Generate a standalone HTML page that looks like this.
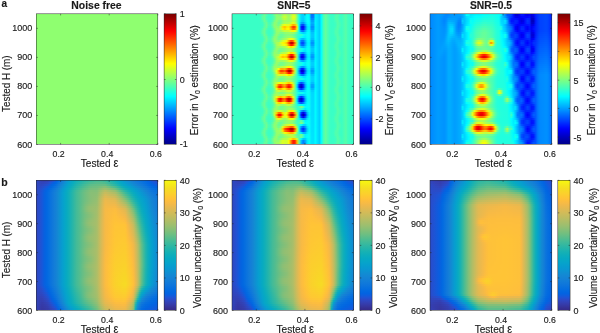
<!DOCTYPE html>
<html><head><meta charset="utf-8"><style>
html,body{margin:0;padding:0;background:#fff;width:600px;height:333px;overflow:hidden}
body{position:relative;font-family:"Liberation Sans",sans-serif;filter:blur(0.35px)}
.hm{position:absolute;overflow:hidden}
.hm i{display:block;width:100%}
svg{position:absolute;left:0;top:0}
text{font-family:"Liberation Sans",sans-serif;fill:#1a1a1a;stroke:#1a1a1a;stroke-width:0.15}
.tk{stroke:#262626;stroke-width:0.5;fill:none}
.bx{fill:none;stroke:#262626;stroke-width:0.5}
</style></head><body>
<div class="hm" style="left:36.30px;top:13.80px;width:121.50px;height:130.70px;background:#8fff70"></div>
<div class="hm" style="left:164.10px;top:13.80px;width:12.30px;height:130.70px;background:linear-gradient(180deg,#800000,#800,#980000,#a80000,#b80000,#c80000,#d90000,#e90000,#f90000,#ff0a00,#ff1a00,#ff2b00,#ff3b00,#ff4b00,#ff5b00,#ff6b00,#ff7c00,#ff8c00,#ff9c00,#ffac00,#ffbc00,#ffcd00,#fd0,#ffed00,#fffd00,#f1ff0e,#e1ff1e,#d0ff2f,#c0ff3f,#b0ff4f,#a0ff5f,#90ff6f,#7fff80,#6fff90,#5fffa0,#4fffb0,#3fffc0,#2effd1,#1effe1,#0efff1,#00fdff,#00edff,#00dcff,#0cf,#00bcff,#00acff,#009cff,#008cff,#007bff,#006bff,#005bff,#004bff,#003bff,#002aff,#001aff,#000aff,#0000f9,#0000e9,#0000d8,#0000c8,#0000b8,#0000a8,#000098,#00008f)"></div>
<div class="hm" style="left:232.00px;top:13.80px;width:121.50px;height:130.70px"><i style="height:2.011px;background:linear-gradient(90deg,#39ffc6,#39ffc6,#39ffc6,#39ffc6,#39ffc6,#39ffc6,#39ffc6,#39ffc6,#39ffc6,#39ffc6,#39ffc6,#39ffc6,#39ffc6,#39ffc6,#3bffc4,#4fffb0,#6cff93,#52ffad,#3cffc3,#3bffc4,#49ffb6,#71ff8e,#90ff6f,#80ff7f,#7dff82,#a4ff5b,#baff45,#a5ff5a,#93ff6c,#af5,#d7ff28,#cdff32,#7f8,#18ffe7,#00daff,#00ceff,#00e9ff,#05fffa,#00f8ff,#07f,#0070ff,#00e9ff,#00e3ff,#00ceff,#04fffb,#45ffba,#63ff9c,#51ffae,#3dffc2,#39ffc6,#3bffc4,#4dffb2,#5fa,#40ffbf,#3bffc4,#4affb5,#57ffa8,#42ffbd,#3affc5,#39ffc6,#39ffc6)"></i><i style="height:2.011px;background:linear-gradient(90deg,#39ffc6,#39ffc6,#39ffc6,#39ffc6,#39ffc6,#39ffc6,#39ffc6,#39ffc6,#39ffc6,#39ffc6,#39ffc6,#39ffc6,#39ffc6,#3affc5,#3effc1,#5bffa4,#69ff96,#47ffb8,#3affc5,#3affc5,#43ffbc,#63ff9c,#8eff71,#90ff6f,#8fff70,#b8ff47,#ceff31,#b1ff4e,#9f6,#b3ff4c,#e8ff17,#dfff20,#81ff7e,#1bffe4,#00dbff,#00cfff,#00e9ff,#05fffa,#00f8ff,#07f,#0071ff,#00e9ff,#00e3ff,#00ceff,#04fffb,#45ffba,#63ff9c,#51ffae,#3dffc2,#39ffc6,#3effc1,#53ffac,#51ffae,#3dffc2,#3bffc4,#4affb5,#57ffa8,#42ffbd,#3affc5,#39ffc6,#39ffc6)"></i><i style="height:2.011px;background:linear-gradient(90deg,#39ffc6,#39ffc6,#39ffc6,#39ffc6,#39ffc6,#39ffc6,#39ffc6,#39ffc6,#39ffc6,#39ffc6,#39ffc6,#39ffc6,#39ffc6,#39ffc6,#3dffc2,#58ffa7,#6bff94,#4affb5,#3bffc4,#3bffc4,#4fb,#67ff98,#90ff6f,#8cff73,#86ff79,#a8ff57,#bdff42,#a9ff56,#97ff68,#afff50,#dcff23,#d1ff2e,#7aff85,#19ffe6,#00daff,#00cdff,#00e8ff,#05fffa,#00fbff,#008aff,#0084ff,#00edff,#00e3ff,#00ceff,#04fffb,#45ffba,#63ff9c,#51ffae,#3dffc2,#39ffc6,#3dffc2,#51ffae,#52ffad,#3dffc2,#3bffc4,#4affb5,#57ffa8,#42ffbd,#3affc5,#39ffc6,#39ffc6)"></i><i style="height:2.011px;background:linear-gradient(90deg,#39ffc6,#39ffc6,#39ffc6,#39ffc6,#39ffc6,#39ffc6,#39ffc6,#39ffc6,#39ffc6,#39ffc6,#39ffc6,#39ffc6,#39ffc6,#39ffc6,#3affc5,#48ffb7,#6aff95,#5affa5,#3effc1,#3dffc2,#50ffaf,#7cff83,#91ff6e,#78ff87,#71ff8e,#8cff73,#a1ff5e,#9cff63,#97ff68,#af5,#c7ff38,#b9ff46,#6dff92,#13ffec,#00d0ff,#00c2ff,#00e1ff,#03fffc,#01fffe,#00a2ff,#009cff,#00f2ff,#00e3ff,#00ceff,#04fffb,#45ffba,#63ff9c,#51ffae,#3dffc2,#39ffc6,#3bffc4,#4affb5,#57ffa8,#42ffbd,#3bffc4,#4affb5,#57ffa8,#42ffbd,#3affc5,#39ffc6,#39ffc6)"></i><i style="height:2.011px;background:linear-gradient(90deg,#39ffc6,#39ffc6,#39ffc6,#39ffc6,#39ffc6,#39ffc6,#39ffc6,#39ffc6,#39ffc6,#39ffc6,#39ffc6,#39ffc6,#39ffc6,#39ffc6,#3affc5,#3effc1,#5bffa4,#69ff96,#48ffb7,#4fb,#63ff9c,#8dff72,#87ff78,#6aff95,#72ff8d,#93ff6c,#a8ff57,#a8ff57,#acff53,#c5ff3a,#e1ff1e,#cfff30,#7cff83,#0afff5,#0af,#0096ff,#00c8ff,#00faff,#02fffd,#00adff,#00a8ff,#00f4ff,#00e4ff,#00ceff,#04fffb,#45ffba,#63ff9c,#51ffae,#3dffc2,#39ffc6,#3affc5,#43ffbc,#57ffa8,#49ffb6,#3cffc3,#4affb5,#57ffa8,#42ffbd,#3affc5,#39ffc6,#39ffc6)"></i><i style="height:2.011px;background:linear-gradient(90deg,#39ffc6,#39ffc6,#39ffc6,#39ffc6,#39ffc6,#39ffc6,#39ffc6,#39ffc6,#39ffc6,#39ffc6,#39ffc6,#39ffc6,#39ffc6,#39ffc6,#39ffc6,#3cffc3,#5fa,#6cff93,#4effb1,#48ffb7,#6cff93,#91ff6e,#84ff7b,#73ff8c,#97ff68,#d6ff29,#efff10,#deff21,#e1ff1e,#ffe700,#ffab00,#ffbd00,#c3ff3c,#05fffa,#005fff,#003dff,#0094ff,#00eaff,#00fcff,#00a2ff,#009cff,#00f2ff,#00e4ff,#00ceff,#04fffb,#45ffba,#63ff9c,#51ffae,#3dffc2,#39ffc6,#39ffc6,#40ffbf,#56ffa9,#4cffb3,#3dffc2,#4affb5,#57ffa8,#42ffbd,#3affc5,#39ffc6,#39ffc6)"></i><i style="height:2.011px;background:linear-gradient(90deg,#39ffc6,#39ffc6,#39ffc6,#39ffc6,#39ffc6,#39ffc6,#39ffc6,#39ffc6,#39ffc6,#39ffc6,#39ffc6,#39ffc6,#39ffc6,#39ffc6,#3affc5,#3fffc0,#5effa1,#68ff97,#46ffb9,#43ffbc,#61ff9e,#8eff71,#92ff6d,#89ff76,#c3ff3c,#ffdc00,#ffc000,#ffe800,#ffeb00,#ff9700,#ff3700,#ff4800,#fff300,#04fffb,#001fff,#0000ef,#0067ff,#00dcff,#00f6ff,#0090ff,#008aff,#0ef,#00e3ff,#00ceff,#04fffb,#45ffba,#63ff9c,#51ffae,#3dffc2,#39ffc6,#3affc5,#4fb,#58ffa7,#48ffb7,#3cffc3,#4affb5,#57ffa8,#42ffbd,#3affc5,#39ffc6,#39ffc6)"></i><i style="height:2.011px;background:linear-gradient(90deg,#39ffc6,#39ffc6,#39ffc6,#39ffc6,#39ffc6,#39ffc6,#39ffc6,#39ffc6,#39ffc6,#39ffc6,#39ffc6,#39ffc6,#39ffc6,#39ffc6,#3bffc4,#4bffb4,#6cff93,#56ffa9,#3effc1,#3effc1,#4fffb0,#7cff83,#9dff62,#9aff65,#beff41,#fff100,#ffd700,#fff800,#fff900,#ffb000,#ff5e00,#ff7000,#f3ff0c,#03fffc,#0030ff,#0005ff,#0073ff,#00e0ff,#00f9ff,#0098ff,#0093ff,#00f0ff,#00e3ff,#00ceff,#04fffb,#45ffba,#63ff9c,#51ffae,#3dffc2,#39ffc6,#3bffc4,#4cffb3,#56ffa9,#41ffbe,#3bffc4,#4affb5,#57ffa8,#42ffbd,#3affc5,#39ffc6,#39ffc6)"></i><i style="height:2.011px;background:linear-gradient(90deg,#39ffc6,#39ffc6,#39ffc6,#39ffc6,#39ffc6,#39ffc6,#39ffc6,#39ffc6,#39ffc6,#39ffc6,#39ffc6,#39ffc6,#39ffc6,#39ffc6,#3effc1,#59ffa6,#6aff95,#49ffb6,#3bffc4,#3cffc3,#46ffb9,#69ff96,#96ff69,#9bff64,#98ff67,#b6ff49,#c9ff36,#c3ff3c,#c7ff38,#e7ff18,#fff700,#f2ff0d,#94ff6b,#05fffa,#0085ff,#0068ff,#00abff,#00f1ff,#02fffd,#00b4ff,#00aeff,#00f5ff,#00e4ff,#00ceff,#04fffb,#45ffba,#63ff9c,#51ffae,#3dffc2,#39ffc6,#3dffc2,#52ffad,#51ffae,#3dffc2,#3bffc4,#4affb5,#57ffa8,#42ffbd,#3affc5,#39ffc6,#39ffc6)"></i><i style="height:2.011px;background:linear-gradient(90deg,#39ffc6,#39ffc6,#39ffc6,#39ffc6,#39ffc6,#39ffc6,#39ffc6,#39ffc6,#39ffc6,#39ffc6,#39ffc6,#39ffc6,#39ffc6,#39ffc6,#3effc1,#5affa5,#6aff95,#48ffb7,#3bffc4,#3bffc4,#45ffba,#67ff98,#92ff6d,#8fff70,#7f8,#7cff83,#8bff74,#94ff6b,#98ff67,#9bff64,#97ff68,#81ff7e,#51ffae,#14ffeb,#00e9ff,#00d0ff,#0df,#0ff,#07fff8,#00c6ff,#00c1ff,#00f9ff,#00e4ff,#00ceff,#04fffb,#45ffba,#63ff9c,#51ffae,#3dffc2,#39ffc6,#3dffc2,#52ffad,#51ffae,#3dffc2,#3bffc4,#4affb5,#57ffa8,#42ffbd,#3affc5,#39ffc6,#39ffc6)"></i><i style="height:2.011px;background:linear-gradient(90deg,#39ffc6,#39ffc6,#39ffc6,#39ffc6,#39ffc6,#39ffc6,#39ffc6,#39ffc6,#39ffc6,#39ffc6,#39ffc6,#39ffc6,#39ffc6,#39ffc6,#3bffc4,#4cffb3,#6cff93,#56ffa9,#3dffc2,#3dffc2,#4dffb2,#78ff87,#93ff6c,#7aff85,#64ff9b,#6aff95,#7aff85,#85ff7a,#8f7,#82ff7d,#74ff8b,#5dffa2,#3dffc2,#26ffd9,#30ffcf,#12ffed,#00f5ff,#05fffa,#09fff6,#0cf,#00c6ff,#00faff,#00e4ff,#00ceff,#04fffb,#45ffba,#63ff9c,#51ffae,#3dffc2,#39ffc6,#3bffc4,#4cffb3,#56ffa9,#41ffbe,#3bffc4,#4affb5,#57ffa8,#42ffbd,#3affc5,#39ffc6,#39ffc6)"></i><i style="height:2.011px;background:linear-gradient(90deg,#39ffc6,#39ffc6,#39ffc6,#39ffc6,#39ffc6,#39ffc6,#39ffc6,#39ffc6,#39ffc6,#39ffc6,#39ffc6,#39ffc6,#39ffc6,#39ffc6,#3affc5,#40ffbf,#5fffa0,#67ff98,#46ffb9,#42ffbd,#60ff9f,#8bff74,#89ff76,#69ff96,#61ff9e,#6fff90,#80ff7f,#8eff71,#97ff68,#96ff69,#84ff7b,#65ff9a,#3dffc2,#1cffe3,#16ffe9,#00fbff,#00efff,#04fffb,#09fff6,#00cbff,#00c5ff,#00faff,#00e4ff,#00ceff,#04fffb,#45ffba,#63ff9c,#51ffae,#3dffc2,#39ffc6,#3affc5,#4fb,#58ffa7,#48ffb7,#3cffc3,#4affb5,#57ffa8,#42ffbd,#3affc5,#39ffc6,#39ffc6)"></i><i style="height:2.011px;background:linear-gradient(90deg,#39ffc6,#39ffc6,#39ffc6,#39ffc6,#39ffc6,#39ffc6,#39ffc6,#39ffc6,#39ffc6,#39ffc6,#39ffc6,#39ffc6,#39ffc6,#39ffc6,#39ffc6,#3cffc3,#5fa,#6cff93,#4effb1,#48ffb7,#6cff93,#92ff6d,#85ff7a,#6dff92,#7f8,#8fff70,#a1ff5e,#b8ff47,#deff21,#f7ff08,#e3ff1c,#a3ff5c,#53ffac,#03fffc,#00c5ff,#00b3ff,#00d3ff,#00fdff,#06fff9,#00c0ff,#00baff,#00f8ff,#00e4ff,#00ceff,#04fffb,#45ffba,#63ff9c,#51ffae,#3dffc2,#39ffc6,#39ffc6,#40ffbf,#56ffa9,#4cffb3,#3dffc2,#4affb5,#57ffa8,#42ffbd,#3affc5,#39ffc6,#39ffc6)"></i><i style="height:2.011px;background:linear-gradient(90deg,#39ffc6,#39ffc6,#39ffc6,#39ffc6,#39ffc6,#39ffc6,#39ffc6,#39ffc6,#39ffc6,#39ffc6,#39ffc6,#39ffc6,#39ffc6,#39ffc6,#3affc5,#3effc1,#5bffa4,#6aff95,#49ffb6,#46ffb9,#67ff98,#93ff6c,#94ff6b,#8aff75,#abff54,#d2ff2d,#e3ff1c,#fff500,#ff9800,#f40,#ff5c00,#ffe000,#80ff7f,#00efff,#007fff,#006bff,#00afff,#00f3ff,#00feff,#00a7ff,#00a1ff,#00f2ff,#00e4ff,#00ceff,#04fffb,#45ffba,#63ff9c,#51ffae,#3dffc2,#39ffc6,#3affc5,#42ffbd,#57ffa8,#49ffb6,#3cffc3,#4affb5,#57ffa8,#42ffbd,#3affc5,#39ffc6,#39ffc6)"></i><i style="height:2.011px;background:linear-gradient(90deg,#39ffc6,#39ffc6,#39ffc6,#39ffc6,#39ffc6,#39ffc6,#39ffc6,#39ffc6,#39ffc6,#39ffc6,#39ffc6,#39ffc6,#39ffc6,#39ffc6,#3affc5,#48ffb7,#6aff95,#5bffa4,#40ffbf,#40ffbf,#5fa,#86ff79,#a7ff58,#aeff51,#d7ff28,#fff800,#ffeb00,#ffbd00,#ff3700,#b80000,#d30000,#f80,#a1ff5e,#00e6ff,#005aff,#0043ff,#09f,#00ecff,#00f9ff,#0094ff,#008fff,#00efff,#00e3ff,#00ceff,#04fffb,#45ffba,#63ff9c,#51ffae,#3dffc2,#39ffc6,#3bffc4,#4affb5,#57ffa8,#42ffbd,#3bffc4,#4affb5,#57ffa8,#42ffbd,#3affc5,#39ffc6,#39ffc6)"></i><i style="height:2.011px;background:linear-gradient(90deg,#39ffc6,#39ffc6,#39ffc6,#39ffc6,#39ffc6,#39ffc6,#39ffc6,#39ffc6,#39ffc6,#39ffc6,#39ffc6,#39ffc6,#39ffc6,#39ffc6,#3dffc2,#57ffa8,#6bff94,#4bffb4,#3cffc3,#3dffc2,#4affb5,#71ff8e,#a4ff5b,#b7ff48,#c9ff36,#e7ff18,#f4ff0b,#ffe100,#ff7600,#ff1300,#ff2d00,#ffc100,#8cff73,#00edff,#0075ff,#005fff,#00a8ff,#00f0ff,#00fcff,#00a2ff,#009cff,#00f1ff,#00e3ff,#00ceff,#04fffb,#45ffba,#63ff9c,#51ffae,#3dffc2,#39ffc6,#3dffc2,#51ffae,#52ffad,#3effc1,#3bffc4,#4affb5,#57ffa8,#42ffbd,#3affc5,#39ffc6,#39ffc6)"></i><i style="height:2.011px;background:linear-gradient(90deg,#39ffc6,#39ffc6,#39ffc6,#39ffc6,#39ffc6,#39ffc6,#39ffc6,#39ffc6,#39ffc6,#39ffc6,#39ffc6,#39ffc6,#39ffc6,#3affc5,#3effc1,#5bffa4,#69ff96,#48ffb7,#3bffc4,#3cffc3,#47ffb8,#6aff95,#9aff65,#a2ff5d,#98ff67,#a2ff5d,#b1ff4e,#cf3,#fcff03,#ffdc00,#fff100,#beff41,#5dffa2,#04fffb,#00c6ff,#00b0ff,#00ceff,#00fbff,#04fffb,#00bdff,#00b7ff,#00f7ff,#00e4ff,#00ceff,#04fffb,#45ffba,#63ff9c,#51ffae,#3dffc2,#39ffc6,#3effc1,#53ffac,#51ffae,#3dffc2,#3bffc4,#4affb5,#57ffa8,#42ffbd,#3affc5,#39ffc6,#39ffc6)"></i><i style="height:2.011px;background:linear-gradient(90deg,#39ffc6,#39ffc6,#39ffc6,#39ffc6,#39ffc6,#39ffc6,#39ffc6,#39ffc6,#39ffc6,#39ffc6,#39ffc6,#39ffc6,#39ffc6,#39ffc6,#3bffc4,#4fffb0,#6cff93,#52ffad,#3dffc2,#3dffc2,#4cffb3,#76ff89,#98ff67,#8f7,#74ff8b,#7bff84,#8bff74,#9cff63,#abff54,#aeff51,#9bff64,#74ff8b,#4fb,#1fffe0,#1cffe3,#00feff,#00ecff,#03fffc,#08fff7,#0cf,#00c6ff,#00faff,#00e4ff,#00ceff,#04fffb,#45ffba,#63ff9c,#51ffae,#3dffc2,#39ffc6,#3cffc3,#4effb1,#5fa,#3fffc0,#3bffc4,#4affb5,#57ffa8,#42ffbd,#3affc5,#39ffc6,#39ffc6)"></i><i style="height:2.011px;background:linear-gradient(90deg,#39ffc6,#39ffc6,#39ffc6,#39ffc6,#39ffc6,#39ffc6,#39ffc6,#39ffc6,#39ffc6,#39ffc6,#39ffc6,#39ffc6,#39ffc6,#39ffc6,#3affc5,#41ffbe,#62ff9d,#65ff9a,#4fb,#41ffbe,#5dffa2,#8aff75,#91ff6e,#74ff8b,#6fff90,#7eff81,#8dff72,#9dff62,#acff53,#b0ff4f,#9dff62,#75ff8a,#42ffbd,#19ffe6,#10ffef,#00f1ff,#00e5ff,#01fffe,#08fff7,#0cf,#00c6ff,#00faff,#00e4ff,#00ceff,#04fffb,#45ffba,#63ff9c,#51ffae,#3dffc2,#39ffc6,#3affc5,#45ffba,#58ffa7,#46ffb9,#3cffc3,#4affb5,#57ffa8,#42ffbd,#3affc5,#39ffc6,#39ffc6)"></i><i style="height:2.011px;background:linear-gradient(90deg,#39ffc6,#39ffc6,#39ffc6,#39ffc6,#39ffc6,#39ffc6,#39ffc6,#39ffc6,#39ffc6,#39ffc6,#39ffc6,#39ffc6,#39ffc6,#39ffc6,#39ffc6,#3dffc2,#56ffa9,#6cff93,#4effb1,#48ffb7,#6cff93,#94ff6b,#8dff72,#81ff7e,#9aff65,#b3ff4c,#baff45,#d0ff2f,#fffc00,#ffd500,#ffea00,#c1ff3e,#59ffa6,#0ef,#009bff,#0083ff,#00b6ff,#00f3ff,#03fffc,#00bdff,#00b8ff,#00f7ff,#00e4ff,#00ceff,#04fffb,#45ffba,#63ff9c,#51ffae,#3dffc2,#39ffc6,#39ffc6,#41ffbe,#56ffa9,#4cffb3,#3dffc2,#4affb5,#57ffa8,#42ffbd,#3affc5,#39ffc6,#39ffc6)"></i><i style="height:2.011px;background:linear-gradient(90deg,#39ffc6,#39ffc6,#39ffc6,#39ffc6,#39ffc6,#39ffc6,#39ffc6,#39ffc6,#39ffc6,#39ffc6,#39ffc6,#39ffc6,#39ffc6,#39ffc6,#3affc5,#3dffc2,#59ffa6,#6bff94,#4cffb3,#47ffb8,#6bff94,#97ff68,#9dff62,#adff52,#ef1,#ffea00,#fff600,#ffdc00,#ff7100,#ff0c00,#ff2600,#ffbf00,#82ff7d,#00c3ff,#0025ff,#000cff,#0079ff,#00e1ff,#00faff,#00a3ff,#009dff,#00f1ff,#00e3ff,#00ceff,#04fffb,#45ffba,#63ff9c,#51ffae,#3dffc2,#39ffc6,#39ffc6,#42ffbd,#57ffa8,#4affb5,#3dffc2,#4affb5,#57ffa8,#42ffbd,#3affc5,#39ffc6,#39ffc6)"></i><i style="height:2.011px;background:linear-gradient(90deg,#39ffc6,#39ffc6,#39ffc6,#39ffc6,#39ffc6,#39ffc6,#39ffc6,#39ffc6,#39ffc6,#39ffc6,#39ffc6,#39ffc6,#39ffc6,#39ffc6,#3affc5,#45ffba,#68ff97,#5fffa0,#41ffbe,#41ffbe,#5affa5,#8dff72,#b1ff4e,#d0ff2f,#ffe800,#ffc000,#ffd500,#fb0,#ff3900,#b00,#d60000,#ff8c00,#92ff6d,#00b5ff,#0000fe,#0000e3,#0063ff,#00dbff,#00f6ff,#0098ff,#0093ff,#00efff,#00e3ff,#00ceff,#04fffb,#45ffba,#63ff9c,#51ffae,#3dffc2,#39ffc6,#3affc5,#48ffb7,#58ffa7,#4fb,#3cffc3,#4affb5,#57ffa8,#42ffbd,#3affc5,#39ffc6,#39ffc6)"></i><i style="height:2.011px;background:linear-gradient(90deg,#39ffc6,#39ffc6,#39ffc6,#39ffc6,#39ffc6,#39ffc6,#39ffc6,#39ffc6,#39ffc6,#39ffc6,#39ffc6,#39ffc6,#39ffc6,#39ffc6,#3cffc3,#5fa,#6cff93,#4dffb2,#3cffc3,#3effc1,#4bffb4,#75ff8a,#af5,#c5ff3a,#e1ff1e,#f5ff0a,#ef1,#fff700,#ff9f00,#ff4e00,#f60,#ffe800,#74ff8b,#00ceff,#0042ff,#002cff,#008aff,#00e7ff,#00fdff,#00adff,#00a7ff,#00f3ff,#00e4ff,#00ceff,#04fffb,#45ffba,#63ff9c,#51ffae,#3dffc2,#39ffc6,#3cffc3,#50ffaf,#53ffac,#3effc1,#3bffc4,#4affb5,#57ffa8,#42ffbd,#3affc5,#39ffc6,#39ffc6)"></i><i style="height:2.011px;background:linear-gradient(90deg,#39ffc6,#39ffc6,#39ffc6,#39ffc6,#39ffc6,#39ffc6,#39ffc6,#39ffc6,#39ffc6,#39ffc6,#39ffc6,#39ffc6,#39ffc6,#3affc5,#3effc1,#5cffa3,#69ff96,#47ffb8,#3bffc4,#3cffc3,#46ffb9,#69ff96,#9aff65,#a5ff5a,#9aff65,#9dff62,#a5ff5a,#b7ff48,#daff25,#f1ff0e,#df2,#9eff61,#4dffb2,#00f8ff,#00b8ff,#00a2ff,#00c6ff,#00f8ff,#05fffa,#00c6ff,#00c1ff,#00f8ff,#00e4ff,#00ceff,#04fffb,#45ffba,#63ff9c,#51ffae,#3dffc2,#39ffc6,#3effc1,#53ffac,#50ffaf,#3dffc2,#3bffc4,#4affb5,#57ffa8,#42ffbd,#3affc5,#39ffc6,#39ffc6)"></i><i style="height:2.011px;background:linear-gradient(90deg,#39ffc6,#39ffc6,#39ffc6,#39ffc6,#39ffc6,#39ffc6,#39ffc6,#39ffc6,#39ffc6,#39ffc6,#39ffc6,#39ffc6,#39ffc6,#39ffc6,#3cffc3,#53ffac,#6cff93,#4fffb0,#3cffc3,#3dffc2,#4affb5,#72ff8d,#98ff67,#8bff74,#73ff8c,#76ff89,#84ff7b,#92ff6d,#9aff65,#97ff68,#84ff7b,#64ff9b,#3cffc3,#1cffe3,#1cffe3,#00feff,#00ecff,#03fffc,#09fff6,#00d1ff,#0cf,#00faff,#00e4ff,#00ceff,#04fffb,#45ffba,#63ff9c,#51ffae,#3dffc2,#39ffc6,#3cffc3,#4fffb0,#54ffab,#3fffc0,#3bffc4,#4affb5,#57ffa8,#42ffbd,#3affc5,#39ffc6,#39ffc6)"></i><i style="height:2.011px;background:linear-gradient(90deg,#39ffc6,#39ffc6,#39ffc6,#39ffc6,#39ffc6,#39ffc6,#39ffc6,#39ffc6,#39ffc6,#39ffc6,#39ffc6,#39ffc6,#39ffc6,#39ffc6,#3affc5,#43ffbc,#6f9,#61ff9e,#42ffbd,#40ffbf,#59ffa6,#8f7,#96ff69,#7bff84,#71ff8e,#7bff84,#8bff74,#9cff63,#a3ff5c,#98ff67,#7dff82,#5cffa3,#36ffc9,#18ffe7,#15ffea,#00f8ff,#00eaff,#02fffd,#09fff6,#00d1ff,#0cf,#00faff,#00e4ff,#00ceff,#04fffb,#45ffba,#63ff9c,#51ffae,#3dffc2,#39ffc6,#3affc5,#47ffb8,#58ffa7,#4fb,#3cffc3,#4affb5,#57ffa8,#42ffbd,#3affc5,#39ffc6,#39ffc6)"></i><i style="height:2.011px;background:linear-gradient(90deg,#39ffc6,#39ffc6,#39ffc6,#39ffc6,#39ffc6,#39ffc6,#39ffc6,#39ffc6,#39ffc6,#39ffc6,#39ffc6,#39ffc6,#39ffc6,#39ffc6,#3affc5,#3dffc2,#57ffa8,#6cff93,#4dffb2,#48ffb7,#6cff93,#98ff67,#9aff65,#9f6,#b0ff4f,#bcff43,#c7ff38,#e9ff16,#fff700,#f5ff0a,#b7ff48,#73ff8c,#34ffcb,#00e8ff,#00a6ff,#0093ff,#00bfff,#00f6ff,#05fffa,#00c7ff,#00c1ff,#00f8ff,#00e4ff,#00ceff,#04fffb,#45ffba,#63ff9c,#51ffae,#3dffc2,#39ffc6,#39ffc6,#41ffbe,#57ffa8,#4bffb4,#3dffc2,#4affb5,#57ffa8,#42ffbd,#3affc5,#39ffc6,#39ffc6)"></i><i style="height:2.011px;background:linear-gradient(90deg,#39ffc6,#39ffc6,#39ffc6,#39ffc6,#39ffc6,#39ffc6,#39ffc6,#39ffc6,#39ffc6,#39ffc6,#39ffc6,#39ffc6,#39ffc6,#39ffc6,#3affc5,#3dffc2,#57ffa8,#6dff92,#4effb1,#4affb5,#70ff8f,#a3ff5c,#c1ff3e,#ff0,#ffb100,#ffae00,#ffbc00,#ff7c00,#ff2f00,#ff4d00,#ffd100,#a3ff5c,#3fc,#00aeff,#0028ff,#0014ff,#007eff,#00e3ff,#00fcff,#00adff,#00a8ff,#00f3ff,#00e4ff,#00ceff,#04fffb,#45ffba,#63ff9c,#51ffae,#3dffc2,#39ffc6,#39ffc6,#41ffbe,#56ffa9,#4bffb4,#3dffc2,#4affb5,#57ffa8,#42ffbd,#3affc5,#39ffc6,#39ffc6)"></i><i style="height:2.011px;background:linear-gradient(90deg,#39ffc6,#39ffc6,#39ffc6,#39ffc6,#39ffc6,#39ffc6,#39ffc6,#39ffc6,#39ffc6,#39ffc6,#39ffc6,#39ffc6,#39ffc6,#39ffc6,#3affc5,#43ffbc,#65ff9a,#64ff9b,#45ffba,#45ffba,#63ff9c,#a1ff5e,#ecff13,#ffa500,#ff3800,#ff4000,#ff6400,#ff1200,#a50000,#cb0000,#ff8000,#c4ff3b,#3fc,#008cff,#0000e2,#00c,#0056ff,#00d7ff,#00f6ff,#009bff,#0096ff,#00efff,#00e3ff,#00ceff,#04fffb,#45ffba,#63ff9c,#51ffae,#3dffc2,#39ffc6,#3affc5,#46ffb9,#58ffa7,#45ffba,#3cffc3,#4affb5,#57ffa8,#42ffbd,#3affc5,#39ffc6,#39ffc6)"></i><i style="height:2.011px;background:linear-gradient(90deg,#39ffc6,#39ffc6,#39ffc6,#39ffc6,#39ffc6,#39ffc6,#39ffc6,#39ffc6,#39ffc6,#39ffc6,#39ffc6,#39ffc6,#39ffc6,#39ffc6,#3cffc3,#51ffae,#6dff92,#51ffae,#3effc1,#40ffbf,#52ffad,#8f7,#df2,#ffc600,#ff8300,#ff8e00,#ffa300,#ff5e00,#ff0800,#ff2900,#ffba00,#acff53,#32ffcd,#00a3ff,#0013ff,#0000fe,#0072ff,#00dfff,#00faff,#00a9ff,#00a4ff,#00f2ff,#00e3ff,#00ceff,#04fffb,#45ffba,#63ff9c,#51ffae,#3dffc2,#39ffc6,#3cffc3,#4fffb0,#54ffab,#3fffc0,#3bffc4,#4affb5,#57ffa8,#42ffbd,#3affc5,#39ffc6,#39ffc6)"></i><i style="height:2.011px;background:linear-gradient(90deg,#39ffc6,#39ffc6,#39ffc6,#39ffc6,#39ffc6,#39ffc6,#39ffc6,#39ffc6,#39ffc6,#39ffc6,#39ffc6,#39ffc6,#39ffc6,#3affc5,#3effc1,#5cffa3,#69ff96,#48ffb7,#3cffc3,#3effc1,#49ffb6,#71ff8e,#b1ff4e,#d7ff28,#deff21,#d7ff28,#daff25,#fffc00,#ffd700,#ffeb00,#c9ff36,#7aff85,#3fc,#00dbff,#08f,#0076ff,#00b2ff,#00f3ff,#04fffb,#00c5ff,#00bfff,#00f7ff,#00e4ff,#00ceff,#04fffb,#45ffba,#63ff9c,#51ffae,#3dffc2,#39ffc6,#3effc1,#53ffac,#50ffaf,#3dffc2,#3bffc4,#4affb5,#57ffa8,#42ffbd,#3affc5,#39ffc6,#39ffc6)"></i><i style="height:2.011px;background:linear-gradient(90deg,#39ffc6,#39ffc6,#39ffc6,#39ffc6,#39ffc6,#39ffc6,#39ffc6,#39ffc6,#39ffc6,#39ffc6,#39ffc6,#39ffc6,#39ffc6,#39ffc6,#3dffc2,#56ffa9,#6cff93,#4cffb3,#3cffc3,#3dffc2,#49ffb6,#70ff8f,#9cff63,#9f6,#84ff7b,#83ff7c,#90ff6f,#a3ff5c,#acff53,#9fff60,#80ff7f,#5cffa3,#34ffcb,#0efff1,#00fcff,#00e4ff,#00e3ff,#01fffe,#09fff6,#00d4ff,#00ceff,#00faff,#00e4ff,#00ceff,#04fffb,#45ffba,#63ff9c,#51ffae,#3dffc2,#39ffc6,#3dffc2,#51ffae,#53ffac,#3effc1,#3bffc4,#4affb5,#57ffa8,#42ffbd,#3affc5,#39ffc6,#39ffc6)"></i><i style="height:2.011px;background:linear-gradient(90deg,#39ffc6,#39ffc6,#39ffc6,#39ffc6,#39ffc6,#39ffc6,#39ffc6,#39ffc6,#39ffc6,#39ffc6,#39ffc6,#39ffc6,#39ffc6,#39ffc6,#3affc5,#46ffb9,#69ff96,#5dffa2,#40ffbf,#3fffc0,#5fa,#83ff7c,#97ff68,#7bff84,#6aff95,#71ff8e,#80ff7f,#8dff72,#90ff6f,#84ff7b,#6eff91,#53ffac,#32ffcd,#1cffe3,#2affd5,#10ffef,#00f5ff,#05fffa,#0afff5,#00d7ff,#00d1ff,#00fbff,#00e4ff,#00ceff,#04fffb,#45ffba,#63ff9c,#51ffae,#3dffc2,#39ffc6,#3affc5,#49ffb6,#57ffa8,#43ffbc,#3bffc4,#4affb5,#57ffa8,#42ffbd,#3affc5,#39ffc6,#39ffc6)"></i><i style="height:2.011px;background:linear-gradient(90deg,#39ffc6,#39ffc6,#39ffc6,#39ffc6,#39ffc6,#39ffc6,#39ffc6,#39ffc6,#39ffc6,#39ffc6,#39ffc6,#39ffc6,#39ffc6,#39ffc6,#3affc5,#3effc1,#5affa5,#6bff94,#4bffb4,#47ffb8,#69ff96,#96ff69,#97ff68,#85ff7a,#84ff7b,#8aff75,#9f6,#aeff51,#b6ff49,#a4ff5b,#80ff7f,#58ffa7,#25ffda,#0ef,#00daff,#00d6ff,#00e6ff,#04fffb,#09fff6,#00d2ff,#00cdff,#00faff,#00e4ff,#00ceff,#04fffb,#45ffba,#63ff9c,#51ffae,#3dffc2,#39ffc6,#39ffc6,#42ffbd,#57ffa8,#4affb5,#3cffc3,#4affb5,#57ffa8,#42ffbd,#3affc5,#39ffc6,#39ffc6)"></i><i style="height:2.011px;background:linear-gradient(90deg,#39ffc6,#39ffc6,#39ffc6,#39ffc6,#39ffc6,#39ffc6,#39ffc6,#39ffc6,#39ffc6,#39ffc6,#39ffc6,#39ffc6,#39ffc6,#39ffc6,#3affc5,#3dffc2,#56ffa9,#6dff92,#50ffaf,#4bffb4,#73ff8c,#a8ff57,#c7ff38,#eaff15,#fdff02,#e7ff18,#e8ff17,#ffe700,#ffc800,#ffed00,#beff41,#68ff97,#07fff8,#0090ff,#004eff,#0074ff,#00c7ff,#00fdff,#05fffa,#00c1ff,#0bf,#00f6ff,#00e4ff,#00ceff,#04fffb,#45ffba,#63ff9c,#51ffae,#3dffc2,#39ffc6,#39ffc6,#41ffbe,#56ffa9,#4cffb3,#3dffc2,#4affb5,#57ffa8,#42ffbd,#3affc5,#39ffc6,#39ffc6)"></i><i style="height:2.011px;background:linear-gradient(90deg,#39ffc6,#39ffc6,#39ffc6,#39ffc6,#39ffc6,#39ffc6,#39ffc6,#39ffc6,#39ffc6,#39ffc6,#39ffc6,#39ffc6,#39ffc6,#39ffc6,#3affc5,#41ffbe,#61ff9e,#67ff98,#47ffb8,#47ffb8,#6bff94,#baff45,#ffdc00,#ff6a00,#ff4600,#ff8e00,#ffab00,#ff5c00,#ff1d00,#ff5b00,#fe0,#7dff82,#00e2ff,#002cff,#0000cb,#001cff,#00a8ff,#00f7ff,#00feff,#00a7ff,#00a1ff,#00f1ff,#00e3ff,#00ceff,#04fffb,#45ffba,#63ff9c,#51ffae,#3dffc2,#39ffc6,#3affc5,#45ffba,#58ffa7,#47ffb8,#3cffc3,#4affb5,#57ffa8,#42ffbd,#3affc5,#39ffc6,#39ffc6)"></i><i style="height:2.011px;background:linear-gradient(90deg,#39ffc6,#39ffc6,#39ffc6,#39ffc6,#39ffc6,#39ffc6,#39ffc6,#39ffc6,#39ffc6,#39ffc6,#39ffc6,#39ffc6,#39ffc6,#39ffc6,#3bffc4,#4effb1,#6dff92,#5fa,#40ffbf,#43ffbc,#5bffa4,#abff54,#ffc200,#f30,#ff1700,#ff7200,#ff9600,#ff4100,#fb0000,#ff3f00,#ffde00,#81ff7e,#00dcff,#001aff,#0000b5,#000dff,#00a3ff,#00f6ff,#00fdff,#00a2ff,#009cff,#00f0ff,#00e3ff,#00ceff,#04fffb,#45ffba,#63ff9c,#51ffae,#3dffc2,#39ffc6,#3bffc4,#4dffb2,#5fa,#40ffbf,#3bffc4,#4affb5,#57ffa8,#42ffbd,#3affc5,#39ffc6,#39ffc6)"></i><i style="height:2.011px;background:linear-gradient(90deg,#39ffc6,#39ffc6,#39ffc6,#39ffc6,#39ffc6,#39ffc6,#39ffc6,#39ffc6,#39ffc6,#39ffc6,#39ffc6,#39ffc6,#39ffc6,#3affc5,#3effc1,#5bffa4,#6aff95,#49ffb6,#3dffc2,#40ffbf,#4fffb0,#8f7,#f3ff0c,#ffb300,#ffb200,#ffe700,#fff200,#ffb900,#ff8f00,#ffbd00,#d9ff26,#6fff90,#00faff,#0071ff,#0028ff,#005bff,#00bdff,#00fbff,#03fffc,#00baff,#00b4ff,#00f5ff,#00e4ff,#00ceff,#04fffb,#45ffba,#63ff9c,#51ffae,#3dffc2,#39ffc6,#3effc1,#53ffac,#51ffae,#3dffc2,#3bffc4,#4affb5,#57ffa8,#42ffbd,#3affc5,#39ffc6,#39ffc6)"></i><i style="height:2.011px;background:linear-gradient(90deg,#39ffc6,#39ffc6,#39ffc6,#39ffc6,#39ffc6,#39ffc6,#39ffc6,#39ffc6,#39ffc6,#39ffc6,#39ffc6,#39ffc6,#39ffc6,#3affc5,#3dffc2,#58ffa7,#6bff94,#4affb5,#3dffc2,#3fffc0,#4cffb3,#7f8,#b4ff4b,#c7ff38,#b3ff4c,#a5ff5a,#aeff51,#caff35,#d7ff28,#c0ff3f,#90ff6f,#5cffa3,#1fffe0,#00dcff,#00c6ff,#00caff,#00e1ff,#03fffc,#08fff7,#00d1ff,#0cf,#00faff,#00e4ff,#00ceff,#04fffb,#45ffba,#63ff9c,#51ffae,#3dffc2,#39ffc6,#3dffc2,#52ffad,#52ffad,#3dffc2,#3bffc4,#4affb5,#57ffa8,#42ffbd,#3affc5,#39ffc6,#39ffc6)"></i><i style="height:2.011px;background:linear-gradient(90deg,#39ffc6,#39ffc6,#39ffc6,#39ffc6,#39ffc6,#39ffc6,#39ffc6,#39ffc6,#39ffc6,#39ffc6,#39ffc6,#39ffc6,#39ffc6,#39ffc6,#3affc5,#49ffb6,#6bff94,#59ffa6,#3fffc0,#40ffbf,#54ffab,#83ff7c,#a1ff5e,#8fff70,#7dff82,#81ff7e,#90ff6f,#a2ff5d,#a6ff59,#97ff68,#79ff86,#56ffa9,#2cffd3,#0dfff2,#18ffe7,#06fff9,#00f2ff,#05fffa,#0afff5,#00daff,#00d5ff,#00fbff,#00e4ff,#00ceff,#04fffb,#45ffba,#63ff9c,#51ffae,#3dffc2,#39ffc6,#3bffc4,#4bffb4,#57ffa8,#42ffbd,#3bffc4,#4affb5,#57ffa8,#42ffbd,#3affc5,#39ffc6,#39ffc6)"></i><i style="height:2.011px;background:linear-gradient(90deg,#39ffc6,#39ffc6,#39ffc6,#39ffc6,#39ffc6,#39ffc6,#39ffc6,#39ffc6,#39ffc6,#39ffc6,#39ffc6,#39ffc6,#39ffc6,#39ffc6,#3affc5,#3fffc0,#5dffa2,#6aff95,#49ffb6,#46ffb9,#68ff97,#9aff65,#a9ff56,#a3ff5c,#a5ff5a,#a5ff5a,#b3ff4c,#d3ff2c,#e4ff1b,#cbff34,#96ff69,#5fffa0,#20ffdf,#00deff,#00caff,#00cdff,#00e2ff,#03fffc,#0afff5,#00dcff,#00d7ff,#00fcff,#00e4ff,#00ceff,#04fffb,#45ffba,#63ff9c,#51ffae,#3dffc2,#39ffc6,#3affc5,#43ffbc,#57ffa8,#49ffb6,#3cffc3,#4affb5,#57ffa8,#42ffbd,#3affc5,#39ffc6,#39ffc6)"></i><i style="height:2.011px;background:linear-gradient(90deg,#39ffc6,#39ffc6,#39ffc6,#39ffc6,#39ffc6,#39ffc6,#39ffc6,#39ffc6,#39ffc6,#39ffc6,#39ffc6,#39ffc6,#39ffc6,#39ffc6,#3affc5,#3dffc2,#5fa,#6dff92,#51ffae,#4dffb2,#76ff89,#b2ff4d,#e7ff18,#ffd400,#ffb600,#ffdc00,#ffe000,#f90,#ff6500,#f90,#edff12,#7f8,#00fdff,#0074ff,#002cff,#005dff,#00beff,#00fcff,#0afff5,#0df,#00d7ff,#00fcff,#00e4ff,#00ceff,#04fffb,#45ffba,#63ff9c,#51ffae,#3dffc2,#39ffc6,#39ffc6,#40ffbf,#56ffa9,#4cffb3,#3dffc2,#4affb5,#57ffa8,#42ffbd,#3affc5,#39ffc6,#39ffc6)"></i><i style="height:2.011px;background:linear-gradient(90deg,#39ffc6,#39ffc6,#39ffc6,#39ffc6,#39ffc6,#39ffc6,#39ffc6,#39ffc6,#39ffc6,#39ffc6,#39ffc6,#39ffc6,#39ffc6,#39ffc6,#3affc5,#3fffc0,#5effa1,#6aff95,#4affb5,#49ffb6,#71ff8e,#c5ff3a,#ffc000,#ff2d00,#fa0000,#ff5400,#ff7200,#ff0600,#af0000,#fc0000,#ffba00,#8fff70,#00e0ff,#001bff,#0000b6,#000eff,#00a3ff,#00f7ff,#09fff6,#0df,#00d8ff,#00fcff,#00e4ff,#00ceff,#04fffb,#45ffba,#63ff9c,#51ffae,#3dffc2,#39ffc6,#3affc5,#43ffbc,#58ffa7,#48ffb7,#3cffc3,#4affb5,#57ffa8,#42ffbd,#3affc5,#39ffc6,#39ffc6)"></i><i style="height:2.011px;background:linear-gradient(90deg,#39ffc6,#39ffc6,#39ffc6,#39ffc6,#39ffc6,#39ffc6,#39ffc6,#39ffc6,#39ffc6,#39ffc6,#39ffc6,#39ffc6,#39ffc6,#39ffc6,#3bffc4,#4bffb4,#6cff93,#59ffa6,#41ffbe,#43ffbc,#5effa1,#afff50,#ffc300,#ff3700,#ff1700,#ff6d00,#ff8600,#ff2100,#d00000,#ff1a00,#ffca00,#8aff75,#00e5ff,#002bff,#0000c9,#001bff,#00a7ff,#00f8ff,#09fff6,#00deff,#00d8ff,#00fcff,#00e4ff,#00ceff,#04fffb,#45ffba,#63ff9c,#51ffae,#3dffc2,#39ffc6,#3bffc4,#4bffb4,#56ffa9,#41ffbe,#3bffc4,#4affb5,#57ffa8,#42ffbd,#3affc5,#39ffc6,#39ffc6)"></i><i style="height:2.011px;background:linear-gradient(90deg,#39ffc6,#39ffc6,#39ffc6,#39ffc6,#39ffc6,#39ffc6,#39ffc6,#39ffc6,#39ffc6,#39ffc6,#39ffc6,#39ffc6,#39ffc6,#3affc5,#3effc1,#59ffa6,#6bff94,#4affb5,#3dffc2,#40ffbf,#4effb1,#84ff7b,#e3ff1c,#ffd500,#ffd900,#fcff03,#fcff03,#ffc700,#ff9f00,#ffca00,#d2ff2d,#6fff90,#08fff7,#0091ff,#0054ff,#0079ff,#00c8ff,#00feff,#0afff5,#00deff,#00d9ff,#00fcff,#00e4ff,#00ceff,#04fffb,#45ffba,#63ff9c,#51ffae,#3dffc2,#39ffc6,#3dffc2,#52ffad,#51ffae,#3dffc2,#3bffc4,#4affb5,#57ffa8,#42ffbd,#3affc5,#39ffc6,#39ffc6)"></i><i style="height:2.011px;background:linear-gradient(90deg,#39ffc6,#39ffc6,#39ffc6,#39ffc6,#39ffc6,#39ffc6,#39ffc6,#39ffc6,#39ffc6,#39ffc6,#39ffc6,#39ffc6,#39ffc6,#3affc5,#3effc1,#5affa5,#6aff95,#49ffb6,#3cffc3,#3dffc2,#49ffb6,#70ff8f,#a8ff57,#b5ff4a,#9eff61,#92ff6d,#9fff60,#b7ff48,#c3ff3c,#afff50,#86ff79,#5affa5,#27ffd8,#00feff,#09fff6,#00fbff,#0ef,#04fffb,#0bfff4,#00dfff,#00d9ff,#00fcff,#00e4ff,#00ceff,#04fffb,#45ffba,#63ff9c,#51ffae,#3dffc2,#39ffc6,#3dffc2,#52ffad,#51ffae,#3dffc2,#3bffc4,#4affb5,#57ffa8,#42ffbd,#3affc5,#39ffc6,#39ffc6)"></i><i style="height:2.011px;background:linear-gradient(90deg,#39ffc6,#39ffc6,#39ffc6,#39ffc6,#39ffc6,#39ffc6,#39ffc6,#39ffc6,#39ffc6,#39ffc6,#39ffc6,#39ffc6,#39ffc6,#39ffc6,#3bffc4,#4dffb2,#6cff93,#5fa,#3dffc2,#3effc1,#4fffb0,#7aff85,#9aff65,#86ff79,#6eff91,#71ff8e,#80ff7f,#8dff72,#90ff6f,#86ff79,#71ff8e,#56ffa9,#37ffc8,#3fffc0,#8f7,#5affa5,#05fffa,#05fffa,#0afff5,#00dfff,#00daff,#00fcff,#00e4ff,#00ceff,#04fffb,#45ffba,#63ff9c,#51ffae,#3dffc2,#39ffc6,#3bffc4,#4cffb3,#56ffa9,#40ffbf,#3bffc4,#4affb5,#57ffa8,#42ffbd,#3affc5,#39ffc6,#39ffc6)"></i><i style="height:2.011px;background:linear-gradient(90deg,#39ffc6,#39ffc6,#39ffc6,#39ffc6,#39ffc6,#39ffc6,#39ffc6,#39ffc6,#39ffc6,#39ffc6,#39ffc6,#39ffc6,#39ffc6,#39ffc6,#3affc5,#40ffbf,#60ff9f,#67ff98,#46ffb9,#43ffbc,#61ff9e,#90ff6f,#98ff67,#80ff7f,#75ff8a,#79ff86,#84ff7b,#92ff6d,#9eff61,#a0ff5f,#8fff70,#6dff92,#42ffbd,#2effd1,#46ffb9,#18ffe7,#00e7ff,#00fbff,#09fff6,#00dfff,#00daff,#00fcff,#00e4ff,#00ceff,#04fffb,#45ffba,#63ff9c,#51ffae,#3dffc2,#39ffc6,#3affc5,#4fb,#58ffa7,#47ffb8,#3cffc3,#4affb5,#57ffa8,#42ffbd,#3affc5,#39ffc6,#39ffc6)"></i><i style="height:2.011px;background:linear-gradient(90deg,#39ffc6,#39ffc6,#39ffc6,#39ffc6,#39ffc6,#39ffc6,#39ffc6,#39ffc6,#39ffc6,#39ffc6,#39ffc6,#39ffc6,#39ffc6,#39ffc6,#39ffc6,#3cffc3,#5fa,#6dff92,#4fffb0,#4affb5,#71ff8e,#a7ff58,#c2ff3d,#d2ff2d,#cfff30,#b1ff4e,#a4ff5b,#bf4,#ecff13,#ffe900,#fff500,#c1ff3e,#61ff9e,#02fffd,#00abff,#0076ff,#0096ff,#00e0ff,#03fffc,#00dfff,#00dbff,#00fcff,#00e4ff,#00ceff,#04fffb,#45ffba,#63ff9c,#51ffae,#3dffc2,#39ffc6,#39ffc6,#40ffbf,#56ffa9,#4cffb3,#3dffc2,#4affb5,#57ffa8,#42ffbd,#3affc5,#39ffc6,#39ffc6)"></i><i style="height:2.011px;background:linear-gradient(90deg,#39ffc6,#39ffc6,#39ffc6,#39ffc6,#39ffc6,#39ffc6,#39ffc6,#39ffc6,#39ffc6,#39ffc6,#39ffc6,#39ffc6,#39ffc6,#39ffc6,#3affc5,#3effc1,#5bffa4,#6bff94,#4bffb4,#48ffb7,#72ff8d,#c7ff38,#ffcd00,#ff6d00,#ff7500,#ffe200,#d8ff27,#fcff03,#ff9000,#ff1f00,#ff2300,#ffad00,#9bff64,#00e8ff,#0037ff,#0000de,#002fff,#00b7ff,#00f8ff,#00dfff,#00dbff,#00fcff,#00e4ff,#00ceff,#04fffb,#45ffba,#63ff9c,#51ffae,#3dffc2,#39ffc6,#3affc5,#42ffbd,#57ffa8,#4affb5,#3cffc3,#4affb5,#57ffa8,#42ffbd,#3affc5,#39ffc6,#39ffc6)"></i><i style="height:2.011px;background:linear-gradient(90deg,#39ffc6,#39ffc6,#39ffc6,#39ffc6,#39ffc6,#39ffc6,#39ffc6,#39ffc6,#39ffc6,#39ffc6,#39ffc6,#39ffc6,#39ffc6,#39ffc6,#3affc5,#47ffb8,#6aff95,#5cffa3,#41ffbe,#43ffbc,#64ff9b,#cbff34,#ff8500,#f30000,#ff0b00,#ffa900,#f2ff0d,#ffe300,#ff4f00,#b90000,#b80000,#ff6400,#b9ff46,#00e0ff,#000bff,#0000a0,#00f,#00a3ff,#00f4ff,#00dfff,#00dcff,#00fcff,#00e4ff,#00ceff,#04fffb,#45ffba,#63ff9c,#51ffae,#3dffc2,#39ffc6,#3affc5,#49ffb6,#57ffa8,#42ffbd,#3bffc4,#4affb5,#57ffa8,#42ffbd,#3affc5,#39ffc6,#39ffc6)"></i><i style="height:2.011px;background:linear-gradient(90deg,#39ffc6,#39ffc6,#39ffc6,#39ffc6,#39ffc6,#39ffc6,#39ffc6,#39ffc6,#39ffc6,#39ffc6,#39ffc6,#39ffc6,#39ffc6,#39ffc6,#3dffc2,#57ffa8,#6cff93,#4cffb3,#3dffc2,#3fffc0,#53ffac,#a0ff5f,#ffce00,#ff6200,#ff8000,#ffef00,#d1ff2e,#f3ff0c,#ffa200,#ff3c00,#ff4000,#ffc100,#93ff6c,#00ebff,#0046ff,#0000f2,#003cff,#00bcff,#00faff,#00e0ff,#00dcff,#00fcff,#00e4ff,#00ceff,#04fffb,#45ffba,#63ff9c,#51ffae,#3dffc2,#39ffc6,#3dffc2,#51ffae,#52ffad,#3effc1,#3bffc4,#4affb5,#57ffa8,#42ffbd,#3affc5,#39ffc6,#39ffc6)"></i><i style="height:2.011px;background:linear-gradient(90deg,#39ffc6,#39ffc6,#39ffc6,#39ffc6,#39ffc6,#39ffc6,#39ffc6,#39ffc6,#39ffc6,#39ffc6,#39ffc6,#39ffc6,#39ffc6,#3affc5,#3effc1,#5bffa4,#69ff96,#48ffb7,#3cffc3,#3dffc2,#4affb5,#79ff86,#c9ff36,#edff12,#d0ff2f,#a9ff56,#9eff61,#b3ff4c,#df2,#feff01,#f1ff0e,#b0ff4f,#5bffa4,#0afff5,#00c8ff,#0094ff,#00a5ff,#00e5ff,#04fffb,#00e1ff,#0df,#00fcff,#00e4ff,#00ceff,#04fffb,#45ffba,#63ff9c,#51ffae,#3dffc2,#39ffc6,#3effc1,#53ffac,#50ffaf,#3dffc2,#3bffc4,#4affb5,#57ffa8,#42ffbd,#3affc5,#39ffc6,#39ffc6)"></i><i style="height:2.011px;background:linear-gradient(90deg,#39ffc6,#39ffc6,#39ffc6,#39ffc6,#39ffc6,#39ffc6,#39ffc6,#39ffc6,#39ffc6,#39ffc6,#39ffc6,#39ffc6,#39ffc6,#39ffc6,#3bffc4,#50ffaf,#6dff92,#51ffae,#3cffc3,#3dffc2,#4cffb3,#7f8,#9fff60,#93ff6c,#79ff86,#7f8,#82ff7d,#90ff6f,#9aff65,#9aff65,#8aff75,#6aff95,#43ffbc,#3affc5,#6f9,#3fc,#00f0ff,#00fdff,#09fff6,#00e3ff,#00deff,#00fcff,#00e4ff,#00ceff,#04fffb,#45ffba,#63ff9c,#51ffae,#3dffc2,#39ffc6,#3cffc3,#4effb1,#5fa,#3fffc0,#3bffc4,#4affb5,#57ffa8,#42ffbd,#3affc5,#39ffc6,#39ffc6)"></i><i style="height:2.011px;background:linear-gradient(90deg,#39ffc6,#39ffc6,#39ffc6,#39ffc6,#39ffc6,#39ffc6,#39ffc6,#39ffc6,#39ffc6,#39ffc6,#39ffc6,#39ffc6,#39ffc6,#39ffc6,#3affc5,#42ffbd,#63ff9c,#64ff9b,#43ffbc,#40ffbf,#5bffa4,#8f7,#8eff71,#6eff91,#62ff9d,#70ff8f,#83ff7c,#91ff6e,#97ff68,#94ff6b,#83ff7c,#6f9,#43ffbc,#45ffba,#82ff7d,#4fffb0,#00fdff,#03fffc,#0afff5,#00e3ff,#00deff,#00fcff,#00e4ff,#00ceff,#04fffb,#45ffba,#63ff9c,#51ffae,#3dffc2,#39ffc6,#3affc5,#46ffb9,#58ffa7,#46ffb9,#3cffc3,#4affb5,#57ffa8,#42ffbd,#3affc5,#39ffc6,#39ffc6)"></i><i style="height:2.011px;background:linear-gradient(90deg,#39ffc6,#39ffc6,#39ffc6,#39ffc6,#39ffc6,#39ffc6,#39ffc6,#39ffc6,#39ffc6,#39ffc6,#39ffc6,#39ffc6,#39ffc6,#39ffc6,#39ffc6,#3dffc2,#56ffa9,#6cff93,#4dffb2,#47ffb8,#6aff95,#90ff6f,#82ff7d,#64ff9b,#6aff95,#8dff72,#b3ff4c,#c9ff36,#d9ff26,#e6ff19,#d6ff29,#a0ff5f,#5affa5,#21ffde,#05fffa,#00dbff,#00d2ff,#00f7ff,#08fff7,#00e4ff,#00dfff,#00fcff,#00e4ff,#00ceff,#04fffb,#45ffba,#63ff9c,#51ffae,#3dffc2,#39ffc6,#39ffc6,#41ffbe,#56ffa9,#4cffb3,#3dffc2,#4affb5,#57ffa8,#42ffbd,#3affc5,#39ffc6,#39ffc6)"></i><i style="height:2.011px;background:linear-gradient(90deg,#39ffc6,#39ffc6,#39ffc6,#39ffc6,#39ffc6,#39ffc6,#39ffc6,#39ffc6,#39ffc6,#39ffc6,#39ffc6,#39ffc6,#39ffc6,#39ffc6,#39ffc6,#3dffc2,#58ffa7,#6bff94,#4bffb4,#46ffb9,#69ff96,#91ff6e,#87ff78,#6fff90,#8bff74,#deff21,#fc0,#ffa700,#ff8600,#f50,#ff6500,#ffd800,#93ff6c,#0dfff2,#009aff,#0065ff,#0092ff,#00e0ff,#03fffc,#00e4ff,#00dfff,#00fcff,#00e4ff,#00ceff,#04fffb,#45ffba,#63ff9c,#51ffae,#3dffc2,#39ffc6,#39ffc6,#41ffbe,#57ffa8,#4bffb4,#3dffc2,#4affb5,#57ffa8,#42ffbd,#3affc5,#39ffc6,#39ffc6)"></i><i style="height:2.011px;background:linear-gradient(90deg,#39ffc6,#39ffc6,#39ffc6,#39ffc6,#39ffc6,#39ffc6,#39ffc6,#39ffc6,#39ffc6,#39ffc6,#39ffc6,#39ffc6,#39ffc6,#39ffc6,#3affc5,#4fb,#67ff98,#60ff9f,#41ffbe,#40ffbf,#58ffa7,#87ff78,#98ff67,#87ff78,#aeff51,#ffcf00,#ff4d00,#ff1e00,#f30000,#a30000,#b40000,#ff5f00,#c8ff37,#0bfff4,#006bff,#0023ff,#0062ff,#00cdff,#00feff,#00e4ff,#00e0ff,#00fdff,#00e4ff,#00ceff,#04fffb,#45ffba,#63ff9c,#51ffae,#3dffc2,#39ffc6,#3affc5,#47ffb8,#58ffa7,#4fb,#3cffc3,#4affb5,#57ffa8,#42ffbd,#3affc5,#39ffc6,#39ffc6)"></i><i style="height:2.011px;background:linear-gradient(90deg,#39ffc6,#39ffc6,#39ffc6,#39ffc6,#39ffc6,#39ffc6,#39ffc6,#39ffc6,#39ffc6,#39ffc6,#39ffc6,#39ffc6,#39ffc6,#39ffc6,#3cffc3,#54ffab,#6cff93,#4dffb2,#3cffc3,#3dffc2,#4affb5,#72ff8d,#9cff63,#9bff64,#afff50,#ffe700,#ff7500,#ff4900,#f20,#da0000,#eb0000,#ff8400,#b8ff47,#0efff1,#0080ff,#003cff,#0072ff,#00d3ff,#0ff,#00e4ff,#00e0ff,#00fdff,#00e4ff,#00ceff,#04fffb,#45ffba,#63ff9c,#51ffae,#3dffc2,#39ffc6,#3cffc3,#50ffaf,#53ffac,#3effc1,#3bffc4,#4affb5,#57ffa8,#42ffbd,#3affc5,#39ffc6,#39ffc6)"></i><i style="height:2.011px;background:linear-gradient(90deg,#39ffc6,#39ffc6,#39ffc6,#39ffc6,#39ffc6,#39ffc6,#39ffc6,#39ffc6,#39ffc6,#39ffc6,#39ffc6,#39ffc6,#39ffc6,#3affc5,#3effc1,#5cffa3,#69ff96,#47ffb8,#3bffc4,#3cffc3,#45ffba,#67ff98,#96ff69,#9aff65,#92ff6d,#bcff43,#f6ff09,#ffea00,#ffcf00,#ffae00,#ffbe00,#e9ff16,#7bff84,#23ffdc,#00ecff,#00b5ff,#00b5ff,#00ebff,#06fff9,#00e5ff,#00e1ff,#00fdff,#00e4ff,#00ceff,#04fffb,#45ffba,#63ff9c,#51ffae,#3dffc2,#39ffc6,#3effc1,#53ffac,#50ffaf,#3dffc2,#3bffc4,#4affb5,#57ffa8,#42ffbd,#3affc5,#39ffc6,#39ffc6)"></i><i style="height:2.011px;background:linear-gradient(90deg,#39ffc6,#39ffc6,#39ffc6,#39ffc6,#39ffc6,#39ffc6,#39ffc6,#39ffc6,#39ffc6,#39ffc6,#39ffc6,#39ffc6,#39ffc6,#39ffc6,#3cffc3,#53ffac,#6cff93,#4effb1,#3cffc3,#3cffc3,#49ffb6,#70ff8f,#97ff68,#8bff74,#7f8,#83ff7c,#9dff62,#b0ff4f,#bcff43,#c3ff3c,#b5ff4a,#8dff72,#59ffa6,#4affb5,#7aff85,#40ffbf,#00f2ff,#00fdff,#0afff5,#00e6ff,#00e1ff,#00fdff,#00e4ff,#00ceff,#04fffb,#45ffba,#63ff9c,#51ffae,#3dffc2,#39ffc6,#3cffc3,#50ffaf,#54ffab,#3effc1,#3bffc4,#4affb5,#57ffa8,#42ffbd,#3affc5,#39ffc6,#39ffc6)"></i><i style="height:2.011px;background:linear-gradient(90deg,#39ffc6,#39ffc6,#39ffc6,#39ffc6,#39ffc6,#39ffc6,#39ffc6,#39ffc6,#39ffc6,#39ffc6,#39ffc6,#39ffc6,#39ffc6,#39ffc6,#3affc5,#4fb,#6f9,#60ff9f,#41ffbe,#3fffc0,#57ffa8,#85ff7a,#94ff6b,#7aff85,#71ff8e,#80ff7f,#90ff6f,#9dff62,#af5,#b7ff48,#baff45,#a2ff5d,#6eff91,#51ffae,#71ff8e,#39ffc6,#00f3ff,#0ff,#0afff5,#00e7ff,#00e2ff,#00fdff,#00e4ff,#00ceff,#04fffb,#45ffba,#63ff9c,#51ffae,#3dffc2,#39ffc6,#3affc5,#47ffb8,#58ffa7,#4fb,#3cffc3,#4affb5,#57ffa8,#42ffbd,#3affc5,#39ffc6,#39ffc6)"></i><i style="height:2.011px;background:linear-gradient(90deg,#39ffc6,#39ffc6,#39ffc6,#39ffc6,#39ffc6,#39ffc6,#39ffc6,#39ffc6,#39ffc6,#39ffc6,#39ffc6,#39ffc6,#39ffc6,#39ffc6,#39ffc6,#3dffc2,#58ffa7,#6bff94,#4cffb3,#47ffb8,#69ff96,#92ff6d,#8dff72,#7dff82,#90ff6f,#a8ff57,#adff52,#b3ff4c,#d1ff2e,#fff200,#ffbe00,#ffcf00,#caff35,#50ffaf,#00fcff,#00c6ff,#00c9ff,#00f4ff,#08fff7,#00e7ff,#00e2ff,#00fdff,#00e4ff,#00ceff,#04fffb,#45ffba,#63ff9c,#51ffae,#3dffc2,#39ffc6,#39ffc6,#41ffbe,#57ffa8,#4bffb4,#3dffc2,#4affb5,#57ffa8,#42ffbd,#3affc5,#39ffc6,#39ffc6)"></i><i style="height:2.011px;background:linear-gradient(90deg,#39ffc6,#39ffc6,#39ffc6,#39ffc6,#39ffc6,#39ffc6,#39ffc6,#39ffc6,#39ffc6,#39ffc6,#39ffc6,#39ffc6,#39ffc6,#39ffc6,#39ffc6,#3dffc2,#56ffa9,#6cff93,#4dffb2,#48ffb7,#6cff93,#95ff6a,#92ff6d,#93ff6c,#beff41,#dcff23,#d3ff2c,#cfff30,#fffb00,#ff8900,#ff1a00,#ff2500,#ffc200,#6bff94,#00c4ff,#007fff,#00a4ff,#00e7ff,#05fffa,#00e7ff,#00e3ff,#00fdff,#00e4ff,#00ceff,#04fffb,#45ffba,#63ff9c,#51ffae,#3dffc2,#39ffc6,#39ffc6,#41ffbe,#56ffa9,#4cffb3,#3dffc2,#4affb5,#57ffa8,#42ffbd,#3affc5,#39ffc6,#39ffc6)"></i><i style="height:2.011px;background:linear-gradient(90deg,#39ffc6,#39ffc6,#39ffc6,#39ffc6,#39ffc6,#39ffc6,#39ffc6,#39ffc6,#39ffc6,#39ffc6,#39ffc6,#39ffc6,#39ffc6,#39ffc6,#3affc5,#42ffbd,#63ff9c,#64ff9b,#43ffbc,#41ffbe,#5dffa2,#8dff72,#9fff60,#a0ff5f,#c1ff3e,#df2,#d2ff2d,#cfff30,#fffb00,#ff8900,#ff1a00,#ff2400,#ffc200,#69ff96,#00beff,#007aff,#00a3ff,#00e7ff,#05fffa,#00e8ff,#00e3ff,#00fdff,#00e4ff,#00ceff,#04fffb,#45ffba,#63ff9c,#51ffae,#3dffc2,#39ffc6,#3affc5,#46ffb9,#58ffa7,#46ffb9,#3cffc3,#4affb5,#57ffa8,#42ffbd,#3affc5,#39ffc6,#39ffc6)"></i></div>
<div class="hm" style="left:359.80px;top:13.80px;width:12.30px;height:130.70px;background:linear-gradient(180deg,#800000,#800,#980000,#a80000,#b80000,#c80000,#d90000,#e90000,#f90000,#ff0a00,#ff1a00,#ff2b00,#ff3b00,#ff4b00,#ff5b00,#ff6b00,#ff7c00,#ff8c00,#ff9c00,#ffac00,#ffbc00,#ffcd00,#fd0,#ffed00,#fffd00,#f1ff0e,#e1ff1e,#d0ff2f,#c0ff3f,#b0ff4f,#a0ff5f,#90ff6f,#7fff80,#6fff90,#5fffa0,#4fffb0,#3fffc0,#2effd1,#1effe1,#0efff1,#00fdff,#00edff,#00dcff,#0cf,#00bcff,#00acff,#009cff,#008cff,#007bff,#006bff,#005bff,#004bff,#003bff,#002aff,#001aff,#000aff,#0000f9,#0000e9,#0000d8,#0000c8,#0000b8,#0000a8,#000098,#00008f)"></div>
<div class="hm" style="left:430.00px;top:13.80px;width:121.80px;height:130.70px"><i style="height:2.011px;background:linear-gradient(90deg,#0087ff,#008dff,#0092ff,#0097ff,#009cff,#09f,#0097ff,#008fff,#0087ff,#008bff,#0094ff,#09f,#0096ff,#0098ff,#009eff,#00a1ff,#00aeff,#00c8ff,#00feff,#00faff,#00e6ff,#0ef,#00f6ff,#00faff,#00f8ff,#00fbff,#03fffc,#09fff6,#0afff5,#0dfff2,#13ffec,#15ffea,#10ffef,#0cfff3,#05fffa,#00f0ff,#00b0ff,#008fff,#05f,#004eff,#0043ff,#0015ff,#0000dc,#0000d3,#0000f2,#0015ff,#0013ff,#0000f6,#0000e6,#0000fc,#0000da,#0000f5,#0020ff,#0032ff,#0041ff,#0043ff,#0046ff,#0049ff,#04f,#0034ff,#0023ff)"></i><i style="height:2.011px;background:linear-gradient(90deg,#0087ff,#008dff,#0092ff,#0097ff,#009bff,#0097ff,#0091ff,#0089ff,#0089ff,#0091ff,#0097ff,#009aff,#09f,#009aff,#0098ff,#0095ff,#00a7ff,#00c2ff,#00e0ff,#00e9ff,#00ecff,#00f5ff,#00feff,#05fffa,#04fffb,#07fff8,#0efff1,#14ffeb,#14ffeb,#16ffe9,#1affe5,#1bffe4,#14ffeb,#0ffff0,#08fff7,#00d7ff,#00b8ff,#0098ff,#006bff,#004cff,#03f,#0016ff,#0000f5,#0000ec,#0000f6,#0003ff,#0007ff,#0003ff,#0002ff,#000cff,#0000d0,#0000e3,#001eff,#0032ff,#0041ff,#0043ff,#0046ff,#0049ff,#04f,#0034ff,#0023ff)"></i><i style="height:2.011px;background:linear-gradient(90deg,#0087ff,#008dff,#0092ff,#0097ff,#009bff,#0096ff,#008eff,#0086ff,#008cff,#009cff,#009fff,#009fff,#009eff,#009cff,#0090ff,#008bff,#0bf,#00c0ff,#00d6ff,#00e5ff,#00feff,#00fbff,#07fff8,#0efff1,#0ffff0,#13ffec,#1affe5,#1fffe0,#1dffe2,#1effe1,#21ffde,#20ffdf,#18ffe7,#12ffed,#0cfff3,#00d1ff,#00c5ff,#00c3ff,#0086ff,#0046ff,#001dff,#0014ff,#0013ff,#000cff,#0000f9,#0000ea,#0000f5,#0012ff,#0024ff,#001cff,#0000c0,#0000cb,#001aff,#0032ff,#0041ff,#0043ff,#0046ff,#0049ff,#04f,#0034ff,#0023ff)"></i><i style="height:2.011px;background:linear-gradient(90deg,#0087ff,#008dff,#0092ff,#0097ff,#009bff,#0096ff,#008eff,#0085ff,#0090ff,#00a7ff,#00acff,#00a9ff,#00a5ff,#009bff,#08f,#0085ff,#0cf,#00c1ff,#00d8ff,#00e8ff,#0ffff0,#03fffc,#0ffff0,#18ffe7,#19ffe6,#1effe1,#25ffda,#2affd5,#27ffd8,#27ffd8,#28ffd7,#26ffd9,#1cffe3,#15ffea,#10ffef,#00d8ff,#00d1ff,#00e5ff,#00a6ff,#0046ff,#0014ff,#0015ff,#0024ff,#001eff,#0000fc,#0000df,#0000ed,#001aff,#0036ff,#0026ff,#0000ba,#0000c0,#0019ff,#0032ff,#0041ff,#0043ff,#0046ff,#0049ff,#04f,#0034ff,#0023ff)"></i><i style="height:2.011px;background:linear-gradient(90deg,#0087ff,#008dff,#0092ff,#0097ff,#009bff,#0097ff,#008fff,#0087ff,#0094ff,#00b1ff,#00baff,#00b6ff,#00acff,#0098ff,#0081ff,#0082ff,#00c0ff,#00c3ff,#00dbff,#00ecff,#0dfff2,#0afff5,#17ffe8,#21ffde,#24ffdb,#29ffd6,#31ffce,#34ffcb,#31ffce,#2fffd0,#2fffd0,#2bffd4,#20ffdf,#18ffe7,#13ffec,#00dfff,#00d4ff,#00dcff,#00a3ff,#0053ff,#0023ff,#001eff,#02f,#0018ff,#00f,#0000ec,#0000f7,#0019ff,#002fff,#0025ff,#0000c4,#0000cd,#001aff,#0032ff,#0041ff,#0043ff,#0046ff,#0049ff,#04f,#0034ff,#0023ff)"></i><i style="height:2.011px;background:linear-gradient(90deg,#0087ff,#008dff,#0092ff,#0097ff,#009bff,#0097ff,#0091ff,#008aff,#0097ff,#00b7ff,#00c8ff,#00c5ff,#00b2ff,#0095ff,#007fff,#0082ff,#00a3ff,#00c6ff,#00e1ff,#00f2ff,#01fffe,#10ffef,#20ffdf,#2bffd4,#2fffd0,#34ffcb,#3cffc3,#3fffc0,#3bffc4,#38ffc7,#36ffc9,#31ffce,#24ffdb,#1bffe4,#17ffe8,#00e9ff,#00d2ff,#00b9ff,#0091ff,#0069ff,#0045ff,#002cff,#0012ff,#0002ff,#0004ff,#000aff,#000eff,#0012ff,#0016ff,#001cff,#0000d9,#0000eb,#001dff,#0032ff,#0041ff,#0043ff,#0046ff,#0049ff,#04f,#0034ff,#0023ff)"></i><i style="height:2.011px;background:linear-gradient(90deg,#0087ff,#008dff,#0092ff,#0097ff,#009cff,#0098ff,#0093ff,#008eff,#09f,#00b9ff,#00d2ff,#00d3ff,#00b6ff,#0093ff,#0080ff,#0086ff,#00a6ff,#00ceff,#09fff6,#0ffff0,#06fff9,#17ffe8,#28ffd7,#34ffcb,#39ffc6,#40ffbf,#47ffb8,#4affb5,#45ffba,#41ffbe,#3dffc2,#36ffc9,#29ffd6,#1effe1,#1bffe4,#16ffe9,#00d7ff,#00c0ff,#0098ff,#007dff,#0064ff,#0039ff,#0003ff,#0000ed,#0008ff,#0025ff,#0023ff,#000aff,#0000fd,#0013ff,#0000ed,#0008ff,#0020ff,#0032ff,#0041ff,#0043ff,#0046ff,#0049ff,#04f,#0034ff,#0023ff)"></i><i style="height:2.011px;background:linear-gradient(90deg,#0087ff,#008dff,#0092ff,#0097ff,#009cff,#0098ff,#0094ff,#0090ff,#009bff,#0bf,#00d9ff,#00dcff,#00b9ff,#0094ff,#0084ff,#008cff,#0af,#00d2ff,#14ffeb,#17ffe8,#0bfff4,#1effe1,#30ffcf,#3effc1,#4fb,#4bffb4,#53ffac,#5fa,#4fffb0,#49ffb6,#4fb,#3bffc4,#2dffd2,#20ffdf,#1effe1,#23ffdc,#0df,#00c7ff,#009fff,#0087ff,#006fff,#003fff,#0003ff,#0000eb,#000bff,#002cff,#0029ff,#000aff,#0000f9,#0012ff,#0000f3,#0010ff,#0020ff,#0032ff,#0041ff,#0043ff,#0046ff,#0049ff,#04f,#0034ff,#0023ff)"></i><i style="height:2.011px;background:linear-gradient(90deg,#0087ff,#008dff,#0092ff,#0097ff,#009cff,#09f,#0095ff,#0092ff,#009dff,#00bcff,#00d9ff,#00dcff,#00baff,#0098ff,#008bff,#0092ff,#00afff,#00d1ff,#00fbff,#0afff5,#10ffef,#24ffdb,#38ffc7,#48ffb7,#4fffb0,#56ffa9,#5effa1,#60ff9f,#59ffa6,#52ffad,#4bffb4,#41ffbe,#31ffce,#23ffdc,#20ffdf,#00f7ff,#00e2ff,#0cf,#00a5ff,#0084ff,#0060ff,#003eff,#0017ff,#0000fe,#000cff,#001cff,#001dff,#0013ff,#000fff,#001dff,#0000ea,#0001ff,#001fff,#03f,#0042ff,#0045ff,#0047ff,#004aff,#0046ff,#0035ff,#0025ff)"></i><i style="height:2.011px;background:linear-gradient(90deg,#0087ff,#008dff,#0092ff,#0097ff,#009cff,#09f,#0096ff,#0093ff,#00a0ff,#00bfff,#00d4ff,#00d3ff,#00b9ff,#009fff,#0093ff,#09f,#00c5ff,#00d0ff,#00e8ff,#00fdff,#1dffe2,#28ffd7,#3dffc2,#4dffb2,#5fa,#5cffa3,#64ff9b,#6f9,#5effa1,#56ffa9,#4effb1,#4fb,#3fc,#25ffda,#21ffde,#00fcff,#00ebff,#00e9ff,#00baff,#007bff,#0049ff,#003aff,#0032ff,#001eff,#000dff,#0002ff,#000aff,#001fff,#002fff,#002bff,#0000db,#0000e8,#001fff,#0036ff,#0045ff,#0048ff,#004bff,#004dff,#0049ff,#0038ff,#0028ff)"></i><i style="height:2.011px;background:linear-gradient(90deg,#0087ff,#008dff,#0092ff,#0097ff,#009cff,#09f,#0096ff,#0095ff,#00a4ff,#00c1ff,#0cf,#00c6ff,#00b7ff,#00a6ff,#009cff,#009fff,#00e0ff,#00d1ff,#00e8ff,#00fdff,#2affd5,#28ffd7,#3dffc2,#4dffb2,#5fa,#5dffa2,#64ff9b,#6f9,#5effa1,#56ffa9,#4fffb0,#4fb,#3fc,#25ffda,#21ffde,#01fffe,#00f6ff,#0ffff0,#00d4ff,#07f,#003bff,#0038ff,#0045ff,#0034ff,#000eff,#0000f0,#0000fc,#0028ff,#04f,#0035ff,#0000d3,#0000da,#0020ff,#0039ff,#0049ff,#004bff,#004eff,#0050ff,#004cff,#003bff,#002bff)"></i><i style="height:2.011px;background:linear-gradient(90deg,#0087ff,#008dff,#0092ff,#0097ff,#009cff,#09f,#0096ff,#0097ff,#00a9ff,#00c2ff,#00c3ff,#00baff,#00b3ff,#00adff,#00a5ff,#00a5ff,#0df,#00d2ff,#00e8ff,#00fdff,#27ffd8,#29ffd6,#3fffc0,#52ffad,#5cffa3,#62ff9d,#67ff98,#67ff98,#5effa1,#58ffa7,#52ffad,#47ffb8,#3fc,#25ffda,#21ffde,#05fffa,#00f8ff,#0bfff4,#00d5ff,#007fff,#0046ff,#003eff,#0045ff,#03f,#0010ff,#0000f6,#0002ff,#0027ff,#0040ff,#0034ff,#0000db,#0000e4,#0024ff,#003dff,#004cff,#004eff,#0051ff,#0054ff,#004fff,#003fff,#002eff)"></i><i style="height:2.011px;background:linear-gradient(90deg,#0087ff,#008dff,#0092ff,#0097ff,#009cff,#09f,#0097ff,#009aff,#00acff,#00c0ff,#0bf,#00b0ff,#00adff,#00b0ff,#00adff,#00abff,#00c0ff,#00d3ff,#00e8ff,#00feff,#16ffe9,#2cffd3,#4affb5,#6aff95,#7cff83,#7dff82,#76ff89,#6cff93,#61ff9e,#67ff98,#7bff84,#6f9,#3affc5,#25ffda,#21ffde,#08fff7,#00f3ff,#00e3ff,#00c0ff,#0092ff,#06f,#0049ff,#0035ff,#001fff,#0013ff,#0010ff,#0015ff,#001fff,#0027ff,#002aff,#0000f0,#0002ff,#002aff,#0040ff,#004fff,#0052ff,#0054ff,#0057ff,#0052ff,#0042ff,#0031ff)"></i><i style="height:2.011px;background:linear-gradient(90deg,#0087ff,#008dff,#0092ff,#0097ff,#009cff,#09f,#09f,#009dff,#00aeff,#00bcff,#00b5ff,#0af,#00a8ff,#00b0ff,#00b2ff,#00b1ff,#00beff,#00d8ff,#0cfff3,#15ffea,#15ffea,#3fc,#62ff9d,#9cff63,#beff41,#b6ff49,#94ff6b,#76ff89,#68ff97,#9bff64,#fff300,#d5ff2a,#52ffad,#27ffd8,#21ffde,#0cfff3,#00f6ff,#00e0ff,#00c2ff,#00afff,#08f,#05f,#0023ff,#0009ff,#0016ff,#002cff,#002aff,#0015ff,#000bff,#001fff,#0008ff,#02f,#0030ff,#0043ff,#0052ff,#05f,#0057ff,#005aff,#0056ff,#0045ff,#0034ff)"></i><i style="height:2.011px;background:linear-gradient(90deg,#0087ff,#008dff,#0092ff,#0097ff,#009cff,#009aff,#009bff,#00a0ff,#00adff,#00b7ff,#00b0ff,#00a7ff,#00a4ff,#00adff,#00b5ff,#00b5ff,#00c1ff,#00dbff,#1bffe4,#1effe1,#16ffe9,#36ffc9,#6eff91,#b7ff48,#e3ff1c,#d5ff2a,#a5ff5a,#7cff83,#6dff92,#c0ff3f,#ff8f00,#ffdc00,#63ff9c,#28ffd7,#21ffde,#0ffff0,#00f9ff,#00e4ff,#00c7ff,#00bdff,#0098ff,#005cff,#001fff,#0003ff,#0018ff,#0037ff,#0032ff,#01f,#0001ff,#001bff,#0013ff,#0030ff,#0034ff,#0046ff,#05f,#0058ff,#005bff,#005dff,#0059ff,#0048ff,#0038ff)"></i><i style="height:2.011px;background:linear-gradient(90deg,#0087ff,#008dff,#0092ff,#0097ff,#009cff,#009bff,#009dff,#00a1ff,#00a9ff,#00b2ff,#00aeff,#00a6ff,#00a1ff,#00a9ff,#00b5ff,#00b9ff,#00c3ff,#00d9ff,#07fff8,#1fe,#1fe,#2dffd2,#5cffa3,#93ff6c,#b3ff4c,#adff52,#8fff70,#75ff8a,#67ff98,#91ff6e,#f0ff0f,#c0ff3f,#4effb1,#27ffd8,#21ffde,#12ffed,#00fcff,#00e7ff,#0cf,#00b6ff,#008fff,#005bff,#002dff,#0013ff,#0018ff,#002bff,#0029ff,#0017ff,#0010ff,#02f,#000eff,#0026ff,#0036ff,#0049ff,#0059ff,#005bff,#005eff,#0060ff,#005cff,#004bff,#003bff)"></i><i style="height:2.011px;background:linear-gradient(90deg,#0087ff,#008dff,#0092ff,#0097ff,#009cff,#009cff,#009fff,#00a0ff,#00a5ff,#00afff,#00adff,#00a5ff,#009fff,#00a6ff,#00b2ff,#00baff,#00d0ff,#00d6ff,#00e9ff,#00faff,#0afff5,#18ffe7,#41ffbe,#64ff9b,#75ff8a,#78ff87,#74ff8b,#6cff93,#61ff9e,#63ff9c,#70ff8f,#5effa1,#39ffc6,#25ffda,#2fd,#15ffea,#03fffc,#00f8ff,#00daff,#00a9ff,#07f,#0056ff,#0047ff,#0031ff,#0018ff,#0010ff,#0014ff,#0023ff,#002eff,#002fff,#0000fd,#000eff,#0036ff,#004dff,#005cff,#005eff,#0061ff,#0064ff,#005fff,#004fff,#003eff)"></i><i style="height:2.011px;background:linear-gradient(90deg,#0087ff,#008dff,#0092ff,#0097ff,#009dff,#009dff,#00a0ff,#009eff,#00a1ff,#00acff,#00acff,#00a5ff,#009eff,#00a3ff,#00afff,#00b9ff,#0ef,#00d7ff,#00e9ff,#00f8ff,#0dfff2,#06fff9,#35ffca,#56ffa9,#62ff9d,#6bff94,#72ff8d,#72ff8d,#69ff96,#60ff9f,#58ffa7,#4affb5,#36ffc9,#27ffd8,#2fd,#19ffe6,#0efff1,#24ffdb,#00f7ff,#00aeff,#0065ff,#0052ff,#005cff,#004aff,#0019ff,#0000fa,#0004ff,#002cff,#0046ff,#003aff,#0000f1,#0000fb,#0036ff,#0050ff,#005fff,#0062ff,#0064ff,#0067ff,#0062ff,#0052ff,#0041ff)"></i><i style="height:2.011px;background:linear-gradient(90deg,#0087ff,#008dff,#0092ff,#0097ff,#009eff,#009fff,#009fff,#009aff,#009eff,#00abff,#00acff,#00a5ff,#009eff,#00a2ff,#00acff,#00b7ff,#00f0ff,#00d9ff,#00ebff,#00fcff,#19ffe6,#17ffe8,#49ffb6,#6eff91,#83ff7c,#95ff6a,#a3ff5c,#a5ff5a,#98ff67,#86ff79,#73ff8c,#5dffa2,#42ffbd,#2effd1,#26ffd9,#1bffe4,#07fff8,#28ffd7,#00fcff,#00b3ff,#0069ff,#05f,#0060ff,#004dff,#001aff,#0000fa,#0004ff,#002cff,#0047ff,#003aff,#0000f5,#0000fe,#0039ff,#0053ff,#0062ff,#0065ff,#0067ff,#006aff,#06f,#05f,#04f)"></i><i style="height:2.011px;background:linear-gradient(90deg,#0087ff,#008dff,#0092ff,#0098ff,#009eff,#009fff,#009dff,#0097ff,#009cff,#00abff,#00acff,#00a5ff,#009eff,#00a1ff,#0af,#00b4ff,#00d4ff,#00dbff,#00f0ff,#09fff6,#2affd5,#49ffb6,#81ff7e,#b8ff47,#e6ff19,#fff000,#ffd400,#ffd000,#ffe900,#efff10,#c1ff3e,#92ff6d,#64ff9b,#40ffbf,#2fffd0,#21ffde,#0cfff3,#06fff9,#00e8ff,#00b8ff,#0084ff,#0060ff,#0052ff,#003cff,#001dff,#01f,#0015ff,#0024ff,#0031ff,#0031ff,#0008ff,#0018ff,#003eff,#0056ff,#0065ff,#0068ff,#006bff,#006dff,#0069ff,#0058ff,#0048ff)"></i><i style="height:2.011px;background:linear-gradient(90deg,#0087ff,#008dff,#0092ff,#0098ff,#009fff,#009eff,#009aff,#0095ff,#009cff,#00abff,#00acff,#00a5ff,#009eff,#00a1ff,#00a8ff,#00b2ff,#00c6ff,#00e1ff,#1fe,#27ffd8,#40ffbf,#79ff86,#c4ff3b,#ffe600,#ff9700,#ff5100,#ff2300,#ff1e00,#ff4500,#f80,#ffd600,#d8ff27,#8fff70,#59ffa6,#3cffc3,#27ffd8,#1fe,#00f8ff,#00e1ff,#00cdff,#00a7ff,#006eff,#003eff,#0024ff,#0021ff,#002dff,#002aff,#0019ff,#0013ff,#0024ff,#001fff,#0038ff,#0045ff,#0059ff,#0069ff,#006bff,#006eff,#0070ff,#006cff,#005bff,#004bff)"></i><i style="height:2.011px;background:linear-gradient(90deg,#0087ff,#008dff,#0092ff,#0098ff,#009eff,#009cff,#0098ff,#0093ff,#009bff,#00abff,#00acff,#00a5ff,#009eff,#00a1ff,#00a8ff,#00b0ff,#00c4ff,#00e3ff,#28ffd7,#38ffc7,#46ffb9,#85ff7a,#d6ff29,#fc0,#ff7400,#ff2500,#f20000,#ec0000,#ff1800,#ff6200,#ffba00,#ecff13,#9bff64,#5fffa0,#3fffc0,#29ffd6,#14ffeb,#00fbff,#00e4ff,#00e0ff,#0bf,#0078ff,#0035ff,#0019ff,#0024ff,#003dff,#0036ff,#0014ff,#0003ff,#001dff,#002dff,#004bff,#0049ff,#005dff,#006cff,#006eff,#0071ff,#0074ff,#006fff,#005fff,#004eff)"></i><i style="height:2.011px;background:linear-gradient(90deg,#0087ff,#008dff,#0092ff,#0098ff,#009dff,#009aff,#0096ff,#0093ff,#009bff,#00abff,#00acff,#00a5ff,#009eff,#00a1ff,#00a8ff,#00afff,#00c1ff,#00deff,#16ffe9,#27ffd8,#34ffcb,#64ff9b,#a3ff5c,#e7ff18,#ffd800,#ffa100,#ff7c00,#ff7800,#ff9800,#fc0,#f4ff0b,#b5ff4a,#79ff86,#4cffb3,#36ffc9,#25ffda,#15ffea,#00fdff,#00e6ff,#00dcff,#00b6ff,#007aff,#003fff,#0024ff,#0026ff,#0035ff,#002fff,#0017ff,#000cff,#0021ff,#002aff,#0045ff,#004bff,#0060ff,#006fff,#0072ff,#0074ff,#07f,#0072ff,#0062ff,#0051ff)"></i><i style="height:2.011px;background:linear-gradient(90deg,#0087ff,#008dff,#0092ff,#0097ff,#009cff,#09f,#0096ff,#0093ff,#009bff,#00abff,#00acff,#00a5ff,#009eff,#00a1ff,#00a8ff,#00afff,#00c2ff,#00d5ff,#00ecff,#03fffc,#16ffe9,#32ffcd,#61ff9e,#8bff74,#a9ff56,#c4ff3b,#d7ff28,#daff25,#c9ff36,#afff50,#91ff6e,#72ff8d,#4fffb0,#35ffca,#2affd5,#20ffdf,#15ffea,#03fffc,#00eaff,#00caff,#00a1ff,#0076ff,#0057ff,#0040ff,#0028ff,#001bff,#001cff,#0021ff,#0028ff,#002dff,#001bff,#002eff,#004bff,#0063ff,#0072ff,#0075ff,#07f,#007aff,#0076ff,#0065ff,#0054ff)"></i><i style="height:2.011px;background:linear-gradient(90deg,#0087ff,#008dff,#0092ff,#0097ff,#009cff,#09f,#0096ff,#0093ff,#009bff,#00abff,#00acff,#00a5ff,#009eff,#00a1ff,#00a8ff,#00aeff,#00e2ff,#00d4ff,#00e9ff,#00f9ff,#0ffff0,#0cfff3,#3cffc3,#5dffa2,#6cff93,#7aff85,#84ff7b,#86ff79,#7bff84,#6eff91,#60ff9f,#50ffaf,#3affc5,#29ffd6,#24ffdb,#1effe1,#17ffe8,#31ffce,#09fff6,#00ceff,#00a6ff,#0073ff,#006eff,#005bff,#0029ff,#0003ff,#0009ff,#002bff,#0043ff,#0039ff,#000cff,#0018ff,#004cff,#06f,#0075ff,#0078ff,#007aff,#007dff,#0079ff,#0068ff,#0058ff)"></i><i style="height:2.011px;background:linear-gradient(90deg,#0087ff,#008dff,#0092ff,#0097ff,#009cff,#09f,#0096ff,#0093ff,#009bff,#00abff,#00acff,#00a5ff,#009eff,#00a1ff,#00a8ff,#00aeff,#00eaff,#00d4ff,#00e9ff,#00faff,#14ffeb,#0efff1,#3effc1,#60ff9f,#70ff8f,#7dff82,#8f7,#8f7,#7bff84,#6dff92,#5effa1,#4effb1,#38ffc7,#28ffd7,#23ffdc,#1effe1,#19ffe6,#3effc1,#12ffed,#00d3ff,#0af,#0076ff,#0076ff,#0063ff,#002cff,#0000fd,#0005ff,#002dff,#0049ff,#003bff,#000bff,#0015ff,#004eff,#0069ff,#0079ff,#007bff,#007eff,#0080ff,#007cff,#006bff,#005bff)"></i><i style="height:2.011px;background:linear-gradient(90deg,#0087ff,#008dff,#0092ff,#0097ff,#009cff,#09f,#0096ff,#0093ff,#009bff,#00abff,#00acff,#00a5ff,#009eff,#00a1ff,#00a8ff,#00afff,#00d3ff,#00d5ff,#00ecff,#03fffc,#2fd,#36ffc9,#68ff97,#95ff6a,#b7ff48,#d3ff2c,#e3ff1c,#dfff20,#c5ff3a,#a5ff5a,#84ff7b,#64ff9b,#4fb,#2dffd2,#25ffda,#1fffe0,#1cffe3,#2fd,#01fffe,#00d7ff,#00afff,#0080ff,#006aff,#05f,#002fff,#0010ff,#0013ff,#0027ff,#0036ff,#03f,#001bff,#002aff,#0053ff,#006dff,#007cff,#007eff,#0081ff,#0083ff,#007fff,#006fff,#005eff)"></i><i style="height:2.011px;background:linear-gradient(90deg,#0087ff,#008dff,#0092ff,#0097ff,#009cff,#09f,#0096ff,#0093ff,#009bff,#00abff,#00acff,#00a5ff,#009eff,#00a1ff,#00a8ff,#00afff,#00c0ff,#00daff,#04fffb,#1bffe4,#35ffca,#69ff96,#afff50,#fbff04,#ffbe00,#ff8700,#ff6b00,#ff7600,#ffa900,#ffec00,#ceff31,#91ff6e,#5cffa3,#39ffc6,#2affd5,#2fd,#1fffe0,#09fff6,#00f3ff,#00e7ff,#00cbff,#008eff,#0056ff,#003dff,#03f,#002cff,#0028ff,#001bff,#0018ff,#0026ff,#0031ff,#004aff,#0059ff,#0070ff,#007fff,#0081ff,#0084ff,#0087ff,#0082ff,#0072ff,#0061ff)"></i><i style="height:2.011px;background:linear-gradient(90deg,#0087ff,#008dff,#0092ff,#0097ff,#009cff,#09f,#0096ff,#0093ff,#009bff,#00abff,#00acff,#00a5ff,#009eff,#00a1ff,#00a8ff,#00afff,#00c1ff,#00dfff,#23ffdc,#35ffca,#46ffb9,#89ff76,#e2ff1d,#ffb700,#ff5900,#ff0d00,#e70000,#f80000,#ff3e00,#ff9b00,#fff900,#b2ff4d,#6eff91,#42ffbd,#2effd1,#23ffdc,#20ffdf,#0cfff3,#00f5ff,#00fcff,#00f2ff,#0098ff,#0049ff,#002dff,#0036ff,#0040ff,#0037ff,#0014ff,#0003ff,#001dff,#0041ff,#0060ff,#005eff,#0073ff,#0082ff,#0085ff,#0087ff,#008aff,#0085ff,#0075ff,#0064ff)"></i><i style="height:2.011px;background:linear-gradient(90deg,#0087ff,#008dff,#0092ff,#0097ff,#009cff,#09f,#0096ff,#0093ff,#009bff,#00abff,#00acff,#00a5ff,#009eff,#00a1ff,#00a8ff,#00afff,#00c0ff,#00deff,#1cffe3,#2effd1,#3effc1,#7aff85,#c9ff36,#ffdc00,#ff8a00,#ff4800,#ff2700,#ff3600,#ff7200,#ffc200,#eaff15,#a2ff5d,#6f9,#3dffc2,#2cffd3,#23ffdc,#20ffdf,#0efff1,#00f7ff,#00fbff,#00efff,#009bff,#0051ff,#03f,#0038ff,#003dff,#0034ff,#0015ff,#0007ff,#001eff,#0042ff,#005fff,#0061ff,#0076ff,#0085ff,#08f,#008aff,#008dff,#0089ff,#0078ff,#0068ff)"></i><i style="height:2.011px;background:linear-gradient(90deg,#0087ff,#008dff,#0092ff,#0097ff,#009cff,#09f,#0096ff,#0093ff,#009bff,#00abff,#00acff,#00a5ff,#009eff,#00a1ff,#00a8ff,#00afff,#00c0ff,#00d7ff,#00f3ff,#0cfff3,#23ffdc,#4affb5,#82ff7d,#baff45,#e8ff17,#fff100,#ffdc00,#ffe300,#f8ff07,#cf3,#9eff61,#74ff8b,#4dffb2,#31ffce,#27ffd8,#21ffde,#20ffdf,#10ffef,#00faff,#00e8ff,#00c8ff,#0098ff,#0069ff,#004dff,#003aff,#0028ff,#02f,#001fff,#0020ff,#0029ff,#0034ff,#004aff,#0061ff,#0079ff,#08f,#008bff,#008dff,#0090ff,#008cff,#007bff,#006bff)"></i><i style="height:2.011px;background:linear-gradient(90deg,#0087ff,#008dff,#0092ff,#0097ff,#009cff,#09f,#0096ff,#0093ff,#009bff,#00abff,#00acff,#00a5ff,#009eff,#00a1ff,#00a8ff,#00aeff,#0df,#00d5ff,#00eaff,#00fcff,#15ffea,#1affe5,#49ffb6,#6dff92,#82ff7d,#93ff6c,#9eff61,#9dff62,#8dff72,#7aff85,#67ff98,#53ffac,#3bffc4,#29ffd6,#23ffdc,#20ffdf,#1fffe0,#12ffed,#15ffea,#00e6ff,#00c4ff,#0094ff,#0083ff,#0069ff,#003bff,#000fff,#000eff,#0029ff,#003dff,#0035ff,#0021ff,#002eff,#005dff,#0079ff,#08f,#008bff,#008dff,#0090ff,#008cff,#007bff,#006bff)"></i><i style="height:2.011px;background:linear-gradient(90deg,#0087ff,#008dff,#0092ff,#0097ff,#009cff,#09f,#0096ff,#0093ff,#009bff,#00abff,#00acff,#00a5ff,#009eff,#00a1ff,#00a7ff,#00aeff,#00ebff,#00d4ff,#00e9ff,#00f7ff,#0efff1,#05fffa,#35ffca,#5fa,#62ff9d,#6cff93,#74ff8b,#74ff8b,#69ff96,#5effa1,#53ffac,#47ffb8,#34ffcb,#26ffd9,#2fd,#20ffdf,#1fffe0,#14ffeb,#23ffdc,#00e9ff,#00c8ff,#0095ff,#0090ff,#0076ff,#003dff,#0007ff,#0007ff,#002dff,#0048ff,#0039ff,#0019ff,#0023ff,#005cff,#0079ff,#08f,#008bff,#008dff,#0090ff,#008cff,#007bff,#006bff)"></i><i style="height:2.011px;background:linear-gradient(90deg,#0087ff,#008dff,#0092ff,#0097ff,#009cff,#09f,#0096ff,#0093ff,#009bff,#00abff,#00acff,#00a5ff,#009eff,#00a1ff,#00a7ff,#00aeff,#00daff,#00d4ff,#00e9ff,#00faff,#1fe,#15ffea,#3fffc0,#62ff9d,#75ff8a,#83ff7c,#87ff78,#7fff80,#6cff93,#5cffa3,#51ffae,#45ffba,#3fc,#25ffda,#21ffde,#20ffdf,#20ffdf,#17ffe8,#18ffe7,#00ebff,#00cdff,#00a4ff,#008aff,#006cff,#0040ff,#0016ff,#01f,#0028ff,#003aff,#03f,#0021ff,#0030ff,#005dff,#0079ff,#08f,#008bff,#008dff,#0090ff,#008cff,#007bff,#006bff)"></i><i style="height:2.011px;background:linear-gradient(90deg,#0087ff,#008dff,#0092ff,#0097ff,#009cff,#09f,#0096ff,#0093ff,#009bff,#00abff,#00acff,#00a5ff,#009eff,#00a1ff,#00a7ff,#00aeff,#00bfff,#00d6ff,#00f3ff,#05fffa,#13ffec,#30ffcf,#60ff9f,#97ff68,#c5ff3a,#e0ff1f,#dcff23,#baff45,#8cff73,#69ff96,#5fa,#46ffb9,#3fc,#25ffda,#21ffde,#20ffdf,#20ffdf,#19ffe6,#04fffb,#00f4ff,#00deff,#00acff,#0078ff,#0054ff,#04f,#0034ff,#0026ff,#001dff,#001cff,#0026ff,#0034ff,#004cff,#0060ff,#0079ff,#08f,#008bff,#008dff,#0090ff,#008cff,#007bff,#006bff)"></i><i style="height:2.011px;background:linear-gradient(90deg,#0087ff,#008dff,#0092ff,#0097ff,#009cff,#09f,#0096ff,#0093ff,#009bff,#00abff,#00acff,#00a5ff,#009eff,#00a1ff,#00a7ff,#00aeff,#00bfff,#00dbff,#16ffe9,#1dffe2,#1bffe4,#4fb,#85ff7a,#dcff23,#ffd000,#ffa200,#ffb200,#fff600,#b6ff49,#7bff84,#5affa5,#47ffb8,#3fc,#25ffda,#2fd,#20ffdf,#20ffdf,#1bffe4,#06fff9,#0cfff3,#0cfff3,#00bcff,#006aff,#0041ff,#0047ff,#004dff,#0037ff,#0015ff,#0004ff,#001bff,#0043ff,#0062ff,#0062ff,#0079ff,#08f,#008bff,#008dff,#0090ff,#008cff,#007bff,#006bff)"></i><i style="height:2.011px;background:linear-gradient(90deg,#0087ff,#008dff,#0092ff,#0097ff,#009cff,#09f,#0096ff,#0093ff,#009bff,#00abff,#00acff,#00a5ff,#009eff,#00a1ff,#00a7ff,#00aeff,#00bfff,#00dbff,#18ffe7,#1effe1,#1cffe3,#45ffba,#8aff75,#e5ff1a,#ffc200,#ff9100,#ffa300,#ffeb00,#bcff43,#7eff81,#5bffa4,#47ffb8,#34ffcb,#26ffd9,#25ffda,#2fd,#20ffdf,#1dffe2,#08fff7,#0ffff0,#12ffed,#00c1ff,#006eff,#0042ff,#004aff,#0050ff,#0038ff,#0014ff,#0002ff,#001aff,#04f,#0063ff,#0062ff,#0079ff,#08f,#008bff,#008dff,#0090ff,#008cff,#007bff,#006bff)"></i><i style="height:2.011px;background:linear-gradient(90deg,#0087ff,#008dff,#0092ff,#0097ff,#009cff,#09f,#0096ff,#0093ff,#009bff,#00abff,#00acff,#00a5ff,#009eff,#00a1ff,#00a7ff,#00aeff,#00bfff,#00d6ff,#00f8ff,#08fff7,#12ffed,#31ffce,#67ff98,#a6ff59,#df2,#fdff02,#f6ff09,#cf3,#95ff6a,#6eff91,#56ffa9,#46ffb9,#34ffcb,#3fc,#4fffb0,#3effc1,#24ffdb,#20ffdf,#0bfff4,#00feff,#00f0ff,#00baff,#0083ff,#0059ff,#004cff,#003eff,#0029ff,#001cff,#0018ff,#0023ff,#0035ff,#004eff,#005fff,#0079ff,#08f,#008bff,#008dff,#0090ff,#008cff,#007bff,#006bff)"></i><i style="height:2.011px;background:linear-gradient(90deg,#0087ff,#008dff,#0092ff,#0097ff,#009cff,#09f,#0096ff,#0093ff,#009bff,#00abff,#00acff,#00a5ff,#009eff,#00a1ff,#00a7ff,#00aeff,#00d6ff,#00d4ff,#00e9ff,#00f9ff,#0cfff3,#13ffec,#43ffbc,#6cff93,#86ff79,#97ff68,#9aff65,#8cff73,#74ff8b,#60ff9f,#52ffad,#45ffba,#37ffc8,#5fffa0,#deff21,#9cff63,#31ffce,#21ffde,#0dfff2,#00f6ff,#00e1ff,#00b9ff,#009eff,#0076ff,#004dff,#0025ff,#0014ff,#0027ff,#0035ff,#002fff,#0021ff,#0031ff,#005bff,#0079ff,#08f,#008bff,#008dff,#0090ff,#008cff,#007bff,#006bff)"></i><i style="height:2.011px;background:linear-gradient(90deg,#0087ff,#008dff,#0092ff,#0097ff,#009cff,#09f,#0096ff,#0093ff,#009bff,#00abff,#00acff,#00a5ff,#009eff,#00a1ff,#00a7ff,#00aeff,#00eaff,#00d4ff,#00e8ff,#00f7ff,#0ffff0,#07fff8,#3cffc3,#64ff9b,#7aff85,#8bff74,#93ff6c,#8bff74,#7f8,#64ff9b,#54ffab,#46ffb9,#38ffc7,#6aff95,#fffc00,#b4ff4b,#34ffcb,#21ffde,#0ffff0,#00f9ff,#00e3ff,#00bdff,#00afff,#0089ff,#004fff,#0018ff,#000aff,#002eff,#0045ff,#0036ff,#0016ff,#0021ff,#0059ff,#0079ff,#08f,#008bff,#008dff,#0090ff,#008cff,#007bff,#006bff)"></i><i style="height:2.011px;background:linear-gradient(90deg,#0087ff,#008dff,#0092ff,#0097ff,#009cff,#09f,#0096ff,#0093ff,#009bff,#00abff,#00acff,#00a5ff,#009eff,#00a1ff,#00a7ff,#00aeff,#00e0ff,#00d4ff,#00e9ff,#00fbff,#18ffe7,#21ffde,#58ffa7,#90ff6f,#bdff42,#dfff20,#eaff15,#d5ff2a,#af5,#80ff7f,#62ff9d,#4bffb4,#36ffc9,#3dffc2,#6eff91,#53ffac,#27ffd8,#25ffda,#1affe5,#00feff,#00e5ff,#00c1ff,#00acff,#0085ff,#0051ff,#02f,#0012ff,#002aff,#003dff,#0032ff,#001bff,#0029ff,#005aff,#0079ff,#08f,#008bff,#008dff,#0090ff,#008cff,#007bff,#006bff)"></i><i style="height:2.011px;background:linear-gradient(90deg,#0087ff,#008dff,#0092ff,#0097ff,#009cff,#09f,#0096ff,#0093ff,#009bff,#00abff,#00acff,#00a5ff,#009eff,#00a1ff,#00a7ff,#00aeff,#00bfff,#00d4ff,#00ebff,#02fffd,#1bffe4,#4fb,#89ff76,#e1ff1e,#ffc500,#ff8300,#ff7400,#ffa300,#fff900,#b3ff4c,#79ff86,#54ffab,#38ffc7,#28ffd7,#29ffd6,#26ffd9,#23ffdc,#3bffc4,#4effb1,#14ffeb,#00ebff,#00c6ff,#009bff,#0071ff,#05f,#003eff,#0028ff,#0020ff,#0021ff,#0025ff,#002cff,#0042ff,#005cff,#0079ff,#08f,#008bff,#008dff,#0090ff,#008cff,#007bff,#006bff)"></i><i style="height:2.011px;background:linear-gradient(90deg,#0087ff,#008dff,#0092ff,#0097ff,#009cff,#09f,#0096ff,#0093ff,#009bff,#00abff,#00acff,#00a5ff,#009eff,#00a1ff,#00a7ff,#00aeff,#00bfff,#00daff,#12ffed,#1cffe3,#24ffdb,#57ffa8,#acff53,#ffdf00,#f60,#ff0c00,#fa0000,#ff3d00,#ffb400,#daff25,#8aff75,#5affa5,#3affc5,#27ffd8,#2fd,#21ffde,#25ffda,#61ff9e,#a4ff5b,#4bffb4,#1dffe2,#00d7ff,#008bff,#005dff,#0058ff,#005aff,#003dff,#0017ff,#0006ff,#0019ff,#003dff,#005cff,#005fff,#0079ff,#08f,#008bff,#008dff,#0090ff,#008cff,#007bff,#006bff)"></i><i style="height:2.011px;background:linear-gradient(90deg,#0087ff,#008dff,#0092ff,#0097ff,#009cff,#09f,#0096ff,#0093ff,#009bff,#00abff,#00acff,#00a5ff,#009eff,#00a1ff,#00a7ff,#00aeff,#00bfff,#00dcff,#1bffe4,#2fd,#2fd,#52ffad,#a1ff5e,#fff400,#ff8600,#ff3400,#ff2300,#ff5f00,#ffcb00,#cdff32,#84ff7b,#58ffa7,#39ffc6,#26ffd9,#2fd,#21ffde,#25ffda,#59ffa6,#94ff6b,#4cffb3,#2bffd4,#00dfff,#008aff,#005bff,#005bff,#0063ff,#04f,#0014ff,#0000fd,#0016ff,#0041ff,#0062ff,#005fff,#0079ff,#08f,#008bff,#008dff,#0090ff,#008cff,#007bff,#006bff)"></i><i style="height:2.011px;background:linear-gradient(90deg,#0087ff,#008dff,#0092ff,#0097ff,#009cff,#09f,#0096ff,#0093ff,#009bff,#00abff,#00acff,#00a5ff,#009eff,#00a1ff,#00a7ff,#00aeff,#00bfff,#00d8ff,#02fffd,#0ffff0,#15ffea,#38ffc7,#74ff8b,#baff45,#fdff02,#ffce00,#ffc100,#ffe300,#d9ff26,#9bff64,#6eff91,#50ffaf,#36ffc9,#26ffd9,#2fd,#21ffde,#2fd,#3fc,#41ffbe,#21ffde,#0dfff2,#00daff,#00a9ff,#006fff,#005dff,#0054ff,#003aff,#001bff,#0010ff,#001dff,#0035ff,#0050ff,#005dff,#0079ff,#08f,#008bff,#008dff,#0090ff,#008cff,#007bff,#006bff)"></i><i style="height:2.011px;background:linear-gradient(90deg,#0087ff,#008dff,#0092ff,#0097ff,#009cff,#09f,#0096ff,#0093ff,#009bff,#00abff,#00acff,#00a5ff,#009eff,#00a1ff,#00a8ff,#00aeff,#00cfff,#00d4ff,#00e9ff,#00fbff,#0bfff4,#18ffe7,#4cffb3,#7aff85,#9f6,#b1ff4e,#baff45,#aeff51,#90ff6f,#73ff8c,#5cffa3,#4affb5,#35ffca,#26ffd9,#2fd,#21ffde,#21ffde,#23ffdc,#20ffdf,#08fff7,#00f1ff,#00d5ff,#00beff,#008fff,#005eff,#003bff,#0027ff,#0026ff,#002eff,#002aff,#0021ff,#03f,#0059ff,#0079ff,#08f,#008bff,#008dff,#0090ff,#008cff,#007bff,#006bff)"></i><i style="height:2.011px;background:linear-gradient(90deg,#0087ff,#008dff,#0092ff,#0097ff,#009cff,#09f,#0096ff,#0093ff,#009bff,#00abff,#00acff,#00a5ff,#009eff,#00a1ff,#00a8ff,#00afff,#00e9ff,#00d6ff,#00ebff,#00fdff,#17ffe8,#14ffeb,#4bffb4,#72ff8d,#85ff7a,#93ff6c,#9aff65,#94ff6b,#81ff7e,#6eff91,#5dffa2,#4cffb3,#37ffc8,#27ffd8,#2fd,#21ffde,#21ffde,#21ffde,#1effe1,#09fff6,#00f3ff,#00d9ff,#0df,#00a6ff,#005fff,#002aff,#001aff,#002eff,#0043ff,#0032ff,#0013ff,#001eff,#0056ff,#0079ff,#08f,#008bff,#008dff,#0090ff,#008cff,#007bff,#006bff)"></i><i style="height:2.011px;background:linear-gradient(90deg,#0087ff,#008dff,#0092ff,#0097ff,#009cff,#09f,#0096ff,#0093ff,#009bff,#00abff,#00acff,#00a5ff,#009eff,#00a1ff,#00a8ff,#00afff,#00e6ff,#00d9ff,#00f3ff,#0ffff0,#39ffc6,#48ffb7,#82ff7d,#b0ff4f,#cbff34,#daff25,#deff21,#d0ff2f,#b2ff4d,#92ff6d,#76ff89,#5bffa4,#3fffc0,#2bffd4,#24ffdb,#2fd,#21ffde,#21ffde,#20ffdf,#0bfff4,#00f5ff,#0df,#0df,#00a7ff,#0062ff,#002fff,#001fff,#002dff,#0040ff,#0031ff,#0014ff,#0021ff,#0056ff,#0079ff,#08f,#008bff,#008dff,#0090ff,#008cff,#007bff,#006bff)"></i><i style="height:2.011px;background:linear-gradient(90deg,#0087ff,#008dff,#0092ff,#0097ff,#009cff,#09f,#0096ff,#0093ff,#009bff,#00abff,#00acff,#00a5ff,#009eff,#00a1ff,#00a8ff,#00b0ff,#00cbff,#00dfff,#01fffe,#2bffd4,#60ff9f,#9dff62,#e9ff16,#ffd000,#ffa200,#ff8900,#ff8c00,#ffac00,#ffe500,#df2,#a6ff59,#78ff87,#4fffb0,#3fc,#27ffd8,#23ffdc,#2fd,#21ffde,#21ffde,#0dfff2,#00f7ff,#00e1ff,#00c0ff,#0095ff,#0065ff,#0049ff,#03f,#0024ff,#0027ff,#0025ff,#0024ff,#0038ff,#0058ff,#0079ff,#08f,#008bff,#008dff,#0090ff,#008cff,#007bff,#006bff)"></i><i style="height:2.011px;background:linear-gradient(90deg,#0087ff,#008dff,#0092ff,#0097ff,#009cff,#09f,#0096ff,#0093ff,#009bff,#00abff,#00acff,#00a5ff,#009eff,#00a1ff,#00a9ff,#00b1ff,#00c7ff,#00eaff,#2effd1,#58ffa7,#8aff75,#e3ff1c,#ffb700,#ff5800,#ff1500,#f30000,#fb0000,#ff2f00,#ff8100,#ffd900,#d5ff2a,#94ff6b,#5effa1,#3affc5,#2bffd4,#25ffda,#2fd,#2fd,#21ffde,#0ffff0,#2fd,#00efff,#00bdff,#007fff,#006aff,#06f,#004aff,#001bff,#000aff,#0019ff,#0037ff,#0053ff,#005bff,#0079ff,#08f,#008bff,#008dff,#0090ff,#008cff,#007bff,#006bff)"></i><i style="height:2.011px;background:linear-gradient(90deg,#0087ff,#008dff,#0092ff,#0097ff,#009cff,#09f,#0096ff,#0093ff,#009bff,#00abff,#00acff,#00a5ff,#009eff,#00a1ff,#00a9ff,#00b1ff,#00c7ff,#00edff,#40ffbf,#65ff9a,#8eff71,#e9ff16,#ffae00,#ff4d00,#ff0800,#e50000,#e00,#ff2300,#ff7800,#ffd300,#d9ff26,#96ff69,#5fffa0,#3affc5,#2bffd4,#25ffda,#23ffdc,#2fd,#21ffde,#1fe,#39ffc6,#00f7ff,#00c1ff,#0078ff,#006fff,#0074ff,#05f,#0018ff,#0000fc,#0013ff,#003eff,#005eff,#005bff,#0079ff,#08f,#008bff,#008dff,#0090ff,#008cff,#007bff,#006bff)"></i><i style="height:2.011px;background:linear-gradient(90deg,#0087ff,#008dff,#0092ff,#0097ff,#009cff,#09f,#0096ff,#0093ff,#009bff,#00abff,#00acff,#00a5ff,#009eff,#00a1ff,#00a8ff,#00b0ff,#00c5ff,#00e5ff,#23ffdc,#4fb,#6f9,#abff54,#fcff03,#ffb900,#ff8600,#ff6d00,#ff7000,#ff9400,#ffd200,#ebff14,#afff50,#7dff82,#52ffad,#34ffcb,#28ffd7,#24ffdb,#2fd,#21ffde,#21ffde,#14ffeb,#25ffda,#00f3ff,#00c5ff,#08f,#0073ff,#006aff,#004dff,#001fff,#000bff,#0019ff,#0035ff,#0051ff,#0059ff,#0079ff,#08f,#008bff,#008dff,#0090ff,#008cff,#007bff,#006bff)"></i><i style="height:2.011px;background:linear-gradient(90deg,#0087ff,#008dff,#0092ff,#0097ff,#009cff,#09f,#0096ff,#0093ff,#009bff,#00abff,#00acff,#00a5ff,#009eff,#00a1ff,#00a8ff,#00afff,#00caff,#00daff,#00f5ff,#14ffeb,#34ffcb,#59ffa6,#96ff69,#c8ff37,#e5ff1a,#f4ff0b,#f5ff0a,#e3ff1c,#c1ff3e,#9dff62,#7dff82,#60ff9f,#42ffbd,#2cffd3,#25ffda,#2fd,#2fd,#21ffde,#21ffde,#16ffe9,#01fffe,#00eaff,#00d2ff,#00a7ff,#0076ff,#0051ff,#003bff,#002cff,#0028ff,#0025ff,#0021ff,#0035ff,#0056ff,#0079ff,#08f,#008bff,#008dff,#0090ff,#008cff,#007bff,#006bff)"></i><i style="height:2.011px;background:linear-gradient(90deg,#0087ff,#008dff,#0092ff,#0097ff,#009cff,#09f,#0096ff,#0093ff,#009bff,#00abff,#00acff,#00a5ff,#009eff,#00a1ff,#00a8ff,#00afff,#00e6ff,#00d7ff,#00efff,#06fff9,#25ffda,#2effd1,#6cff93,#97ff68,#a7ff58,#adff52,#abff54,#9fff60,#8bff74,#79ff86,#69ff96,#56ffa9,#3effc1,#2affd5,#24ffdb,#2fd,#21ffde,#21ffde,#21ffde,#18ffe7,#03fffc,#00ecff,#00f6ff,#00c1ff,#0079ff,#003dff,#002cff,#0037ff,#0041ff,#002fff,#01f,#001dff,#0052ff,#0079ff,#08f,#008bff,#008dff,#0090ff,#008cff,#007bff,#006bff)"></i><i style="height:2.011px;background:linear-gradient(90deg,#0087ff,#008dff,#0092ff,#0097ff,#009cff,#09f,#0096ff,#0093ff,#009bff,#00abff,#00acff,#00a5ff,#009eff,#00a1ff,#00a8ff,#00afff,#00e9ff,#00d8ff,#00f3ff,#1fe,#40ffbf,#58ffa7,#a2ff5d,#d5ff2a,#e2ff1d,#dbff24,#c8ff37,#b2ff4d,#a0ff5f,#9f6,#90ff6f,#7aff85,#56ffa9,#36ffc9,#28ffd7,#23ffdc,#2fd,#2fd,#2fd,#1affe5,#05fffa,#0ef,#00fdff,#00dcff,#007dff,#003dff,#002dff,#003aff,#0043ff,#0030ff,#000fff,#001aff,#0052ff,#0079ff,#08f,#008bff,#008dff,#0090ff,#008cff,#007bff,#006bff)"></i><i style="height:2.011px;background:linear-gradient(90deg,#0087ff,#008dff,#0092ff,#0097ff,#009cff,#09f,#0096ff,#0093ff,#009bff,#00abff,#00acff,#00a5ff,#009eff,#00a1ff,#00a8ff,#00afff,#00d0ff,#00dcff,#00feff,#2fffd0,#7f8,#c5ff3a,#ffd500,#ff8f00,#ff7e00,#ff9a00,#ffc900,#ffef00,#fff900,#ffeb00,#ffe900,#ecff13,#a1ff5e,#5bffa4,#36ffc9,#27ffd8,#23ffdc,#26ffd9,#2cffd3,#20ffdf,#07fff8,#00f1ff,#00e5ff,#00bfff,#0082ff,#0053ff,#003fff,#0034ff,#002eff,#0027ff,#001dff,#002eff,#0053ff,#0079ff,#08f,#008bff,#008dff,#0090ff,#008cff,#007bff,#006bff)"></i><i style="height:2.011px;background:linear-gradient(90deg,#0087ff,#008dff,#0092ff,#0097ff,#009cff,#09f,#0096ff,#0093ff,#009bff,#00abff,#00acff,#00a5ff,#009eff,#00a1ff,#00a8ff,#00afff,#00c3ff,#00e4ff,#24ffdb,#5bffa4,#a9ff56,#ffda00,#ff5800,#fb0000,#e70000,#ff1300,#ff5800,#ff8400,#ff7900,#ff4600,#f30,#ff7400,#fff600,#8eff71,#49ffb6,#2cffd3,#26ffd9,#40ffbf,#63ff9c,#35ffca,#29ffd6,#00fcff,#00d9ff,#00b1ff,#08f,#0072ff,#0056ff,#002cff,#0010ff,#001aff,#0030ff,#004aff,#0056ff,#0079ff,#08f,#008bff,#008dff,#0090ff,#008cff,#007bff,#006bff)"></i><i style="height:2.011px;background:linear-gradient(90deg,#0087ff,#008dff,#0092ff,#0097ff,#009cff,#09f,#0096ff,#0093ff,#009bff,#00abff,#00acff,#00a5ff,#009eff,#00a1ff,#00a8ff,#00afff,#00c3ff,#00e8ff,#3cffc3,#6bff94,#adff52,#ffd400,#ff5200,#f30000,#df0000,#ff0b00,#ff4e00,#ff7200,#ff5700,#ff1200,#f70000,#ff4000,#ffd400,#a0ff5f,#4fffb0,#2effd1,#29ffd6,#64ff9b,#b3ff4c,#54ffab,#4affb5,#08fff7,#0df,#00b5ff,#008dff,#0084ff,#0064ff,#0028ff,#0000fe,#0012ff,#003bff,#005aff,#0057ff,#0079ff,#08f,#008bff,#008dff,#0090ff,#008cff,#007bff,#006bff)"></i><i style="height:2.011px;background:linear-gradient(90deg,#0087ff,#008dff,#0092ff,#0097ff,#009cff,#09f,#0096ff,#0093ff,#009bff,#00abff,#00acff,#00a5ff,#009eff,#00a1ff,#00a8ff,#00afff,#00c2ff,#00e2ff,#26ffd9,#4bffb4,#79ff86,#d5ff2a,#ffc700,#ff8000,#ff7000,#ff8b00,#ffb600,#ffce00,#ffbc00,#ff8f00,#ff7e00,#ffb400,#dfff20,#7aff85,#41ffbe,#2affd5,#27ffd8,#57ffa8,#97ff68,#4bffb4,#10ffef,#06fff9,#00e1ff,#00b9ff,#0091ff,#007fff,#0061ff,#002dff,#0008ff,#0016ff,#0035ff,#0052ff,#0056ff,#0079ff,#08f,#008bff,#008dff,#0090ff,#008cff,#007bff,#006bff)"></i><i style="height:2.011px;background:linear-gradient(90deg,#0087ff,#008dff,#0092ff,#0097ff,#009cff,#09f,#0096ff,#0093ff,#009bff,#00abff,#00acff,#00a5ff,#009eff,#00a1ff,#00a8ff,#00afff,#00c1ff,#00d8ff,#00f3ff,#14ffeb,#35ffca,#6f9,#af5,#d9ff26,#e5ff1a,#df2,#cf3,#c0ff3f,#bfff40,#cf3,#cdff32,#b1ff4e,#7aff85,#48ffb7,#2fffd0,#25ffda,#23ffdc,#31ffce,#4fb,#2dffd2,#10ffef,#00f9ff,#00e4ff,#00bdff,#0094ff,#0069ff,#0050ff,#0039ff,#0023ff,#0021ff,#0023ff,#0037ff,#0052ff,#0079ff,#08f,#008bff,#008dff,#0090ff,#008cff,#007bff,#006bff)"></i><i style="height:2.011px;background:linear-gradient(90deg,#0087ff,#008dff,#0092ff,#0097ff,#009cff,#09f,#0096ff,#0093ff,#009bff,#00abff,#00acff,#00a5ff,#009eff,#00a1ff,#00a8ff,#00aeff,#00e1ff,#00d5ff,#00ecff,#0ff,#17ffe8,#1cffe3,#54ffab,#78ff87,#83ff7c,#85ff7a,#85ff7a,#81ff7e,#79ff86,#75ff8a,#6fff90,#5fffa0,#45ffba,#2effd1,#25ffda,#2fd,#2fd,#23ffdc,#25ffda,#23ffdc,#12ffed,#00fbff,#0afff5,#00ecff,#0097ff,#0054ff,#003fff,#0045ff,#0041ff,#002dff,#01f,#001cff,#004fff,#0079ff,#08f,#008bff,#008dff,#0090ff,#008cff,#007bff,#006bff)"></i><i style="height:2.011px;background:linear-gradient(90deg,#0087ff,#008dff,#0092ff,#0097ff,#009cff,#09f,#0096ff,#0093ff,#009bff,#00abff,#00acff,#00a5ff,#009eff,#00a1ff,#00a8ff,#00aeff,#00eaff,#00d4ff,#00e9ff,#00faff,#16ffe9,#0ffff0,#3cffc3,#5affa5,#6f9,#6fff90,#7f8,#78ff87,#6eff91,#63ff9c,#58ffa7,#4bffb4,#37ffc8,#27ffd8,#2fd,#2fd,#21ffde,#21ffde,#21ffde,#21ffde,#14ffeb,#00fdff,#17ffe8,#00fbff,#009bff,#0051ff,#003cff,#004bff,#004aff,#0031ff,#000bff,#0015ff,#004dff,#0079ff,#08f,#008bff,#008dff,#0090ff,#008cff,#007bff,#006bff)"></i><i style="height:2.011px;background:linear-gradient(90deg,#0087ff,#008dff,#0092ff,#0097ff,#009cff,#09f,#0096ff,#0093ff,#009bff,#00abff,#00acff,#00a5ff,#009eff,#00a1ff,#00a7ff,#00aeff,#00d5ff,#00d4ff,#00e9ff,#00fcff,#18ffe7,#2fd,#4fb,#61ff9e,#76ff89,#8bff74,#9cff63,#9eff61,#8fff70,#7aff85,#65ff9a,#50ffaf,#38ffc7,#27ffd8,#2fd,#2fd,#21ffde,#21ffde,#21ffde,#21ffde,#16ffe9,#01fffe,#02fffd,#00e5ff,#009fff,#0065ff,#004bff,#0046ff,#003bff,#0029ff,#0017ff,#0025ff,#004eff,#0079ff,#08f,#008bff,#008dff,#0090ff,#008cff,#007bff,#006bff)"></i><i style="height:2.011px;background:linear-gradient(90deg,#0087ff,#008dff,#0092ff,#0097ff,#009cff,#09f,#0096ff,#0093ff,#009bff,#00abff,#00acff,#00a5ff,#009eff,#00a1ff,#00a7ff,#00aeff,#00bfff,#00d7ff,#00faff,#0afff5,#15ffea,#30ffcf,#52ffad,#79ff86,#9eff61,#c4ff3b,#e0ff1f,#e3ff1c,#caff35,#a5ff5a,#80ff7f,#5effa1,#3effc1,#29ffd6,#23ffdc,#2fd,#21ffde,#21ffde,#21ffde,#21ffde,#18ffe7,#09fff6,#00ecff,#00cdff,#00a5ff,#0085ff,#0062ff,#003eff,#001fff,#001cff,#002aff,#0041ff,#0051ff,#0079ff,#08f,#008bff,#008dff,#0090ff,#008cff,#007bff,#006bff)"></i><i style="height:2.011px;background:linear-gradient(90deg,#0087ff,#008dff,#0092ff,#0097ff,#009cff,#09f,#0096ff,#0093ff,#009bff,#00abff,#00acff,#00a5ff,#009eff,#00a1ff,#00a7ff,#00aeff,#00bfff,#00dbff,#18ffe7,#1effe1,#17ffe8,#3fc,#57ffa8,#80ff7f,#abff54,#d6ff29,#f6ff09,#faff05,#deff21,#b4ff4b,#8f7,#62ff9d,#40ffbf,#2affd5,#23ffdc,#2fd,#21ffde,#21ffde,#21ffde,#21ffde,#1affe5,#16ffe9,#0ef,#00d1ff,#00abff,#009eff,#0074ff,#0038ff,#000cff,#0013ff,#0038ff,#05f,#0053ff,#0079ff,#08f,#008bff,#008dff,#0090ff,#008cff,#007bff,#006bff)"></i></div>
<div class="hm" style="left:557.80px;top:13.80px;width:12.30px;height:130.70px;background:linear-gradient(180deg,#800000,#800,#980000,#a80000,#b80000,#c80000,#d90000,#e90000,#f90000,#ff0a00,#ff1a00,#ff2b00,#ff3b00,#ff4b00,#ff5b00,#ff6b00,#ff7c00,#ff8c00,#ff9c00,#ffac00,#ffbc00,#ffcd00,#fd0,#ffed00,#fffd00,#f1ff0e,#e1ff1e,#d0ff2f,#c0ff3f,#b0ff4f,#a0ff5f,#90ff6f,#7fff80,#6fff90,#5fffa0,#4fffb0,#3fffc0,#2effd1,#1effe1,#0efff1,#00fdff,#00edff,#00dcff,#0cf,#00bcff,#00acff,#009cff,#008cff,#007bff,#006bff,#005bff,#004bff,#003bff,#002aff,#001aff,#000aff,#0000f9,#0000e9,#0000d8,#0000c8,#0000b8,#0000a8,#000098,#00008f)"></div>
<div class="hm" style="left:36.30px;top:180.30px;width:121.50px;height:130.20px"><i style="height:2.003px;background:linear-gradient(90deg,#2c4ac5,#3046bf,#3242b8,#3440b2,#3340b3,#3341b5,#3243b8,#2d49c3,#244fcf,#1857d8,#0761e0,#046ce0,#0c75dc,#137dd8,#1487d3,#0c94d2,#079dcf,#06a3ca,#06a8c4,#0aacbd,#11afb7,#17b1b3,#1db3af,#24b5aa,#2ab6a6,#2fb7a3,#35b8a0,#3bb99c,#3fba9a,#43bb97,#47bb95,#47bb95,#46bb95,#41ba98,#3bb99c,#31b8a2,#27b6a8,#1fb3ae,#17b1b3,#0fafb9,#08abc0,#06a7c6,#06a2cb,#079cd0,#0b95d1,#108fd2,#1389d3,#1483d5,#137ed7,#117ad9,#0e77db,#0c74dd,#0871de,#056ee0,#036ae1,#0265e1,#0b5edf,#1757d9,#2152d3,#274ecc,#2d49c4)"></i><i style="height:2.003px;background:linear-gradient(90deg,#2e48c2,#2f46bf,#3145bc,#3243ba,#3045bd,#2e47c1,#2c4ac6,#2053d4,#0f5cdd,#0363e1,#026ae1,#0a73de,#117bd9,#1483d4,#108ed2,#0899d1,#06a1cc,#06a6c6,#08abc0,#10afb8,#19b2b2,#20b4ad,#27b5a8,#2fb7a3,#37b99e,#3eba9a,#45bb96,#4cbc92,#4fbc90,#53bd8f,#56bd8d,#56bd8d,#56bd8d,#53bd8e,#50bc90,#43bb97,#38b99e,#2db7a4,#24b5aa,#1ab2b1,#10afb8,#09abbf,#06a7c6,#06a2cb,#079dcf,#0a97d1,#0e91d2,#128ad3,#1485d4,#1480d6,#127cd8,#1078da,#0d75dc,#0971de,#056ee0,#0269e1,#0364e1,#0b5ede,#1359db,#1d54d5,#2450cf)"></i><i style="height:2.003px;background:linear-gradient(90deg,#2f46bf,#2f47bf,#2f47c0,#2e47c1,#2b4bc7,#264ecd,#1e53d5,#0c5dde,#0265e1,#036ae1,#0870df,#1079da,#1481d6,#128ad3,#0b95d2,#069ece,#06a5c8,#07a9c2,#0dadbb,#17b1b3,#21b4ac,#29b6a7,#32b8a1,#3cba9c,#45bb96,#4dbc92,#55bd8d,#5ebe89,#61be88,#63be87,#65be85,#66be85,#67be85,#68be84,#68be84,#5abd8b,#4dbc92,#40ba99,#35b8a0,#2ab6a6,#1db3af,#12afb7,#09acbe,#06a7c5,#06a3ca,#069ece,#0899d1,#0d93d2,#118cd2,#1486d4,#1481d5,#137dd8,#117ada,#0d76dc,#0972de,#056de0,#0269e1,#0364e1,#0760e0,#0e5cde,#1857d9)"></i><i style="height:2.003px;background:linear-gradient(90deg,#2f46bf,#2e48c2,#2c49c5,#2a4cc9,#2251d1,#1957d8,#0d5dde,#0265e1,#036be0,#0870df,#0e76dc,#137ed7,#1486d3,#0f90d2,#089ad0,#06a2cb,#06a8c4,#0aacbd,#13b0b6,#1fb3ad,#2ab6a6,#33b8a0,#3dba9b,#47bb95,#51bc90,#5abd8b,#62be87,#6bbe83,#6dbf82,#6ebf81,#70bf81,#76bf7e,#7cbf7b,#82bf79,#87bf77,#7bbf7c,#70bf81,#63be86,#57bd8c,#4abc93,#38b99e,#28b6a7,#1ab2b1,#0faeb9,#08aac1,#06a6c6,#06a2cb,#079dcf,#0a97d1,#0f90d2,#138ad3,#1485d4,#1480d6,#127cd8,#0f78db,#0b74dd,#076fdf,#036be0,#0268e1,#0265e1,#0661e0)"></i><i style="height:2.003px;background:linear-gradient(90deg,#2f46bf,#2d49c4,#294cca,#2350d0,#1758d9,#0b5edf,#0364e1,#036be0,#0871de,#0d76dc,#127cd9,#1483d4,#118dd2,#0a97d1,#069fce,#06a6c7,#08abc0,#10afb8,#1bb2b0,#28b6a8,#35b8a0,#3eba9a,#49bb94,#54bd8e,#5ebe89,#66be85,#6fbf81,#78bf7d,#79bf7d,#7abf7d,#7bbf7c,#86bf78,#90bf73,#9abf6f,#a2be6c,#99bf70,#90bf73,#86bf77,#7cbf7b,#70bf80,#5abd8b,#45bb96,#32b8a1,#22b4ac,#14b0b5,#0cadbc,#07a9c2,#06a5c8,#06a0cd,#089ad0,#0c94d2,#118ed2,#1388d3,#1483d5,#137ed7,#117ada,#0d75dc,#0971de,#066edf,#036be0,#0268e1)"></i><i style="height:2.003px;background:linear-gradient(90deg,#2f46bf,#2b4bc7,#2450cf,#1b55d7,#0b5ede,#0364e1,#036ae1,#0870df,#0d76dc,#117bd9,#1481d6,#1389d3,#0c93d2,#079cd0,#06a3ca,#07a9c3,#0daebb,#17b1b3,#24b5aa,#32b8a1,#40ba99,#4abc93,#55bd8d,#60be88,#6bbe83,#73bf7f,#7cbf7c,#84bf78,#84bf78,#84bf78,#85bf78,#94bf72,#a2be6c,#afbe67,#babd62,#b3bd65,#acbe68,#a5be6b,#9dbe6e,#94bf72,#7fbf7a,#67be85,#50bc90,#3ab99c,#28b6a8,#1bb2b0,#10afb8,#09abbf,#06a7c6,#06a2cb,#079dcf,#0a97d1,#0e91d2,#128bd3,#1485d4,#1480d6,#117bd9,#0e77db,#0c74dd,#0871de,#056ee0)"></i><i style="height:2.003px;background:linear-gradient(90deg,#2f46bf,#2b4bc8,#2351d1,#1857d9,#0860df,#0266e1,#046ce0,#0972de,#0f77db,#137dd8,#1483d5,#128cd2,#0b95d1,#079ecf,#06a5c9,#07aac1,#0faeb9,#1ab2b1,#27b5a8,#36b89f,#43bb97,#4ebc91,#59bd8b,#65be86,#6fbf81,#78bf7d,#80bf7a,#88bf77,#88bf76,#89bf76,#8abf76,#9cbf6e,#adbe68,#bcbd62,#cabb5c,#c4bc5f,#bebc61,#b8bd63,#b2bd66,#aabe69,#97bf71,#81bf79,#6abe83,#52bd8f,#3cba9b,#2bb6a5,#1db3af,#11afb7,#09abbf,#06a7c6,#06a2cc,#079dcf,#0a97d1,#0e91d2,#128ad3,#1484d4,#137fd7,#117bd9,#0f77db,#0c74dd,#0871de)"></i><i style="height:2.003px;background:linear-gradient(90deg,#2f46bf,#2b4bc8,#2351d1,#1857d9,#0860df,#0266e1,#046ce0,#0972de,#0f77db,#137dd8,#1483d5,#128cd2,#0b95d1,#079ecf,#06a5c9,#07aac1,#0faeb9,#1ab2b1,#27b5a8,#36b89f,#43bb97,#4ebc91,#59bd8b,#65be86,#6fbf81,#78bf7d,#80bf7a,#88bf77,#8abf76,#8bbf75,#8ebf74,#a1be6c,#b4bd65,#c5bc5e,#d4bb58,#d0bb5a,#cbbb5c,#c6bc5d,#c2bc5f,#bbbd62,#a9be69,#95bf71,#80bf7a,#68be84,#50bc90,#3cba9b,#2ab6a6,#1bb2b0,#0eaeba,#07aac1,#06a5c8,#06a1cd,#079bd0,#0b95d1,#108fd2,#1388d3,#1482d5,#137dd7,#117ad9,#0e76db,#0b73dd)"></i><i style="height:2.003px;background:linear-gradient(90deg,#2f46bf,#2b4bc8,#2351d1,#1857d9,#0860df,#0266e1,#046ce0,#0972de,#0f77db,#137dd8,#1483d5,#128cd2,#0b95d1,#079ecf,#06a5c9,#07aac1,#0faeb9,#1ab2b1,#27b5a8,#36b89f,#43bb97,#4ebc91,#59bd8b,#65be86,#6fbf81,#78bf7d,#80bf7a,#88bf77,#8bbf75,#8ebf74,#91bf73,#a7be6a,#bbbd62,#cebb5a,#deba53,#dbba55,#d8ba56,#d4bb58,#d1bb59,#cbbb5b,#babd63,#a7be6a,#94bf72,#7ebf7b,#66be85,#4ebc91,#39b99d,#26b5a9,#16b1b4,#0badbc,#06a8c4,#06a4c9,#069fce,#089ad0,#0c94d2,#118dd2,#1486d4,#1480d6,#127cd8,#1079da,#0d75dc)"></i><i style="height:2.003px;background:linear-gradient(90deg,#2f46bf,#2b4bc8,#2351d1,#1857d9,#0860df,#0266e1,#046ce0,#0972de,#0f77db,#137dd8,#1483d5,#128cd2,#0b95d1,#079ecf,#06a5c9,#07aac1,#0faeb9,#1ab2b1,#27b5a8,#36b89f,#43bb97,#4ebc91,#59bd8b,#65be86,#6fbf81,#78bf7d,#80bf7a,#88bf76,#8cbf75,#90bf73,#94bf71,#acbe68,#c2bc5f,#d6ba57,#e9b94e,#e6b94f,#e4b951,#e2b952,#dfba53,#dbba55,#cabb5c,#b8bd63,#a6be6a,#92bf72,#7cbf7b,#63be87,#49bc94,#32b8a1,#20b4ad,#12afb7,#09abbf,#06a7c6,#06a2cb,#079ecf,#0998d1,#0e91d2,#1389d3,#1483d4,#137fd7,#117bd9,#0e77db)"></i><i style="height:2.003px;background:linear-gradient(90deg,#2f46bf,#2b4bc8,#2351d1,#1857d9,#0860df,#0266e1,#046ce0,#0972de,#0f77db,#137dd8,#1483d5,#128cd2,#0b95d1,#079ecf,#06a5c9,#07aac1,#0faeb9,#1ab2b1,#27b5a8,#36b89f,#43bb97,#4ebc91,#5abd8b,#66be85,#70bf81,#79bf7d,#82bf79,#89bf76,#8ebf74,#92bf72,#97bf70,#afbe67,#c5bc5e,#dbba55,#edb94c,#ecb94c,#eab94d,#e9b94e,#e7b94f,#e4b951,#d5ba57,#c5bc5e,#b5bd64,#a4be6b,#91bf73,#78bf7d,#5dbe8a,#42bb98,#2cb6a5,#1ab2b1,#0daebb,#07a9c2,#06a5c9,#06a0cd,#079bd0,#0c94d2,#128cd2,#1485d4,#1480d6,#127cd8,#0f78db)"></i><i style="height:2.003px;background:linear-gradient(90deg,#2f46bf,#2b4bc8,#2351d1,#1857d9,#0860df,#0266e1,#046ce0,#0972de,#0f77db,#137dd8,#1483d5,#128cd2,#0b95d1,#079ecf,#06a5c9,#07aac1,#0faeb9,#1ab2b1,#27b5a8,#36b89f,#44bb97,#4ebc91,#5abd8b,#67be85,#73bf80,#7dbf7b,#85bf78,#8cbf75,#91bf73,#95bf71,#9abf6f,#b2bd66,#c8bc5d,#ddba54,#f0b94a,#efb94b,#eeb94b,#edb94c,#edb94c,#eab94d,#deba54,#d0bb59,#c3bc5f,#b5bd65,#a4be6b,#8cbf75,#71bf80,#54bd8e,#39b99d,#24b5aa,#13b0b6,#09abbf,#06a6c6,#06a2cb,#079dcf,#0b95d1,#118dd2,#1486d3,#1481d5,#127dd8,#0f78db)"></i><i style="height:2.003px;background:linear-gradient(90deg,#2f46bf,#2b4bc8,#2351d1,#1857d9,#0860df,#0266e1,#046ce0,#0972de,#0f77db,#137dd8,#1483d5,#128cd2,#0b95d1,#079ecf,#06a5c9,#07aac1,#0faeb9,#1ab2b1,#27b5a8,#36b89f,#44bb97,#4fbc91,#5bbd8a,#69be84,#77bf7e,#82bf79,#8bbf75,#92bf73,#95bf71,#99bf70,#9dbe6e,#b4bd65,#cabb5c,#dfba53,#f2b949,#f2b949,#f2b949,#f2b949,#f2b949,#f1b94a,#e6b950,#dbba55,#d0bb5a,#c4bc5e,#b7bd64,#9fbe6d,#85bf78,#67be85,#49bc94,#2eb7a4,#1ab2b1,#0cadbb,#06a8c4,#06a4ca,#069ece,#0a97d1,#108fd2,#1487d3,#1482d5,#137dd8,#1079da)"></i><i style="height:2.003px;background:linear-gradient(90deg,#2f46bf,#2b4bc8,#2351d1,#1857d9,#0860df,#0266e1,#046ce0,#0972de,#0f77db,#137dd8,#1483d5,#128cd2,#0b95d1,#079ecf,#06a5c9,#07aac1,#0faeb9,#1ab2b1,#27b5a8,#36b89f,#44bb97,#4fbc91,#5cbe8a,#6bbf83,#7bbf7c,#88bf77,#92bf73,#97bf70,#9abf6f,#9cbf6e,#a1be6d,#b7bd64,#ccbb5b,#e1ba52,#f3ba48,#f4ba47,#f5ba46,#f6ba46,#f7ba45,#f7ba45,#eeb94b,#e5b950,#ddba54,#d4bb58,#c8bc5d,#b0bd66,#97bf70,#7abf7c,#5abd8b,#3ab99c,#21b4ac,#11afb8,#07aac1,#06a5c8,#06a0cd,#0899d1,#0f90d2,#1388d3,#1483d5,#137ed7,#1079da)"></i><i style="height:2.003px;background:linear-gradient(90deg,#2f46bf,#2b4bc8,#2351d1,#1857d9,#0860df,#0266e1,#046ce0,#0972de,#0f77db,#137dd8,#1483d5,#128cd2,#0b95d1,#079ecf,#06a5c9,#07aac1,#0faeb9,#1ab2b1,#27b5a8,#36b99f,#44bb97,#4fbc91,#5cbe8a,#6cbf83,#7cbf7c,#8abf76,#94bf72,#99bf70,#9cbf6f,#9ebe6d,#a3be6c,#b9bd63,#cebb5a,#e3b951,#f5ba46,#f7ba45,#f9bb44,#fabb42,#fbbc41,#fbbd40,#f6ba46,#f0b94a,#e9b94e,#e2b951,#d8ba56,#c1bc60,#a7be6a,#8cbf75,#6bbf83,#47bb95,#29b6a7,#16b1b4,#09abbf,#06a7c6,#06a1cc,#089ad0,#0e92d2,#138ad3,#1484d4,#137fd7,#107ada)"></i><i style="height:2.003px;background:linear-gradient(90deg,#2f46bf,#2b4bc8,#2351d1,#1857d9,#0860df,#0266e1,#046ce0,#0972de,#0f77db,#137dd8,#1483d5,#128cd2,#0b95d1,#079ecf,#06a5c9,#07aac1,#0faeb9,#1ab2b1,#27b5a8,#36b89f,#44bb97,#4fbc91,#5cbe8a,#6abe83,#79bf7d,#86bf77,#90bf73,#95bf71,#9abf6f,#9ebe6e,#a4be6b,#babd62,#cfbb5a,#e4b951,#f6ba46,#f8ba44,#fabb42,#fbbc41,#fcbd3f,#fdbe3e,#fabb42,#f5ba47,#f0b94a,#eab94d,#e1b952,#cbbb5c,#b2bd65,#98bf70,#7abf7d,#53bd8f,#31b8a2,#1bb2b0,#0cadbc,#06a8c4,#06a3cb,#079cd0,#0c93d2,#128bd2,#1485d4,#137fd6,#117ad9)"></i><i style="height:2.003px;background:linear-gradient(90deg,#2f46bf,#2b4bc8,#2351d1,#1857d9,#0860df,#0266e1,#046ce0,#0972de,#0f77db,#137dd8,#1483d5,#128cd2,#0b95d1,#079ecf,#06a5c9,#07aac1,#0faeb9,#1ab2b1,#27b5a8,#36b89f,#44bb97,#4fbc91,#5bbd8b,#68be84,#75bf7e,#80bf7a,#89bf76,#90bf73,#96bf71,#9dbf6e,#a4be6b,#babd62,#d0bb5a,#e4b951,#f6ba46,#f8bb44,#fabc42,#fbbd40,#fdbe3e,#febf3d,#fbbc40,#f8ba44,#f3ba48,#efb94b,#e7b94f,#d1bb59,#bbbd62,#a3be6c,#86bf77,#5ebe89,#39b99d,#21b4ac,#0faeb9,#07a9c2,#06a4c9,#079dcf,#0b95d2,#118dd2,#1486d4,#1481d6,#127bd9)"></i><i style="height:2.003px;background:linear-gradient(90deg,#2f46bf,#2b4bc8,#2351d1,#1857d9,#0860df,#0266e1,#046ce0,#0972de,#0f77db,#137dd8,#1483d5,#128cd2,#0b95d1,#079ecf,#06a5c9,#07aac1,#0faeb9,#1ab2b1,#27b5a8,#36b89f,#44bb97,#4ebc91,#5abd8b,#67be85,#72bf80,#7cbf7b,#85bf78,#8cbf75,#94bf72,#9cbf6e,#a4be6b,#bbbd62,#d0bb59,#e4b950,#f6ba46,#f9bb44,#fabc41,#fcbd3f,#febe3d,#fec03b,#fcbd3f,#fabc42,#f7ba45,#f3ba48,#edb94c,#d8ba56,#c3bc5f,#adbe68,#92bf72,#6abe84,#42bb98,#27b5a8,#13b0b6,#09abbf,#06a5c8,#069fce,#0a97d1,#108ed2,#1388d3,#1482d5,#127cd8)"></i><i style="height:2.003px;background:linear-gradient(90deg,#2f46bf,#2b4bc8,#2351d1,#1857d9,#0860df,#0266e1,#046ce0,#0972de,#0f77db,#137dd8,#1483d5,#128cd2,#0b95d1,#079ecf,#06a5c9,#07aac1,#0faeb9,#1ab2b1,#27b5a8,#36b89f,#44bb97,#4ebc91,#5abd8b,#67be85,#73bf80,#7dbf7b,#85bf78,#8cbf75,#95bf71,#9dbf6e,#a5be6b,#bcbd62,#d1bb59,#e5b950,#f6ba46,#f9bb44,#fbbc41,#fdbd3e,#febf3c,#fec13a,#febf3d,#fcbd3f,#fabc42,#f8ba44,#f2b949,#dfba53,#cbbb5b,#b7bd64,#9dbe6e,#75bf7f,#4bbc93,#2db7a4,#18b1b3,#0aacbd,#06a7c6,#06a0cd,#0999d1,#0f90d2,#1389d3,#1483d5,#137dd8)"></i><i style="height:2.003px;background:linear-gradient(90deg,#2f46bf,#2b4bc8,#2351d1,#1857d9,#0860df,#0266e1,#046ce0,#0972de,#0f77db,#137dd8,#1483d5,#128cd2,#0b95d1,#079ecf,#06a5c9,#07aac1,#0faeb9,#1ab2b1,#27b5a8,#36b89f,#44bb97,#4fbc91,#5bbd8b,#68be84,#76bf7e,#81bf79,#8abf76,#91bf73,#98bf70,#9fbe6d,#a7be6a,#bdbd61,#d2bb59,#e5b950,#f6ba46,#f9bb43,#fbbc40,#fdbe3e,#fec03b,#fec139,#fec03b,#febf3d,#fcbd3f,#fbbc41,#f7ba45,#e6b950,#d3bb58,#c0bc60,#a8be6a,#80bf7a,#54bd8e,#34b8a0,#1cb3af,#0daebb,#06a8c4,#06a2cc,#089ad0,#0e92d2,#128ad3,#1484d4,#137ed7)"></i><i style="height:2.003px;background:linear-gradient(90deg,#2f46bf,#2b4bc8,#2351d1,#1857d9,#0860df,#0266e1,#046ce0,#0972de,#0f77db,#137dd8,#1483d5,#128cd2,#0b95d1,#079ecf,#06a5c9,#07aac1,#0faeb9,#1ab2b1,#27b5a8,#36b89f,#44bb97,#4fbc91,#5cbe8a,#6bbe83,#7abf7c,#87bf77,#90bf73,#96bf71,#9cbf6f,#a1be6c,#a8be6a,#bebc61,#d3bb58,#e5b950,#f6ba46,#f9bb43,#fbbd40,#fdbe3d,#fec13a,#ffc238,#fec139,#fec13a,#fec03b,#febf3d,#fbbc40,#ecb94c,#dbba55,#c9bc5c,#b2bd66,#8abf76,#5ebe89,#3cba9b,#22b4ac,#10afb8,#07a9c3,#06a3ca,#079cd0,#0c93d2,#128cd2,#1485d4,#137fd7)"></i><i style="height:2.003px;background:linear-gradient(90deg,#2f46bf,#2b4bc8,#2351d1,#1857d9,#0860df,#0266e1,#046ce0,#0972de,#0f77db,#137dd8,#1483d5,#128cd2,#0b95d1,#079ecf,#06a5c9,#07aac1,#0faeb9,#1ab2b1,#27b5a8,#36b99f,#44bb97,#4fbc91,#5cbe8a,#6cbf83,#7cbf7c,#8abf76,#94bf72,#99bf70,#9ebe6e,#a3be6c,#a9be69,#bebc61,#d3bb58,#e6b950,#f6ba46,#f9bb43,#fcbd40,#febf3c,#fec139,#ffc337,#ffc337,#ffc238,#fec239,#fec239,#febf3c,#f3b948,#e3b951,#d2bb59,#bcbd62,#94bf72,#68be84,#44bb97,#27b5a8,#14b0b5,#08aac1,#06a4c9,#079dcf,#0b95d2,#118dd2,#1486d3,#1480d6)"></i><i style="height:2.003px;background:linear-gradient(90deg,#2f46bf,#2b4bc8,#2351d1,#1857d9,#0860df,#0266e1,#046ce0,#0972de,#0f77db,#137dd8,#1483d5,#128cd2,#0b95d1,#079ecf,#06a5c9,#07aac1,#0faeb9,#1ab2b1,#27b5a8,#36b89f,#44bb97,#4fbc91,#5cbe8a,#6bbe83,#7abf7c,#87bf77,#91bf73,#97bf71,#9dbf6e,#a2be6c,#aabe69,#bfbc60,#d4bb58,#e6b950,#f6ba46,#f9bb43,#fcbd3f,#febf3c,#fec239,#ffc436,#ffc436,#ffc436,#ffc436,#ffc436,#ffc238,#f8ba44,#e9b94e,#daba55,#c5bc5e,#9dbe6e,#71bf80,#4bbc93,#2cb7a5,#18b1b3,#09abbf,#06a5c8,#069ece,#0a96d1,#108fd2,#1388d3,#1481d6)"></i><i style="height:2.003px;background:linear-gradient(90deg,#2f46bf,#2b4bc8,#2351d1,#1857d9,#0860df,#0266e1,#046ce0,#0972de,#0f77db,#137dd8,#1483d5,#128cd2,#0b95d1,#079ecf,#06a5c9,#07aac1,#0faeb9,#1ab2b1,#27b5a8,#36b89f,#44bb97,#4fbc91,#5bbd8a,#69be84,#76bf7e,#82bf79,#8bbf75,#91bf73,#99bf70,#a0be6d,#a9be69,#bfbc61,#d4bb58,#e6b950,#f6ba46,#f9bb42,#fcbd3f,#febf3c,#fec238,#ffc536,#ffc536,#fec536,#fec536,#fec536,#ffc337,#f9bb43,#ecb94c,#deba54,#cabb5c,#a4be6b,#7abf7c,#52bd8f,#31b8a2,#1bb2b0,#0aacbd,#06a6c6,#06a0cd,#0998d1,#0f90d2,#1388d3,#1482d5)"></i><i style="height:2.003px;background:linear-gradient(90deg,#2f46bf,#2b4bc8,#2351d1,#1857d9,#0860df,#0266e1,#046ce0,#0972de,#0f77db,#137dd8,#1483d5,#128cd2,#0b95d1,#079ecf,#06a5c9,#07aac1,#0faeb9,#1ab2b1,#27b5a8,#36b89f,#44bb97,#4ebc91,#5abd8b,#67be85,#73bf7f,#7dbf7b,#86bf77,#8dbf75,#96bf71,#9fbe6d,#a8be6a,#bfbc61,#d4bb58,#e6b950,#f6ba46,#fabb42,#fcbd3f,#fec03b,#ffc238,#fec536,#fec535,#fec535,#fec535,#fec535,#ffc437,#fabc41,#efb94b,#e1b952,#cebb5a,#aabe69,#82bf79,#59bd8b,#36b99f,#1eb3ae,#0cadbb,#06a7c5,#06a1cd,#0899d1,#0e91d2,#1389d3,#1482d5)"></i><i style="height:2.003px;background:linear-gradient(90deg,#2f46bf,#2b4bc8,#2351d1,#1857d9,#0860df,#0266e1,#046ce0,#0972de,#0f77db,#137dd8,#1483d5,#128cd2,#0b95d1,#079ecf,#06a5c9,#07aac1,#0faeb9,#1ab2b1,#27b5a8,#36b89f,#44bb97,#4ebc91,#5abd8b,#67be85,#72bf80,#7cbf7b,#85bf78,#8cbf75,#95bf71,#9fbe6d,#a8be6a,#bfbc61,#d4bb58,#e6b950,#f6ba46,#fabb42,#fcbd3f,#fec03b,#ffc338,#fec535,#fec535,#fec635,#fec635,#fec634,#ffc536,#fcbd40,#f1b949,#e5b950,#d3bb58,#b0bd67,#8abf76,#60be88,#3bb99c,#22b4ac,#0eaeba,#06a8c4,#06a2cc,#089ad0,#0d92d2,#138ad3,#1483d5)"></i><i style="height:2.003px;background:linear-gradient(90deg,#2f46bf,#2b4bc8,#2351d1,#1857d9,#0860df,#0266e1,#046ce0,#0972de,#0f77db,#137dd8,#1483d5,#128cd2,#0b95d1,#079ecf,#06a5c9,#07aac1,#0faeb9,#1ab2b1,#27b5a8,#36b89f,#44bb97,#4fbc91,#5bbd8b,#68be84,#75bf7f,#80bf7a,#89bf76,#8fbf74,#98bf70,#a0be6d,#a9be69,#bfbc61,#d4bb58,#e6b950,#f6ba46,#fabb42,#fdbd3e,#fec03b,#ffc337,#fec635,#fec635,#fec634,#fec634,#fec734,#fec535,#fdbe3e,#f4ba47,#e8b94f,#d7ba57,#b6bd64,#91bf73,#68be84,#40ba99,#25b5a9,#11afb8,#07a9c2,#06a3cb,#089bd0,#0d93d2,#128bd3,#1483d5)"></i><i style="height:2.003px;background:linear-gradient(90deg,#2f46bf,#2b4bc8,#2351d1,#1857d9,#0860df,#0266e1,#046ce0,#0972de,#0f77db,#137dd8,#1483d5,#128cd2,#0b95d1,#079ecf,#06a5c9,#07aac1,#0faeb9,#1ab2b1,#27b5a8,#36b89f,#44bb97,#4fbc91,#5cbe8a,#6abe83,#79bf7d,#85bf78,#8fbf74,#95bf71,#9bbf6f,#a2be6c,#a9be69,#bfbc60,#d4bb58,#e6b950,#f6ba46,#fabc42,#fdbe3e,#fec03b,#ffc337,#fec635,#fec634,#fec734,#fec734,#fec733,#fec634,#febf3c,#f6ba46,#ebb94d,#dbba55,#bbbd62,#98bf70,#6fbf81,#45bb96,#29b6a7,#13b0b6,#08aac1,#06a3ca,#079cd0,#0c94d2,#128bd2,#1484d4)"></i><i style="height:2.003px;background:linear-gradient(90deg,#2f46bf,#2b4bc8,#2351d1,#1857d9,#0860df,#0266e1,#046ce0,#0972de,#0f77db,#137dd8,#1483d5,#128cd2,#0b95d1,#079ecf,#06a5c9,#07aac1,#0faeb9,#1ab2b1,#27b5a8,#36b99f,#44bb97,#4fbc91,#5cbe8a,#6cbf83,#7cbf7c,#89bf76,#93bf72,#99bf70,#9ebe6e,#a3be6c,#aabe69,#bfbc60,#d4bb58,#e6b950,#f6ba46,#fabc42,#fdbe3e,#fec03a,#ffc337,#fec634,#fec734,#fec733,#fec733,#fec833,#fec734,#fec03b,#f9bb44,#efb94b,#e0ba53,#c1bc60,#9fbe6d,#76bf7e,#4bbc93,#2db7a4,#16b1b4,#09abbf,#06a4c9,#079dcf,#0b95d2,#118cd2,#1484d4)"></i><i style="height:2.003px;background:linear-gradient(90deg,#2f46bf,#2b4bc8,#2351d1,#1857d9,#0860df,#0266e1,#046ce0,#0972de,#0f77db,#137dd8,#1483d5,#128cd2,#0b95d1,#079ecf,#06a5c9,#07aac1,#0faeb9,#1ab2b1,#27b5a8,#36b89f,#44bb97,#4fbc91,#5cbe8a,#6bbf83,#7bbf7c,#88bf76,#92bf72,#98bf70,#9dbe6e,#a3be6c,#aabe69,#bfbc60,#d4bb58,#e6b950,#f6ba46,#fabc42,#fdbe3e,#fec13a,#ffc437,#fec734,#fec733,#fec833,#fec833,#fec932,#fec833,#fec13a,#fabc41,#f2b949,#e4b951,#c7bc5d,#a6be6a,#7cbf7b,#50bc90,#31b8a2,#19b2b2,#0aacbe,#06a5c8,#079ecf,#0a96d1,#118dd2,#1485d4)"></i><i style="height:2.003px;background:linear-gradient(90deg,#2f46bf,#2b4bc8,#2351d1,#1857d9,#0860df,#0266e1,#046ce0,#0972de,#0f77db,#137dd8,#1483d5,#128cd2,#0b95d1,#079ecf,#06a5c9,#07aac1,#0faeb9,#1ab2b1,#27b5a8,#36b89f,#44bb97,#4fbc91,#5bbd8a,#69be84,#77bf7e,#83bf79,#8dbf75,#93bf72,#9abf6f,#a1be6c,#a9be69,#bfbc61,#d4bb58,#e6b950,#f6ba46,#fabc42,#fdbe3e,#fec13a,#ffc436,#fec734,#fec733,#fec833,#fec932,#fec932,#fec832,#ffc238,#fcbd3f,#f5ba46,#e8b94e,#ccbb5b,#adbe68,#83bf79,#56bd8d,#35b89f,#1bb2b0,#0badbc,#06a6c7,#069fce,#0a97d1,#108ed2,#1485d4)"></i><i style="height:2.003px;background:linear-gradient(90deg,#2f46bf,#2b4bc8,#2351d1,#1857d9,#0860df,#0266e1,#046ce0,#0972de,#0f77db,#137dd8,#1483d5,#128cd2,#0b95d1,#079ecf,#06a5c9,#07aac1,#0faeb9,#1ab2b1,#27b5a8,#36b89f,#44bb97,#4ebc91,#5abd8b,#67be85,#73bf7f,#7ebf7b,#87bf77,#8ebf74,#97bf71,#9fbe6d,#a8be69,#bfbc61,#d4bb58,#e6b950,#f6ba46,#fabc42,#fdbe3e,#fec13a,#ffc436,#fec733,#fec833,#fec932,#fec932,#fdca31,#fec932,#ffc437,#febe3d,#f9bb44,#edb94c,#d2bb59,#b3bd65,#89bf76,#5cbe8a,#3ab99d,#1fb3ae,#0dadbb,#06a7c6,#06a0cd,#0998d1,#108fd2,#1486d4)"></i><i style="height:2.003px;background:linear-gradient(90deg,#2f46bf,#2b4bc8,#2351d1,#1857d9,#0860df,#0266e1,#046ce0,#0972de,#0f77db,#137dd8,#1483d5,#128cd2,#0b95d1,#079ecf,#06a5c9,#07aac1,#0faeb9,#1ab2b1,#27b5a8,#36b89f,#44bb97,#4ebc91,#5abd8b,#67be85,#72bf80,#7cbf7c,#85bf78,#8cbf75,#95bf71,#9fbe6d,#a8be6a,#bfbc61,#d4bb58,#e6b950,#f6ba46,#fabc42,#fdbe3d,#fec139,#fec536,#fec833,#fec832,#fec932,#fdca31,#fdca31,#fdca31,#fec536,#fec03b,#fabc41,#f0b94a,#d7ba57,#b9bd63,#8fbf74,#61be88,#3eba9a,#21b4ac,#0eaeba,#06a8c5,#06a0cd,#0899d1,#0f8fd2,#1486d3)"></i><i style="height:2.003px;background:linear-gradient(90deg,#2f46bf,#2b4bc8,#2351d1,#1857d9,#0860df,#0266e1,#046ce0,#0972de,#0f77db,#137dd8,#1483d5,#128cd2,#0b95d1,#079ecf,#06a5c9,#07aac1,#0faeb9,#1ab2b1,#27b5a8,#36b89f,#44bb97,#4ebc91,#5abd8b,#68be85,#74bf7f,#7fbf7a,#87bf77,#8ebf74,#97bf70,#a0be6d,#a9be69,#bfbc60,#d4bb58,#e6b94f,#f7ba45,#fbbc41,#febf3d,#fec239,#fec535,#fec832,#fec932,#fdca31,#fdca31,#fdcb30,#fdcb30,#fec635,#fec13a,#fbbc40,#f1b949,#d8ba56,#babd63,#90bf73,#62be87,#3eba9a,#21b4ac,#0eaeba,#06a8c5,#06a0cd,#0899d1,#0f8fd2,#1486d3)"></i><i style="height:2.003px;background:linear-gradient(90deg,#2f46bf,#2b4bc8,#2351d1,#1857d9,#0860df,#0266e1,#046ce0,#0972de,#0f77db,#137dd8,#1483d5,#128cd2,#0b95d1,#079ecf,#06a5c9,#07aac1,#0faeb9,#1ab2b1,#27b5a8,#36b89f,#44bb97,#4fbc91,#5bbe8a,#6abe84,#78bf7d,#84bf78,#8ebf74,#93bf72,#9bbf6f,#a2be6c,#aabe69,#c0bc60,#d5ba57,#e7b94f,#f7ba45,#fbbc41,#febf3c,#ffc238,#fec635,#fec932,#fdca31,#fdca31,#fdcb30,#fdcc2f,#fdcb30,#fec634,#fec13a,#fcbd40,#f2b949,#d9ba56,#bbbd62,#91bf73,#63be86,#3fba9a,#21b4ac,#0eaeba,#06a8c5,#06a0cd,#0899d1,#0f8fd2,#1486d3)"></i><i style="height:2.003px;background:linear-gradient(90deg,#2f46bf,#2b4bc8,#2351d1,#1857d9,#0860df,#0266e1,#046ce0,#0972de,#0f77db,#137dd8,#1483d5,#128cd2,#0b95d1,#079ecf,#06a5c9,#07aac1,#0faeb9,#1ab2b1,#27b5a8,#36b89f,#44bb97,#4fbc91,#5cbe8a,#6cbf83,#7bbf7c,#89bf76,#93bf72,#98bf70,#9ebe6e,#a4be6b,#acbe68,#c1bc60,#d5ba57,#e7b94f,#f8ba44,#fbbd40,#febf3c,#ffc337,#fec634,#fdca31,#fdca31,#fdcb30,#fdcc2f,#fccc2f,#fdcc2f,#fec734,#fec239,#fcbd3f,#f3ba48,#daba55,#bcbd62,#92bf72,#65be86,#3fba99,#21b4ac,#0eaeba,#06a8c5,#06a0cd,#0899d1,#0f8fd2,#1486d3)"></i><i style="height:2.003px;background:linear-gradient(90deg,#2f46bf,#2b4bc8,#2351d1,#1857d9,#0860df,#0266e1,#046ce0,#0972de,#0f77db,#137dd8,#1483d5,#128cd2,#0b95d1,#079ecf,#06a5c9,#07aac1,#0faeb9,#1ab2b1,#27b5a8,#36b99f,#44bb97,#4fbc91,#5cbe8a,#6cbf83,#7cbf7c,#89bf76,#93bf72,#98bf70,#9ebe6d,#a4be6b,#acbe68,#c1bc60,#d6ba57,#e8b94f,#f8ba44,#fcbd40,#fec03b,#ffc337,#fec733,#fdca31,#fdcb30,#fdcc2f,#fccc2f,#fccd2e,#fccd2f,#fec833,#ffc238,#fdbe3e,#f4ba47,#dbba55,#bdbd61,#94bf72,#66be85,#40ba99,#21b4ac,#0eaeba,#06a8c5,#06a0cd,#0899d1,#0f8fd2,#1486d3)"></i><i style="height:2.003px;background:linear-gradient(90deg,#2f46bf,#2b4bc8,#2351d1,#1857d9,#0860df,#0266e1,#046ce0,#0972de,#0f77db,#137dd8,#1483d5,#128cd2,#0b95d1,#079ecf,#06a5c9,#07aac1,#0faeb9,#1ab2b1,#27b5a8,#36b89f,#44bb97,#4fbc91,#5bbe8a,#6abe83,#78bf7d,#85bf78,#8ebf74,#94bf72,#9cbf6e,#a3be6b,#acbe68,#c2bc5f,#d6ba57,#e8b94e,#f9bb44,#fcbd3f,#fec03b,#ffc436,#fec833,#fdcb30,#fdcc2f,#fccc2f,#fccd2e,#fcce2e,#fccd2e,#fec832,#ffc337,#fdbe3d,#f5ba47,#dcba54,#bebc61,#95bf71,#67be85,#41ba99,#21b4ac,#0eaeba,#06a8c5,#06a0cd,#0899d1,#0f8fd2,#1486d3)"></i><i style="height:2.003px;background:linear-gradient(90deg,#2f46bf,#2b4bc8,#2351d1,#1857d9,#0860df,#0266e1,#046ce0,#0972de,#0f77db,#137dd8,#1483d5,#128cd2,#0b95d1,#079ecf,#06a5c9,#07aac1,#0faeb9,#1ab2b1,#27b5a8,#36b89f,#44bb97,#4fbc91,#5bbd8b,#68be84,#74bf7f,#7fbf7a,#88bf77,#8fbf74,#98bf70,#a2be6c,#acbe68,#c2bc5f,#d7ba57,#e9b94e,#f9bb43,#fdbd3e,#fec13a,#ffc536,#fec832,#fdcc2f,#fccc2f,#fccd2e,#fcce2e,#fcce2d,#fcce2e,#fec932,#ffc437,#febf3c,#f6ba46,#ddba54,#bfbc60,#96bf71,#69be84,#41ba98,#21b4ac,#0eaeba,#06a8c5,#06a0cd,#0899d1,#0f8fd2,#1486d3)"></i><i style="height:2.003px;background:linear-gradient(90deg,#2f46bf,#2b4bc8,#2351d1,#1857d9,#0860df,#0266e1,#046ce0,#0972de,#0f77db,#137dd8,#1483d5,#128cd2,#0b95d1,#079ecf,#06a5c9,#07aac1,#0faeb9,#1ab2b1,#27b5a8,#36b89f,#44bb97,#4ebc91,#5abd8b,#67be85,#72bf80,#7cbf7b,#85bf78,#8cbf75,#97bf70,#a1be6c,#acbe68,#c2bc5f,#d7ba56,#e9b94e,#f9bb43,#fdbe3e,#fec139,#fec535,#fec932,#fccc2f,#fccd2e,#fcce2e,#fcce2d,#fbcf2d,#fccf2d,#fdca31,#ffc436,#fec03c,#f7ba45,#deba54,#c0bc60,#97bf70,#6abe83,#42bb98,#22b4ac,#0eaeba,#06a8c5,#06a0cd,#0899d1,#0f8fd2,#1486d3)"></i><i style="height:2.003px;background:linear-gradient(90deg,#2f46bf,#2b4bc8,#2351d1,#1857d9,#0860df,#0266e1,#046ce0,#0972de,#0f77db,#137dd8,#1483d5,#128cd2,#0b95d1,#079ecf,#06a5c9,#07aac1,#0faeb9,#1ab2b1,#27b5a8,#36b89f,#44bb97,#4ebc91,#5abd8b,#67be85,#73bf7f,#7ebf7b,#86bf77,#8dbf74,#98bf70,#a2be6c,#adbe68,#c3bc5f,#d8ba56,#eab94e,#fabb42,#fdbe3d,#fec239,#fec635,#fdca31,#fccd2e,#fcce2e,#fcce2d,#fbcf2d,#fbd02c,#fbcf2d,#fdca31,#fec535,#fec03b,#f8ba45,#dfba53,#c1bc5f,#99bf70,#6bbf83,#43bb97,#22b4ac,#0eaeba,#06a8c5,#06a0cd,#0899d1,#0f8fd2,#1486d3)"></i><i style="height:2.003px;background:linear-gradient(90deg,#2f46bf,#2b4bc8,#2351d1,#1857d9,#0860df,#0266e1,#046ce0,#0972de,#0f77db,#137dd8,#1483d5,#128cd2,#0b95d1,#079ecf,#06a5c9,#07aac1,#0faeb9,#1ab2b1,#27b5a8,#36b89f,#44bb97,#4fbc91,#5bbd8a,#69be84,#77bf7e,#83bf79,#8cbf75,#92bf72,#9bbf6f,#a4be6b,#aebe67,#c4bc5f,#d9ba56,#eab94d,#fabc42,#fdbe3d,#fec238,#fec634,#fdca31,#fcce2e,#fcce2d,#fbcf2d,#fbd02c,#fbd02c,#fbd02c,#fdcb30,#fec635,#fec13a,#f9bb44,#e0ba53,#c3bc5f,#9abf6f,#6dbf82,#43bb97,#22b4ac,#0eaeba,#06a8c5,#06a0cd,#0899d1,#0f8fd2,#1486d3)"></i><i style="height:2.003px;background:linear-gradient(90deg,#2f46bf,#2b4bc8,#2351d1,#1857d9,#0860df,#0266e1,#046ce0,#0972de,#0f77db,#137dd8,#1483d5,#128cd2,#0b95d1,#079ecf,#06a5c9,#07aac1,#0faeb9,#1ab2b1,#27b5a8,#36b89f,#44bb97,#4fbc91,#5cbe8a,#6bbf83,#7bbf7c,#88bf76,#92bf72,#97bf70,#9fbe6d,#a6be6a,#afbe67,#c4bc5e,#d9ba56,#ebb94d,#fabc42,#febf3d,#ffc338,#fec734,#fdcb30,#fcce2d,#fbcf2d,#fbd02c,#fbd02c,#fad12b,#fbd12b,#fdcc30,#fec634,#fec139,#f9bb43,#e1ba52,#c4bc5f,#9bbf6f,#6dbf82,#44bb97,#22b4ac,#0eaeba,#06a7c5,#06a0cd,#0999d1,#0f8fd2,#1486d4)"></i><i style="height:2.003px;background:linear-gradient(90deg,#2f46bf,#2b4bc8,#2351d1,#1857d9,#0860df,#0266e1,#046ce0,#0972de,#0f77db,#137dd8,#1483d5,#128cd2,#0b95d1,#079ecf,#06a5c9,#07aac1,#0faeb9,#1ab2b1,#27b5a8,#36b99f,#44bb97,#4fbc91,#5cbe8a,#6cbf83,#7cbf7c,#8abf76,#94bf72,#99bf70,#a0be6d,#a7be6a,#b0be67,#c4bc5e,#d9ba56,#ebb94d,#fabc42,#febf3c,#ffc338,#fec734,#fdcb30,#fccf2d,#fbcf2c,#fbd02c,#fad12b,#fad22a,#fad22b,#fccc2f,#fec733,#fec238,#fabc42,#e2b952,#c4bc5e,#9bbf6f,#6cbf83,#42bb98,#21b4ac,#0eaeba,#06a7c5,#06a0cd,#0998d1,#108fd2,#1486d4)"></i><i style="height:2.003px;background:linear-gradient(90deg,#2f46bf,#2b4bc8,#2351d1,#1857d9,#0860df,#0266e1,#046ce0,#0972de,#0f77db,#137dd8,#1483d5,#128cd2,#0b95d1,#079ecf,#06a5c9,#07aac1,#0faeb9,#1ab2b1,#27b5a8,#36b89f,#44bb97,#4fbc91,#5cbe8a,#6abe83,#79bf7d,#86bf77,#90bf73,#95bf71,#9ebe6e,#a6be6b,#afbe67,#c4bc5e,#d9ba56,#ebb94d,#fabc42,#febf3c,#ffc338,#fec734,#fdcb30,#fbcf2d,#fbd02c,#fbd12b,#fad22b,#fad32a,#fad32a,#fccd2e,#fec832,#ffc338,#fabc41,#e3b951,#c5bc5e,#9abf6f,#6abe83,#41ba98,#1fb4ad,#0dadbb,#06a7c6,#069fce,#0997d1,#108ed2,#1485d4)"></i><i style="height:2.003px;background:linear-gradient(90deg,#2f46bf,#2b4bc8,#2351d1,#1857d9,#0860df,#0266e1,#046ce0,#0972de,#0f77db,#137dd8,#1483d5,#128cd2,#0b95d1,#079ecf,#06a5c9,#07aac1,#0faeb9,#1ab2b1,#27b5a8,#36b89f,#44bb97,#4fbc91,#5bbd8b,#68be84,#75bf7e,#80bf7a,#89bf76,#90bf73,#9abf6f,#a4be6b,#aebe67,#c4bc5e,#d9ba56,#ebb94d,#fabc42,#febf3c,#ffc337,#fec733,#fdcb30,#fbcf2d,#fbd02c,#fad12b,#fad32a,#f9d429,#f9d329,#fcce2d,#fec932,#ffc437,#fbbc40,#e4b951,#c6bc5e,#9abf6f,#69be84,#3fba99,#1eb3ae,#0cadbb,#06a6c6,#069fce,#0a97d1,#118dd2,#1484d4)"></i><i style="height:2.003px;background:linear-gradient(90deg,#2f46bf,#2b4bc8,#2351d1,#1857d9,#0860df,#0266e1,#046ce0,#0972de,#0f77db,#137dd8,#1483d5,#128cd2,#0b95d1,#079ecf,#06a5c9,#07aac1,#0faeb9,#1ab2b1,#27b5a8,#36b89f,#44bb97,#4ebc91,#5abd8b,#67be85,#72bf80,#7cbf7b,#85bf78,#8cbf75,#98bf70,#a3be6c,#aebe67,#c4bc5e,#d9ba56,#ebb94d,#fabc42,#febf3c,#ffc337,#fec733,#fdcc2f,#fbd02c,#fbd12b,#fad22a,#f9d329,#f9d528,#f9d428,#fbcf2d,#fdca31,#ffc436,#fcbd40,#e5b950,#c7bc5d,#99bf6f,#67be85,#3eba9a,#1db3af,#0cadbc,#06a6c7,#069ece,#0a96d1,#118dd2,#1484d4)"></i><i style="height:2.003px;background:linear-gradient(90deg,#2f46bf,#2b4bc8,#2351d1,#1857d9,#0860df,#0266e1,#046ce0,#0972de,#0f77db,#137dd8,#1483d5,#128cd2,#0b95d1,#079ecf,#06a5c9,#07aac1,#0faeb9,#1ab2b1,#27b5a8,#36b89f,#44bb97,#4ebc91,#5abd8b,#67be85,#73bf7f,#7dbf7b,#85bf78,#8dbf75,#98bf70,#a3be6c,#aebe67,#c4bc5e,#d9ba56,#ebb94d,#fabc42,#febf3c,#ffc337,#fec833,#fdcc2f,#fbd02c,#fad12b,#fad32a,#f9d429,#f8d528,#f8d528,#fbd02c,#fdcb30,#fec535,#fcbd3f,#e6b950,#c7bc5d,#99bf70,#66be85,#3dba9b,#1cb3af,#0bacbd,#06a6c7,#079ecf,#0b96d1,#118cd2,#1483d4)"></i><i style="height:2.003px;background:linear-gradient(90deg,#2f46bf,#2b4bc8,#2351d1,#1857d9,#0860df,#0266e1,#046ce0,#0972de,#0f77db,#137dd8,#1483d5,#128cd2,#0b95d1,#079ecf,#06a5c9,#07aac1,#0faeb9,#1ab2b1,#27b5a8,#36b89f,#44bb97,#4fbc91,#5bbd8b,#69be84,#76bf7e,#81bf79,#8abf76,#91bf73,#9bbf6f,#a4be6b,#afbe67,#c4bc5e,#d9ba56,#ebb94d,#fabc42,#febf3c,#ffc337,#fec833,#fccc2f,#fbd02c,#fad22b,#f9d329,#f9d528,#f8d627,#f8d627,#fbd12b,#fdcb30,#fec635,#fdbe3e,#e7b94f,#c8bc5d,#99bf70,#64be86,#3cba9c,#1cb2b0,#0aacbd,#06a5c8,#079dcf,#0b95d2,#128bd2,#1483d5)"></i><i style="height:2.003px;background:linear-gradient(90deg,#2f46bf,#2b4bc8,#2351d1,#1857d9,#0860df,#0266e1,#046ce0,#0972de,#0f77db,#137dd8,#1483d5,#128cd2,#0b95d1,#079ecf,#06a5c9,#07aac1,#0faeb9,#1ab2b1,#27b5a8,#36b89f,#44bb97,#4fbc91,#5cbe8a,#6bbe83,#7abf7c,#87bf77,#91bf73,#96bf71,#9ebe6d,#a6be6a,#afbe67,#c4bc5e,#d9ba56,#ebb94d,#fabc42,#febf3c,#ffc437,#fec833,#fccd2f,#fbd12b,#fad22a,#f9d429,#f8d628,#f8d726,#f8d726,#fad22b,#fccc2f,#fec734,#fdbe3d,#e8b94f,#c9bc5c,#98bf70,#63be87,#3ab99c,#1bb2b1,#0aacbe,#06a5c8,#079dcf,#0c94d2,#128bd3,#1482d5)"></i><i style="height:2.003px;background:linear-gradient(90deg,#2f46bf,#2b4bc8,#2351d1,#1857d9,#0860df,#0266e1,#046ce0,#0972de,#0f77db,#137dd8,#1483d5,#128cd2,#0b95d1,#079ecf,#06a5c9,#07aac1,#0faeb9,#1ab2b1,#27b5a8,#36b99f,#44bb97,#4fbc91,#5cbe8a,#6cbf83,#7cbf7c,#8abf76,#94bf72,#99bf70,#a0be6d,#a7be6a,#b0bd67,#c4bc5e,#d9ba56,#ebb94d,#fabc42,#febf3c,#ffc437,#fec832,#fccd2e,#fad12b,#fad32a,#f9d528,#f8d627,#f7d826,#f7d825,#fad32a,#fccd2e,#fec733,#febf3c,#e9b94e,#cabb5c,#98bf70,#61be87,#39b99d,#1ab2b1,#09acbe,#06a4c9,#079ccf,#0c94d2,#128ad3,#1482d5)"></i><i style="height:2.003px;background:linear-gradient(90deg,#2f46bf,#2b4bc8,#2351d1,#1857d9,#0860df,#0266e1,#046ce0,#0972de,#0f77db,#137dd8,#1483d5,#128cd2,#0b95d1,#079ecf,#06a5c9,#07aac1,#0faeb9,#1ab2b1,#27b5a8,#36b89f,#44bb97,#4fbc91,#5cbe8a,#6bbe83,#7abf7c,#87bf77,#91bf73,#96bf71,#9ebe6d,#a6be6a,#afbe67,#c4bc5e,#d9ba56,#ebb94d,#fabc42,#febf3c,#ffc437,#fec832,#fccd2e,#fad12b,#f9d329,#f9d528,#f8d726,#f7d925,#f7da25,#f9d429,#fcce2e,#fec833,#fec03b,#eab94e,#cabb5c,#98bf70,#60be88,#38b99e,#19b2b2,#09abbf,#06a4c9,#079cd0,#0d93d2,#138ad3,#1481d5)"></i><i style="height:2.003px;background:linear-gradient(90deg,#2f46bf,#2b4bc7,#2450d0,#1956d8,#0a5fdf,#0266e1,#036be0,#0971de,#0e77db,#127cd8,#1483d5,#128bd2,#0b95d2,#079ecf,#06a4c9,#07aac1,#0faeb9,#19b2b1,#26b5a9,#35b8a0,#43bb97,#4ebc91,#5abd8b,#68be84,#75bf7e,#81bf79,#8abf76,#91bf73,#9abf6f,#a4be6b,#aebe67,#c4bc5f,#d9ba56,#eab94d,#fabc42,#febf3c,#ffc437,#fec832,#fccd2e,#fad12b,#f9d329,#f9d528,#f8d726,#f7d925,#f7da25,#f9d429,#fcce2e,#fec833,#febf3c,#e8b94f,#c7bc5d,#92bf72,#58bd8c,#32b8a2,#14b0b5,#07aac1,#06a3cb,#089ad0,#0e91d2,#1388d3,#1480d6)"></i><i style="height:2.003px;background:linear-gradient(90deg,#3045bd,#2d49c5,#274ecc,#2053d4,#0f5cdd,#0363e1,#0268e1,#066fdf,#0c75dd,#117ad9,#1480d6,#1389d3,#0d92d2,#079cd0,#06a3cb,#07a9c3,#0dadbb,#16b1b3,#23b4ab,#31b8a2,#3fba9a,#4abc94,#55bd8d,#62be87,#6fbf81,#79bf7d,#83bf79,#8abf76,#96bf71,#a1be6d,#acbe68,#c2bc5f,#d7ba57,#e9b94e,#f9bb43,#fdbe3d,#ffc238,#fec734,#fdcc30,#fbd02c,#fad12b,#f9d329,#f9d528,#f8d727,#f8d727,#fbd12b,#fdcb30,#fec536,#fbbc41,#dcba54,#b5bd65,#79bf7d,#3cba9b,#1db3af,#09abbf,#06a4c9,#079cd0,#0d93d2,#128bd3,#1483d5,#137dd8)"></i><i style="height:2.003px;background:linear-gradient(90deg,#3145bc,#2e48c2,#2b4bc8,#254fcf,#1757d9,#0a5fdf,#0265e1,#046ce0,#0a72de,#0f78db,#137ed7,#1486d4,#0f90d2,#089ad1,#06a1cc,#06a7c5,#0bacbd,#14b0b5,#20b4ad,#2db7a4,#3bb99c,#46bb96,#51bd8f,#5ebe89,#6bbe83,#76bf7e,#7fbf7a,#88bf77,#93bf72,#9fbe6d,#aabe69,#c0bc60,#d5ba57,#e7b94f,#f8ba44,#fcbd3f,#fec13a,#fec635,#fdca31,#fcce2d,#fbd02c,#fad12b,#fad32a,#f9d429,#f9d429,#fcce2d,#fec832,#fec239,#f6ba46,#cfbb5a,#a1be6c,#5dbe8a,#25b5aa,#0eaeba,#06a5c8,#079ecf,#0b94d2,#128bd2,#1485d4,#137fd7,#1079da)"></i><i style="height:2.003px;background:linear-gradient(90deg,#3144bb,#2f46bf,#2d49c4,#294cc9,#1f53d4,#115bdd,#0462e1,#026ae1,#0770df,#0d76dc,#127cd8,#1484d4,#118dd2,#0997d1,#06a0cd,#06a6c7,#09abbf,#11afb7,#1cb3af,#2ab6a6,#37b99e,#42bb98,#4ebc91,#5cbe8a,#6abe83,#77bf7e,#81bf79,#89bf76,#94bf72,#9ebe6e,#a9be69,#bfbc61,#d4bb58,#e6b950,#f6ba46,#fbbc40,#fec03b,#ffc436,#fec932,#fccd2f,#fcce2e,#fbcf2c,#fbd12b,#fad22a,#fad22b,#fdcc30,#fec535,#febf3c,#f0b94a,#c3bc5f,#8dbf75,#42bb98,#12afb7,#06a8c4,#079ecf,#0b95d2,#128cd2,#1484d4,#1380d6,#117bd9,#0e76dc)"></i><i style="height:2.003px;background:linear-gradient(90deg,#3243ba,#3045bd,#2f47c0,#2d49c4,#254fce,#1a56d7,#0b5ede,#0267e1,#056ee0,#0b73dd,#117ada,#1482d5,#128bd3,#0b95d2,#069ece,#06a5c8,#08aac0,#0faeb9,#1ab2b1,#26b5a9,#33b8a1,#3eba9a,#4bbc93,#5bbd8b,#6bbf83,#7abf7c,#85bf78,#8dbf75,#95bf71,#9ebe6e,#a8be6a,#bdbd61,#d2bb59,#e4b950,#f5ba47,#fabc42,#febf3c,#ffc337,#fec733,#fdcb30,#fccc2f,#fccd2e,#fcce2d,#fbd02c,#fbcf2d,#fec932,#ffc238,#fcbd40,#eab94d,#b6bd64,#75bf7e,#2bb6a6,#07a9c2,#06a1cd,#0c94d2,#128bd2,#1484d4,#137fd7,#117bd9,#0e77db,#0a73de)"></i><i style="height:2.003px;background:linear-gradient(90deg,#3243b8,#3244ba,#3145bc,#2f46bf,#2a4bc8,#2251d2,#1459db,#0364e1,#036be0,#0971de,#0f77db,#137fd6,#1388d3,#0d93d2,#079ccf,#06a4ca,#07a9c2,#0dadbb,#17b1b3,#23b5ab,#30b7a3,#3bb99c,#48bb94,#59bd8c,#6bbe83,#7bbf7c,#87bf77,#8ebf74,#96bf71,#9dbe6e,#a6be6a,#bcbd62,#d1bb59,#e3b951,#f3ba48,#f9bb43,#fdbe3e,#fec239,#fec635,#fdca31,#fdca30,#fdcb30,#fccc2f,#fccd2e,#fccd2f,#fec634,#fec03b,#f9bb44,#e4b950,#a8be6a,#5dbe8a,#18b1b3,#06a2cb,#0a97d1,#1389d3,#1482d5,#137dd8,#1079da,#0d76dc,#0a72de,#076fdf)"></i><i style="height:2.003px;background:linear-gradient(90deg,#3342b7,#3242b7,#3243b8,#3243ba,#2e48c2,#284dcb,#1e54d5,#0860df,#0268e1,#066fdf,#0d75dc,#137dd8,#1486d4,#0f90d2,#089ad0,#06a3cb,#06a8c4,#0bacbd,#14b0b5,#20b4ad,#2cb7a5,#37b99e,#44bb96,#55bd8e,#67be85,#77bf7e,#83bf78,#8bbf75,#93bf72,#9bbf6f,#a4be6b,#babd62,#cfbb5a,#e1b952,#f2b949,#f8ba44,#fcbd3f,#fec03b,#ffc436,#fec833,#fec932,#fec931,#fdca31,#fdcb30,#fdca31,#ffc337,#fcbd3f,#f5ba47,#deba53,#9abf6f,#44bb97,#0aacbe,#0998d1,#128bd2,#1480d6,#117bd9,#0e77db,#0b73dd,#0871df,#056ee0,#036be0)"></i><i style="height:2.003px;background:linear-gradient(90deg,#3243b9,#3342b7,#3341b4,#3341b4,#3145bc,#2d49c3,#264fcd,#115adc,#0364e1,#036be0,#0972de,#117ad9,#1483d5,#118dd2,#0998d1,#06a1cc,#06a7c5,#09abbf,#11afb7,#1db3af,#28b6a7,#33b8a1,#3fba99,#4ebc91,#5ebe89,#6dbf82,#79bf7d,#82bf79,#8bbf75,#94bf71,#9fbe6d,#b5bd64,#cbbb5c,#ddba54,#eeb94b,#f4ba48,#f9bb43,#fdbd3e,#fec13a,#ffc436,#fec536,#fec635,#fec634,#fec734,#fec634,#febf3d,#f6ba46,#ebb94d,#d0bb59,#7dbf7b,#23b4ab,#06a4ca,#118cd2,#1482d5,#117ad9,#0d76dc,#0a72de,#066fdf,#046de0,#036ae1,#0268e1)"></i><i style="height:2.003px;background:linear-gradient(90deg,#3144bc,#3342b6,#343fb1,#353eaf,#3341b5,#3145bc,#2c49c5,#1e54d5,#0b5edf,#0266e1,#056de0,#0e76dc,#137fd7,#1389d3,#0b95d2,#069fce,#06a6c7,#08aac0,#0faeb9,#1ab2b1,#25b5aa,#2fb7a3,#3ab99c,#47bb95,#55bd8e,#61be87,#6dbf82,#77bf7e,#82bf79,#8dbf75,#98bf70,#afbe67,#c5bc5e,#d8ba56,#e9b94e,#eeb94b,#f4ba48,#f9bb44,#fcbd3f,#fec03b,#fec13a,#fec13a,#fec239,#ffc338,#fec139,#f8bb44,#ecb94c,#dfba53,#bfbc60,#56bd8d,#09abbf,#0998d1,#1482d5,#127bd9,#0c75dc,#0971de,#066edf,#036be0,#0269e1,#0267e1,#0265e1)"></i><i style="height:2.003px;background:linear-gradient(90deg,#3046be,#3342b6,#353eae,#353ba9,#353eaf,#3341b4,#3145bc,#284dcb,#1857d8,#0860e0,#0269e1,#0a73de,#127cd9,#1485d4,#0e91d2,#079dcf,#06a5c9,#07a9c2,#0dadbb,#16b1b3,#21b4ac,#2bb6a6,#35b89f,#41ba98,#4dbc92,#59bd8c,#64be86,#6ebf81,#7abf7c,#86bf78,#91bf73,#a9be69,#c0bc60,#d3bb58,#e4b951,#e9b94e,#eeb94b,#f3ba48,#f8ba44,#fbbc40,#fcbd40,#fcbd3f,#fdbe3e,#fdbe3d,#fcbd3f,#f0b94a,#e1b952,#d2bb59,#aebe67,#33b8a1,#069fce,#1388d3,#1078da,#0c74dd,#076fdf,#046de0,#036ae1,#0268e1,#0266e1,#0363e1,#0661e0)"></i><i style="height:2.003px;background:linear-gradient(90deg,#3045bd,#3341b4,#353cac,#3639a6,#353caa,#343eaf,#3342b6,#2d48c3,#2350d0,#1459db,#0363e1,#066ee0,#0f77db,#1480d6,#128bd2,#0998d1,#06a1cd,#06a6c7,#08aac1,#0eaeba,#18b1b3,#20b4ad,#2ab6a6,#35b89f,#40ba99,#4bbc93,#56bd8d,#61be87,#6ebf81,#7bbf7c,#88bf77,#a0be6d,#b7bd64,#cabb5c,#dcba54,#e1b952,#e7b94f,#ecb94c,#f2b949,#f6ba46,#f7ba45,#f8ba44,#f9bb43,#fabb42,#f8ba44,#e9b94e,#d9ba56,#c8bc5d,#a0be6d,#20b4ad,#0b95d2,#1480d6,#0b73dd,#076fdf,#036be0,#0269e1,#0266e1,#0364e1,#0462e1,#0860e0,#0c5ede)"></i><i style="height:2.003px;background:linear-gradient(90deg,#3144bb,#343fb2,#353ba9,#3638a3,#363aa7,#353cab,#343fb0,#3145bc,#2b4bc7,#2152d2,#0e5cde,#0269e1,#0a72de,#117bd9,#1484d4,#0f90d2,#089ad0,#06a1cd,#06a6c7,#08aac1,#0eaeba,#15b1b4,#1eb3ae,#28b6a7,#32b8a1,#3dba9b,#47bb95,#53bd8f,#61be88,#6fbf81,#7dbf7b,#96bf71,#acbe68,#c0bc60,#d2bb59,#d8ba56,#dfba53,#e5b950,#ebb94d,#f1b94a,#f2b949,#f3b948,#f3ba48,#f4ba47,#f2b949,#e2b952,#d1bb59,#bfbc60,#94bf72,#14b0b5,#118cd2,#127bd9,#076fdf,#046ce0,#0268e1,#0265e1,#0363e1,#0761e0,#0a5fdf,#0d5dde,#115bdc)"></i><i style="height:2.003px;background:linear-gradient(90deg,#3243b8,#343eaf,#363aa7,#3637a0,#3638a3,#363aa7,#353cab,#3341b4,#3046bd,#2b4ac7,#1f53d4,#0363e1,#046de0,#0d75dc,#137fd7,#1388d3,#0d93d2,#089bd0,#06a1cc,#06a6c7,#07aac1,#0cadbb,#14b0b5,#1db3af,#26b5a9,#30b7a3,#3ab99c,#46bb96,#54bd8e,#63be87,#72bf80,#8bbf75,#a2be6c,#b6bd64,#c8bc5d,#d0bb5a,#d7ba57,#deba54,#e4b950,#eab94d,#ebb94d,#ecb94c,#edb94c,#eeb94b,#ecb94c,#daba55,#c8bc5d,#b5bd64,#87bf77,#0aacbd,#1484d4,#0e76dc,#036be0,#0268e1,#0363e1,#0761e0,#0a5fdf,#0d5dde,#105bdd,#1459db,#1857d9)"></i></div>
<div class="hm" style="left:164.10px;top:180.30px;width:12.30px;height:130.20px;background:linear-gradient(180deg,#f9fb0e,#f6f313,#f5eb18,#f5e41d,#f5de21,#f7d826,#fad32a,#fcce2e,#fec832,#ffc337,#fdbe3d,#f8bb44,#f1b94a,#e9b94e,#e1b952,#d9ba56,#d1bb59,#c8bc5d,#c0bc60,#b7bd64,#aebe67,#a5be6b,#9cbf6f,#92bf73,#87bf77,#7cbf7b,#71bf80,#65be86,#59bd8c,#4dbc92,#42bb98,#38b99e,#2eb7a4,#25b5a9,#1db3af,#15b1b4,#0faeb9,#0aacbe,#07a9c2,#06a7c6,#06a4ca,#06a0cd,#079ccf,#0998d1,#0c93d2,#108ed2,#1389d3,#1485d4,#1481d6,#127dd8,#1079da,#0d75dc,#0871de,#046de0,#0268e1,#0363e1,#0f5cdd,#2053d4,#2c4ac7,#3243ba,#353dad,#3637a0,#363093,#352a87)"></div>
<div class="hm" style="left:232.00px;top:180.30px;width:121.50px;height:130.20px"><i style="height:2.003px;background:linear-gradient(90deg,#2c4ac5,#3046bf,#3242b8,#3440b2,#3340b3,#3341b5,#3243b8,#2d49c3,#244fcf,#1857d8,#0761e0,#046ce0,#0c75dc,#137dd8,#1487d3,#0c94d2,#079dcf,#06a3ca,#06a8c4,#0aacbd,#11afb7,#17b1b3,#1db3af,#24b5aa,#2ab6a6,#2fb7a3,#35b8a0,#3bb99c,#3fba9a,#43bb97,#47bb95,#47bb95,#46bb95,#41ba98,#3bb99c,#31b8a2,#27b6a8,#1fb3ae,#17b1b3,#0fafb9,#08abc0,#06a7c6,#06a2cb,#079cd0,#0b95d1,#108fd2,#1389d3,#1483d5,#137ed7,#117ad9,#0e77db,#0c74dd,#0871de,#056ee0,#036ae1,#0265e1,#0b5edf,#1757d9,#2152d3,#274ecc,#2d49c4)"></i><i style="height:2.003px;background:linear-gradient(90deg,#2e48c2,#2f46bf,#3145bc,#3243ba,#3045bd,#2e47c1,#2c4ac6,#2053d4,#0f5cdd,#0363e1,#026ae1,#0a73de,#117bd9,#1483d4,#108ed2,#0899d1,#06a1cc,#06a6c6,#08abc0,#10afb8,#19b2b2,#20b4ad,#27b5a8,#2fb7a3,#37b99e,#3eba9a,#45bb96,#4cbc92,#4fbc90,#53bd8f,#56bd8d,#56bd8d,#56bd8d,#53bd8e,#50bc90,#43bb97,#38b99e,#2db7a4,#24b5aa,#1ab2b1,#10afb8,#09abbf,#06a7c6,#06a2cb,#079dcf,#0a97d1,#0e91d2,#128ad3,#1485d4,#1480d6,#127cd8,#1078da,#0d75dc,#0971de,#056ee0,#0269e1,#0364e1,#0b5ede,#1359db,#1d54d5,#2450cf)"></i><i style="height:2.003px;background:linear-gradient(90deg,#2f46bf,#2f47bf,#2f47c0,#2e47c1,#2b4bc7,#264ecd,#1e53d5,#0c5dde,#0265e1,#036ae1,#0870df,#1079da,#1481d6,#128ad3,#0b95d2,#069ece,#06a5c8,#07a9c2,#0dadbb,#17b1b3,#21b4ac,#29b6a7,#32b8a1,#3cba9c,#45bb96,#4dbc92,#55bd8d,#5ebe89,#61be88,#63be87,#65be85,#66be85,#67be85,#68be84,#68be84,#5abd8b,#4dbc92,#40ba99,#35b8a0,#2ab6a6,#1db3af,#12afb7,#09acbe,#06a7c5,#06a3ca,#069ece,#0899d1,#0d93d2,#118cd2,#1486d4,#1481d5,#137dd8,#117ada,#0d76dc,#0972de,#056de0,#0269e1,#0364e1,#0760e0,#0e5cde,#1857d9)"></i><i style="height:2.003px;background:linear-gradient(90deg,#2f46bf,#2e48c2,#2c49c5,#2a4cc9,#2251d1,#1957d8,#0d5dde,#0265e1,#036be0,#0870df,#0e76dc,#137ed7,#1486d3,#0f90d2,#089ad0,#06a2cb,#06a8c4,#0aacbd,#13b0b6,#1fb3ad,#2ab6a6,#33b8a0,#3dba9b,#47bb95,#51bc90,#5abd8b,#62be87,#6bbe83,#6dbf82,#6ebf81,#70bf81,#76bf7e,#7cbf7b,#82bf79,#87bf77,#7bbf7c,#70bf81,#63be86,#57bd8c,#4abc93,#38b99e,#28b6a7,#1ab2b1,#0faeb9,#08aac1,#06a6c6,#06a2cb,#079dcf,#0a97d1,#0f90d2,#138ad3,#1485d4,#1480d6,#127cd8,#0f78db,#0b74dd,#076fdf,#036be0,#0268e1,#0265e1,#0661e0)"></i><i style="height:2.003px;background:linear-gradient(90deg,#2f46bf,#2d49c4,#294cca,#2350d0,#1758d9,#0b5edf,#0364e1,#036be0,#0871de,#0d76dc,#127cd9,#1483d4,#118dd2,#0a97d1,#069fce,#06a6c7,#08abc0,#10afb8,#1bb2b0,#28b6a8,#35b8a0,#3eba9a,#49bb94,#54bd8e,#5ebe89,#66be85,#6fbf81,#78bf7d,#79bf7d,#7abf7d,#7bbf7c,#86bf78,#90bf73,#9abf6f,#a2be6c,#99bf70,#90bf73,#86bf77,#7cbf7b,#70bf80,#5abd8b,#45bb96,#32b8a1,#22b4ac,#14b0b5,#0cadbc,#07a9c2,#06a5c8,#06a0cd,#089ad0,#0c94d2,#118ed2,#1388d3,#1483d5,#137ed7,#117ada,#0d75dc,#0971de,#066edf,#036be0,#0268e1)"></i><i style="height:2.003px;background:linear-gradient(90deg,#2f46bf,#2b4bc7,#2450cf,#1b55d7,#0b5ede,#0364e1,#036ae1,#0870df,#0d76dc,#117bd9,#1481d6,#1389d3,#0c93d2,#079cd0,#06a3ca,#07a9c3,#0daebb,#17b1b3,#24b5aa,#32b8a1,#40ba99,#4abc93,#55bd8d,#60be88,#6bbe83,#73bf7f,#7cbf7c,#84bf78,#84bf78,#84bf78,#85bf78,#94bf72,#a2be6c,#afbe67,#babd62,#b3bd65,#acbe68,#a5be6b,#9dbe6e,#94bf72,#7fbf7a,#67be85,#50bc90,#3ab99c,#28b6a8,#1bb2b0,#10afb8,#09abbf,#06a7c6,#06a2cb,#079dcf,#0a97d1,#0e91d2,#128bd3,#1485d4,#1480d6,#117bd9,#0e77db,#0c74dd,#0871de,#056ee0)"></i><i style="height:2.003px;background:linear-gradient(90deg,#2f46bf,#2b4bc8,#2351d1,#1857d9,#0860df,#0266e1,#046ce0,#0972de,#0f77db,#137dd8,#1483d5,#128cd2,#0b95d1,#079ecf,#06a5c9,#07aac1,#0faeb9,#1ab2b1,#27b5a8,#36b89f,#43bb97,#4ebc91,#59bd8b,#65be86,#6fbf81,#78bf7d,#80bf7a,#88bf77,#88bf76,#89bf76,#8abf76,#9cbf6e,#adbe68,#bcbd62,#cabb5c,#c4bc5f,#bebc61,#b8bd63,#b2bd66,#aabe69,#97bf71,#81bf79,#6abe83,#52bd8f,#3cba9b,#2bb6a5,#1db3af,#11afb7,#09abbf,#06a7c6,#06a2cc,#079dcf,#0a97d1,#0e91d2,#128ad3,#1484d4,#137fd7,#117bd9,#0f77db,#0c74dd,#0871de)"></i><i style="height:2.003px;background:linear-gradient(90deg,#2f46bf,#2b4bc8,#2351d1,#1857d9,#0860df,#0266e1,#046ce0,#0972de,#0f77db,#137dd8,#1483d5,#128cd2,#0b95d1,#079ecf,#06a5c9,#07aac1,#0faeb9,#1ab2b1,#27b5a8,#36b89f,#43bb97,#4ebc91,#59bd8b,#65be86,#6fbf81,#78bf7d,#80bf7a,#88bf77,#8abf76,#8bbf75,#8ebf74,#a1be6c,#b4bd65,#c5bc5e,#d4bb58,#d0bb5a,#cbbb5c,#c6bc5d,#c2bc5f,#bbbd62,#a9be69,#95bf71,#80bf7a,#68be84,#50bc90,#3cba9b,#2ab6a6,#1bb2b0,#0eaeba,#07aac1,#06a5c8,#06a1cd,#079bd0,#0b95d1,#108fd2,#1388d3,#1482d5,#137dd7,#117ad9,#0e76db,#0b73dd)"></i><i style="height:2.003px;background:linear-gradient(90deg,#2f46bf,#2b4bc8,#2351d1,#1857d9,#0860df,#0266e1,#046ce0,#0972de,#0f77db,#137dd8,#1483d5,#128cd2,#0b95d1,#079ecf,#06a5c9,#07aac1,#0faeb9,#1ab2b1,#27b5a8,#36b89f,#43bb97,#4ebc91,#59bd8b,#65be86,#6fbf81,#78bf7d,#80bf7a,#88bf77,#8bbf75,#8ebf74,#91bf73,#a7be6a,#bbbd62,#cebb5a,#deba53,#dbba55,#d8ba56,#d4bb58,#d1bb59,#cbbb5b,#babd63,#a7be6a,#94bf72,#7ebf7b,#66be85,#4ebc91,#39b99d,#26b5a9,#16b1b4,#0badbc,#06a8c4,#06a4c9,#069fce,#089ad0,#0c94d2,#118dd2,#1486d4,#1480d6,#127cd8,#1079da,#0d75dc)"></i><i style="height:2.003px;background:linear-gradient(90deg,#2f46bf,#2b4bc8,#2351d1,#1857d9,#0860df,#0266e1,#046ce0,#0972de,#0f77db,#137dd8,#1483d5,#128cd2,#0b95d1,#079ecf,#06a5c9,#07aac1,#0faeb9,#1ab2b1,#27b5a8,#36b89f,#43bb97,#4ebc91,#5abd8b,#65be86,#6fbf81,#78bf7d,#80bf7a,#88bf77,#8cbf75,#90bf73,#94bf71,#acbe68,#c2bc5f,#d6ba57,#e9b94e,#e6b94f,#e4b951,#e2b952,#dfba53,#dbba55,#cabb5c,#b8bd63,#a6be6a,#92bf72,#7cbf7b,#63be87,#49bc94,#32b8a1,#20b4ad,#12afb7,#09abbf,#06a7c6,#06a2cb,#079ecf,#0998d1,#0e91d2,#1389d3,#1483d4,#137fd7,#117bd9,#0e77db)"></i><i style="height:2.003px;background:linear-gradient(90deg,#2f46bf,#2b4bc8,#2351d1,#1857d9,#0860df,#0266e1,#046ce0,#0972de,#0f77db,#137dd8,#1483d5,#128cd2,#0b95d1,#079ecf,#06a5c9,#07aac1,#0faeb9,#1ab2b1,#27b5a8,#36b89f,#44bb97,#4ebc91,#5abd8b,#66be85,#71bf80,#79bf7d,#82bf79,#89bf76,#8ebf74,#92bf72,#97bf70,#afbe67,#c5bc5e,#dbba55,#edb94c,#ecb94c,#eab94d,#e9b94e,#e7b94f,#e4b951,#d5ba57,#c5bc5e,#b5bd64,#a4be6b,#91bf73,#78bf7d,#5dbe8a,#42bb98,#2cb6a5,#1ab2b1,#0daebb,#07a9c2,#06a5c9,#06a0cd,#079bd0,#0c94d2,#128cd2,#1485d4,#1480d6,#127cd8,#0f78db)"></i><i style="height:2.003px;background:linear-gradient(90deg,#2f46bf,#2b4bc8,#2351d1,#1857d9,#0860df,#0266e1,#046ce0,#0972de,#0f77db,#137dd8,#1483d5,#128cd2,#0b95d1,#079ecf,#06a5c9,#07aac1,#0faeb9,#1ab2b1,#27b5a8,#36b89f,#44bb97,#4fbc91,#5bbd8b,#68be84,#73bf7f,#7dbf7b,#85bf78,#8cbf75,#90bf73,#95bf71,#9abf6f,#b2bd66,#c8bc5d,#ddba54,#f0b94a,#efb94b,#eeb94b,#edb94c,#edb94c,#eab94d,#deba54,#d0bb59,#c3bc5f,#b5bd65,#a4be6b,#8cbf75,#71bf80,#54bd8e,#39b99d,#24b5aa,#13b0b6,#09abbf,#06a6c6,#06a2cb,#079dcf,#0b95d1,#118dd2,#1486d3,#1481d5,#127dd8,#0f78db)"></i><i style="height:2.003px;background:linear-gradient(90deg,#2f46bf,#2b4bc8,#2351d1,#1857d9,#0860df,#0266e1,#046ce0,#0972de,#0f77db,#137dd8,#1483d5,#128cd2,#0b95d1,#079ecf,#06a5c9,#07aac1,#0faeb9,#1ab2b1,#27b5a8,#36b99f,#44bb97,#4fbc91,#5cbe8a,#6bbe83,#78bf7d,#83bf78,#8bbf75,#90bf73,#94bf72,#97bf70,#9dbf6e,#b4bd65,#cabb5c,#dfba53,#f2b949,#f2b949,#f2b949,#f2b949,#f2b949,#f1b94a,#e6b950,#dbba55,#d0bb5a,#c4bc5e,#b7bd64,#9fbe6d,#85bf78,#67be85,#49bc94,#2eb7a4,#1ab2b1,#0cadbb,#06a8c4,#06a4ca,#069ece,#0a97d1,#108fd2,#1487d3,#1482d5,#137dd8,#1079da)"></i><i style="height:2.003px;background:linear-gradient(90deg,#2f46bf,#2b4bc8,#2351d1,#1857d9,#0860df,#0266e1,#046ce0,#0972de,#0f77db,#137dd8,#1483d5,#128cd2,#0b95d1,#079ecf,#06a5c9,#07aac1,#0faeb9,#1ab2b1,#27b5a8,#36b99f,#44bb97,#50bc90,#5ebe89,#6ebf82,#7dbf7b,#89bf76,#91bf73,#95bf71,#97bf70,#9abf6f,#a0be6d,#b6bd64,#ccbb5b,#e1ba52,#f3ba48,#f4ba47,#f5ba46,#f6ba46,#f7ba45,#f7ba45,#eeb94b,#e5b950,#ddba54,#d4bb58,#c8bc5d,#b0bd66,#97bf70,#7abf7c,#5abd8b,#3ab99c,#21b4ac,#11afb8,#07aac1,#06a5c8,#06a0cd,#0899d1,#0f90d2,#1388d3,#1483d5,#137ed7,#1079da)"></i><i style="height:2.003px;background:linear-gradient(90deg,#2f46bf,#2b4bc8,#2351d1,#1857d9,#0860df,#0266e1,#046ce0,#0972de,#0f77db,#137dd8,#1483d5,#128cd2,#0b95d1,#079ecf,#06a5c9,#07aac1,#0faeb9,#1ab2b1,#27b5a8,#36b99f,#44bb97,#50bc90,#5ebe89,#6fbf81,#7fbf7a,#8bbf75,#93bf72,#96bf71,#99bf70,#9cbf6e,#a2be6c,#b9bd63,#cebb5a,#e3b951,#f5ba46,#f7ba45,#f9bb44,#fabb42,#fbbc41,#fbbd40,#f6ba46,#f0b94a,#e9b94e,#e2b951,#d8ba56,#c1bc60,#a7be6a,#8cbf75,#6bbf83,#47bb95,#29b6a7,#16b1b4,#09abbf,#06a7c6,#06a1cc,#089ad0,#0e92d2,#138ad3,#1484d4,#137fd7,#107ada)"></i><i style="height:2.003px;background:linear-gradient(90deg,#2f46bf,#2b4bc8,#2351d1,#1857d9,#0860df,#0266e1,#046ce0,#0972de,#0f77db,#137dd8,#1483d5,#128cd2,#0b95d1,#079ecf,#06a5c9,#07aac1,#0faeb9,#1ab2b1,#27b5a8,#36b99f,#44bb97,#4fbc90,#5dbe89,#6dbf82,#7cbf7b,#88bf77,#8fbf73,#94bf72,#98bf70,#9dbf6e,#a3be6b,#babd63,#cfbb5a,#e4b951,#f6ba46,#f8ba44,#fabb42,#fbbc41,#fcbd3f,#fdbe3e,#fabb42,#f5ba47,#f0b94a,#eab94d,#e1b952,#cbbb5c,#b2bd65,#98bf70,#7abf7d,#53bd8f,#31b8a2,#1bb2b0,#0cadbc,#06a8c4,#06a3cb,#079cd0,#0c93d2,#128bd2,#1485d4,#137fd6,#117ad9)"></i><i style="height:2.003px;background:linear-gradient(90deg,#2f46bf,#2b4bc8,#2351d1,#1857d9,#0860df,#0266e1,#046ce0,#0972de,#0f77db,#137dd8,#1483d5,#128cd2,#0b95d1,#079ecf,#06a5c9,#07aac1,#0faeb9,#1ab2b1,#27b5a8,#36b99f,#44bb97,#4fbc91,#5cbe8a,#6abe84,#77bf7e,#81bf79,#89bf76,#8fbf74,#95bf71,#9cbf6e,#a4be6b,#babd62,#d0bb5a,#e4b951,#f6ba46,#f8bb44,#fabc42,#fbbd40,#fdbe3e,#febf3d,#fbbc40,#f8ba44,#f3ba48,#efb94b,#e7b94f,#d1bb59,#bbbd62,#a3be6c,#86bf77,#5ebe89,#39b99d,#21b4ac,#0faeb9,#07a9c2,#06a4c9,#079dcf,#0b95d2,#118dd2,#1486d4,#1481d6,#127bd9)"></i><i style="height:2.003px;background:linear-gradient(90deg,#2f46bf,#2b4bc8,#2351d1,#1857d9,#0860df,#0266e1,#046ce0,#0972de,#0f77db,#137dd8,#1483d5,#128cd2,#0b95d1,#079ecf,#06a5c9,#07aac1,#0faeb9,#1ab2b1,#27b5a8,#36b89f,#44bb97,#4fbc91,#5bbd8b,#67be85,#73bf7f,#7dbf7b,#85bf78,#8cbf75,#94bf72,#9cbf6f,#a4be6b,#bbbd62,#d0bb59,#e4b950,#f6ba46,#f9bb44,#fabc41,#fcbd3f,#febe3d,#fec03b,#fcbd3f,#fabc42,#f7ba45,#f3ba48,#edb94c,#d8ba56,#c3bc5f,#adbe68,#92bf72,#6abe84,#42bb98,#27b5a8,#13b0b6,#09abbf,#06a5c8,#069fce,#0a97d1,#108ed2,#1388d3,#1482d5,#127cd8)"></i><i style="height:2.003px;background:linear-gradient(90deg,#2f46bf,#2b4bc8,#2351d1,#1857d9,#0860df,#0266e1,#046ce0,#0972de,#0f77db,#137dd8,#1483d5,#128cd2,#0b95d1,#079ecf,#06a5c9,#07aac1,#0faeb9,#1ab2b1,#27b5a8,#36b89f,#44bb97,#4fbc91,#5bbd8b,#68be84,#74bf7f,#7dbf7b,#85bf78,#8cbf75,#94bf72,#9cbf6e,#a5be6b,#bcbd62,#d1bb59,#e5b950,#f6ba46,#f9bb44,#fbbc41,#fdbd3e,#febf3c,#fec13a,#febf3d,#fcbd3f,#fabc42,#f8ba44,#f2b949,#dfba53,#cbbb5b,#b7bd64,#9dbe6e,#75bf7f,#4bbc93,#2db7a4,#18b1b3,#0aacbd,#06a7c6,#06a0cd,#0999d1,#0f90d2,#1389d3,#1483d5,#137dd8)"></i><i style="height:2.003px;background:linear-gradient(90deg,#2f46bf,#2b4bc8,#2351d1,#1857d9,#0860df,#0266e1,#046ce0,#0972de,#0f77db,#137dd8,#1483d5,#128cd2,#0b95d1,#079ecf,#06a5c9,#07aac1,#0faeb9,#1ab2b1,#27b5a8,#36b99f,#44bb97,#4fbc91,#5cbe8a,#6abe83,#77bf7e,#82bf79,#8abf76,#8fbf74,#96bf71,#9ebe6e,#a6be6a,#bcbd61,#d2bb59,#e5b950,#f6ba46,#f9bb43,#fbbc40,#fdbe3e,#fec03b,#fec139,#fec03b,#febf3d,#fcbd3f,#fbbc41,#f7ba45,#e6b950,#d3bb58,#c0bc60,#a8be6a,#80bf7a,#54bd8e,#34b8a0,#1cb3af,#0daebb,#06a8c4,#06a2cc,#089ad0,#0e92d2,#128ad3,#1484d4,#137ed7)"></i><i style="height:2.003px;background:linear-gradient(90deg,#2f46bf,#2b4bc8,#2351d1,#1857d9,#0860df,#0266e1,#046ce0,#0972de,#0f77db,#137dd8,#1483d5,#128cd2,#0b95d1,#079ecf,#06a5c9,#07aac1,#0faeb9,#1ab2b1,#27b5a8,#36b99f,#44bb97,#50bc90,#5dbe89,#6dbf82,#7dbf7b,#88bf76,#90bf73,#94bf72,#99bf6f,#9fbe6d,#a7be6a,#bdbc61,#d3bb58,#e5b950,#f6ba46,#f9bb43,#fbbd40,#fdbe3d,#fec13a,#ffc238,#fec139,#fec13a,#fec03b,#febf3d,#fbbc40,#ecb94c,#dbba55,#c9bc5c,#b2bd66,#8abf76,#5ebe89,#3cba9b,#22b4ac,#10afb8,#07a9c3,#06a3ca,#079cd0,#0c93d2,#128cd2,#1485d4,#137fd7)"></i><i style="height:2.003px;background:linear-gradient(90deg,#2f46bf,#2b4bc8,#2351d1,#1857d9,#0860df,#0266e1,#046ce0,#0972de,#0f77db,#137dd8,#1483d5,#128cd2,#0b95d1,#079ecf,#06a5c9,#07aac1,#0faeb9,#1ab2b1,#27b5a8,#36b99f,#44bb97,#50bc90,#5ebe89,#6fbf81,#7fbf7a,#8bbf75,#93bf72,#96bf71,#9bbf6f,#a1be6d,#a8be6a,#bebc61,#d3bb58,#e6b950,#f6ba46,#f9bb43,#fcbd40,#febf3c,#fec139,#ffc337,#ffc337,#ffc238,#fec239,#fec239,#febf3c,#f3b948,#e3b951,#d2bb59,#bcbd62,#94bf72,#68be84,#44bb97,#27b5a8,#14b0b5,#08aac1,#06a4c9,#079dcf,#0b95d2,#118dd2,#1486d3,#1480d6)"></i><i style="height:2.003px;background:linear-gradient(90deg,#2f46bf,#2b4bc8,#2351d1,#1857d9,#0860df,#0266e1,#046ce0,#0972de,#0f77db,#137dd8,#1483d5,#128cd2,#0b95d1,#079ecf,#06a5c9,#07aac1,#0faeb9,#1ab2b1,#27b5a8,#36b99f,#44bb97,#50bc90,#5dbe89,#6ebf82,#7dbf7b,#89bf76,#91bf73,#95bf71,#9abf6f,#a1be6d,#a9be69,#bfbc61,#d4bb58,#e6b950,#f6ba46,#f9bb43,#fcbd3f,#febf3c,#fec239,#ffc436,#ffc436,#ffc436,#ffc436,#ffc436,#ffc238,#f8ba44,#e9b94e,#daba55,#c5bc5e,#9dbe6e,#71bf80,#4bbc93,#2cb7a5,#18b1b3,#09abbf,#06a5c8,#069ece,#0a96d1,#108fd2,#1388d3,#1481d6)"></i><i style="height:2.003px;background:linear-gradient(90deg,#2f46bf,#2b4bc8,#2351d1,#1857d9,#0860df,#0266e1,#046ce0,#0972de,#0f77db,#137dd8,#1483d5,#128cd2,#0b95d1,#079ecf,#06a5c9,#07aac1,#0faeb9,#1ab2b1,#27b5a8,#36b99f,#44bb97,#4fbc91,#5cbe8a,#6abe83,#78bf7d,#83bf79,#8bbf75,#90bf73,#97bf70,#9fbe6d,#a8be69,#bfbc61,#d4bb58,#e6b950,#f6ba46,#f9bb42,#fcbd3f,#febf3c,#fec238,#ffc536,#ffc536,#fec536,#fec536,#fec536,#ffc337,#f9bb43,#ecb94c,#deba54,#cabb5c,#a4be6b,#7abf7c,#52bd8f,#31b8a2,#1bb2b0,#0aacbd,#06a6c6,#06a0cd,#0998d1,#0f90d2,#1388d3,#1482d5)"></i><i style="height:2.003px;background:linear-gradient(90deg,#2f46bf,#2b4bc8,#2351d1,#1857d9,#0860df,#0266e1,#046ce0,#0972de,#0f77db,#137dd8,#1483d5,#128cd2,#0b95d1,#079ecf,#06a5c9,#07aac1,#0faeb9,#1ab2b1,#27b5a8,#36b89f,#44bb97,#4fbc91,#5bbd8b,#68be84,#74bf7f,#7ebf7b,#86bf77,#8cbf75,#95bf71,#9ebe6d,#a8be6a,#bebc61,#d4bb58,#e6b950,#f6ba46,#fabb42,#fcbd3f,#fec03b,#ffc238,#fec536,#fec535,#fec535,#fec535,#fec535,#ffc437,#fabc41,#efb94b,#e1b952,#cebb5a,#aabe69,#82bf79,#59bd8b,#36b99f,#1eb3ae,#0cadbb,#06a7c5,#06a1cd,#0899d1,#0e91d2,#1389d3,#1482d5)"></i><i style="height:2.003px;background:linear-gradient(90deg,#2f46bf,#2b4bc8,#2351d1,#1857d9,#0860df,#0266e1,#046ce0,#0972de,#0f77db,#137dd8,#1483d5,#128cd2,#0b95d1,#079ecf,#06a5c9,#07aac1,#0faeb9,#1ab2b1,#27b5a8,#36b89f,#44bb97,#4fbc91,#5bbd8b,#67be85,#73bf7f,#7dbf7b,#85bf78,#8bbf75,#95bf71,#9ebe6e,#a8be6a,#bebc61,#d4bb58,#e6b950,#f6ba46,#fabb42,#fcbd3f,#fec03b,#ffc338,#fec535,#fec535,#fec635,#fec635,#fec634,#ffc536,#fcbd40,#f1b949,#e5b950,#d3bb58,#b0bd67,#8abf76,#60be88,#3bb99c,#22b4ac,#0eaeba,#06a8c4,#06a2cc,#089ad0,#0d92d2,#138ad3,#1483d5)"></i><i style="height:2.003px;background:linear-gradient(90deg,#2f46bf,#2b4bc8,#2351d1,#1857d9,#0860df,#0266e1,#046ce0,#0972de,#0f77db,#137dd8,#1483d5,#128cd2,#0b95d1,#079ecf,#06a5c9,#07aac1,#0faeb9,#1ab2b1,#27b5a8,#36b99f,#44bb97,#4fbc91,#5bbe8a,#69be84,#76bf7e,#80bf7a,#88bf76,#8ebf74,#96bf71,#9fbe6d,#a8be6a,#bfbc61,#d4bb58,#e6b950,#f6ba46,#fabb42,#fdbd3e,#fec03b,#ffc337,#fec635,#fec635,#fec634,#fec634,#fec734,#fec535,#fdbe3e,#f4ba47,#e8b94f,#d7ba57,#b6bd64,#91bf73,#68be84,#40ba99,#25b5a9,#11afb8,#07a9c2,#06a3cb,#089bd0,#0d93d2,#128bd3,#1483d5)"></i><i style="height:2.003px;background:linear-gradient(90deg,#2f46bf,#2b4bc8,#2351d1,#1857d9,#0860df,#0266e1,#046ce0,#0972de,#0f77db,#137dd8,#1483d5,#128cd2,#0b95d1,#079ecf,#06a5c9,#07aac1,#0faeb9,#1ab2b1,#27b5a8,#36b99f,#44bb97,#4fbc90,#5dbe8a,#6cbf82,#7bbf7c,#87bf77,#8fbf74,#93bf72,#99bf70,#a0be6d,#a9be69,#bfbc61,#d4bb58,#e6b950,#f6ba46,#fabc42,#fdbe3e,#fec03b,#ffc337,#fec635,#fec634,#fec734,#fec734,#fec733,#fec634,#febf3c,#f6ba46,#ebb94d,#dbba55,#bbbd62,#98bf70,#6fbf81,#45bb96,#29b6a7,#13b0b6,#08aac1,#06a3ca,#079cd0,#0c94d2,#128bd2,#1484d4)"></i><i style="height:2.003px;background:linear-gradient(90deg,#2f46bf,#2b4bc8,#2351d1,#1857d9,#0860df,#0266e1,#046ce0,#0972de,#0f77db,#137dd8,#1483d5,#128cd2,#0b95d1,#079ecf,#06a5c9,#07aac1,#0faeb9,#1ab2b1,#27b5a8,#36b99f,#44bb97,#50bc90,#5ebe89,#6fbf81,#7fbf7a,#8bbf75,#93bf72,#96bf71,#9bbf6f,#a1be6c,#a9be69,#bfbc61,#d4bb58,#e6b950,#f6ba46,#fabc42,#fdbe3e,#fec03a,#ffc337,#fec634,#fec734,#fec733,#fec733,#fec833,#fec734,#fec03b,#f9bb44,#efb94b,#e0ba53,#c1bc60,#9fbe6d,#76bf7e,#4bbc93,#2db7a4,#16b1b4,#09abbf,#06a4c9,#079dcf,#0b95d2,#118cd2,#1484d4)"></i><i style="height:2.003px;background:linear-gradient(90deg,#2f46bf,#2b4bc8,#2351d1,#1857d9,#0860df,#0266e1,#046ce0,#0972de,#0f77db,#137dd8,#1483d5,#128cd2,#0b95d1,#079ecf,#06a5c9,#07aac1,#0faeb9,#1ab2b1,#27b5a8,#36b99f,#44bb97,#50bc90,#5ebe89,#6ebf82,#7ebf7b,#8abf76,#92bf73,#95bf71,#9bbf6f,#a1be6d,#a9be69,#bfbc61,#d4bb58,#e6b950,#f6ba46,#fabc42,#fdbe3e,#fec13a,#ffc437,#fec734,#fec733,#fec833,#fec833,#fec932,#fec833,#fec13a,#fabc41,#f2b949,#e4b951,#c7bc5d,#a6be6a,#7cbf7b,#50bc90,#31b8a2,#19b2b2,#0aacbe,#06a5c8,#079ecf,#0a96d1,#118dd2,#1485d4)"></i><i style="height:2.003px;background:linear-gradient(90deg,#2f46bf,#2b4bc8,#2351d1,#1857d9,#0860df,#0266e1,#046ce0,#0972de,#0f77db,#137dd8,#1483d5,#128cd2,#0b95d1,#079ecf,#06a5c9,#07aac1,#0faeb9,#1ab2b1,#27b5a8,#36b99f,#44bb97,#4fbc91,#5cbe8a,#6bbf83,#79bf7d,#84bf78,#8cbf75,#91bf73,#98bf70,#a0be6d,#a8be69,#bfbc61,#d4bb58,#e6b950,#f6ba46,#fabc42,#fdbe3e,#fec13a,#ffc436,#fec734,#fec733,#fec833,#fec932,#fec932,#fec832,#ffc238,#fcbd3f,#f5ba46,#e8b94e,#ccbb5b,#adbe68,#83bf79,#56bd8d,#35b89f,#1bb2b0,#0badbc,#06a6c7,#069fce,#0a97d1,#108ed2,#1485d4)"></i><i style="height:2.003px;background:linear-gradient(90deg,#2f46bf,#2b4bc8,#2351d1,#1857d9,#0860df,#0266e1,#046ce0,#0972de,#0f77db,#137dd8,#1483d5,#128cd2,#0b95d1,#079ecf,#06a5c9,#07aac1,#0faeb9,#1ab2b1,#27b5a8,#36b89f,#44bb97,#4fbc91,#5bbd8b,#68be84,#75bf7f,#7fbf7a,#87bf77,#8dbf75,#96bf71,#9ebe6d,#a8be6a,#bebc61,#d4bb58,#e6b950,#f6ba46,#fabc42,#fdbe3e,#fec13a,#ffc436,#fec733,#fec833,#fec932,#fec932,#fdca31,#fec932,#ffc437,#febe3d,#f9bb44,#edb94c,#d2bb59,#b3bd65,#89bf76,#5cbe8a,#3ab99d,#1fb3ae,#0dadbb,#06a7c6,#06a0cd,#0998d1,#108fd2,#1486d4)"></i><i style="height:2.003px;background:linear-gradient(90deg,#2f46bf,#2b4bc8,#2351d1,#1857d9,#0860df,#0266e1,#046ce0,#0972de,#0f77db,#137dd8,#1483d5,#128cd2,#0b95d1,#079ecf,#06a5c9,#07aac1,#0faeb9,#1ab2b1,#27b5a8,#36b89f,#44bb97,#4fbc91,#5abd8b,#67be85,#73bf7f,#7cbf7b,#84bf78,#8bbf75,#95bf71,#9ebe6e,#a8be6a,#bfbc61,#d4bb58,#e6b950,#f6ba46,#fabc42,#fdbe3d,#fec139,#fec536,#fec833,#fec832,#fec932,#fdca31,#fdca31,#fdca31,#fec536,#fec03b,#fabc41,#f0b94a,#d7ba57,#b9bd63,#8fbf74,#61be88,#3eba9a,#21b4ac,#0eaeba,#06a8c5,#06a0cd,#0899d1,#0f8fd2,#1486d3)"></i><i style="height:2.003px;background:linear-gradient(90deg,#2f46bf,#2b4bc8,#2351d1,#1857d9,#0860df,#0266e1,#046ce0,#0972de,#0f77db,#137dd8,#1483d5,#128cd2,#0b95d1,#079ecf,#06a5c9,#07aac1,#0faeb9,#1ab2b1,#27b5a8,#36b89f,#44bb97,#4fbc91,#5bbd8a,#69be84,#75bf7e,#7fbf7a,#87bf77,#8dbf74,#96bf71,#9fbe6d,#a9be69,#bfbc60,#d4bb58,#e6b94f,#f7ba45,#fbbc41,#febf3d,#fec239,#fec535,#fec832,#fec932,#fdca31,#fdca31,#fdcb30,#fdcb30,#fec635,#fec13a,#fbbc40,#f1b949,#d8ba56,#babd63,#90bf73,#62be87,#3eba9a,#21b4ac,#0eaeba,#06a8c5,#06a0cd,#0899d1,#0f8fd2,#1486d3)"></i><i style="height:2.003px;background:linear-gradient(90deg,#2f46bf,#2b4bc8,#2351d1,#1857d9,#0860df,#0266e1,#046ce0,#0972de,#0f77db,#137dd8,#1483d5,#128cd2,#0b95d1,#079ecf,#06a5c9,#07aac1,#0faeb9,#1ab2b1,#27b5a8,#36b99f,#44bb97,#4fbc91,#5dbe8a,#6cbf83,#7abf7c,#85bf78,#8dbf74,#92bf72,#99bf70,#a1be6d,#aabe69,#c0bc60,#d5ba57,#e7b94f,#f7ba45,#fbbc41,#febf3c,#ffc238,#fec635,#fec932,#fdca31,#fdca31,#fdcb30,#fdcc2f,#fdcb30,#fec634,#fec13a,#fcbd40,#f2b949,#d9ba56,#bbbd62,#91bf73,#63be86,#3fba9a,#21b4ac,#0eaeba,#06a8c5,#06a0cd,#0899d1,#0f8fd2,#1486d3)"></i><i style="height:2.003px;background:linear-gradient(90deg,#2f46bf,#2b4bc8,#2351d1,#1857d9,#0860df,#0266e1,#046ce0,#0972de,#0f77db,#137dd8,#1483d5,#128cd2,#0b95d1,#079ecf,#06a5c9,#07aac1,#0faeb9,#1ab2b1,#27b5a8,#36b99f,#44bb97,#50bc90,#5ebe89,#6ebf81,#7ebf7b,#8bbf75,#92bf72,#96bf71,#9cbf6f,#a2be6c,#abbe69,#c0bc60,#d5ba57,#e7b94f,#f8ba44,#fbbd40,#febf3c,#ffc337,#fec634,#fdca31,#fdca31,#fdcb30,#fdcc2f,#fccc2f,#fdcc2f,#fec734,#fec239,#fcbd3f,#f3ba48,#daba55,#bcbd62,#92bf72,#65be86,#3fba99,#21b4ac,#0eaeba,#06a8c5,#06a0cd,#0899d1,#0f8fd2,#1486d3)"></i><i style="height:2.003px;background:linear-gradient(90deg,#2f46bf,#2b4bc8,#2351d1,#1857d9,#0860df,#0266e1,#046ce0,#0972de,#0f77db,#137dd8,#1483d5,#128cd2,#0b95d1,#079ecf,#06a5c9,#07aac1,#0faeb9,#1ab2b1,#27b5a8,#36b99f,#44bb97,#50bc90,#5ebe89,#6ebf81,#7fbf7a,#8bbf75,#93bf72,#96bf71,#9cbf6e,#a3be6c,#abbe68,#c1bc60,#d6ba57,#e8b94f,#f8ba44,#fcbd40,#fec03b,#ffc337,#fec733,#fdca31,#fdcb30,#fdcc2f,#fccc2f,#fccd2e,#fccd2f,#fec833,#ffc238,#fdbe3e,#f4ba47,#dbba55,#bdbd61,#94bf72,#66be85,#40ba99,#21b4ac,#0eaeba,#06a8c5,#06a0cd,#0899d1,#0f8fd2,#1486d3)"></i><i style="height:2.003px;background:linear-gradient(90deg,#2f46bf,#2b4bc8,#2351d1,#1857d9,#0860df,#0266e1,#046ce0,#0972de,#0f77db,#137dd8,#1483d5,#128cd2,#0b95d1,#079ecf,#06a5c9,#07aac1,#0faeb9,#1ab2b1,#27b5a8,#36b99f,#44bb97,#4fbc90,#5dbe8a,#6cbf82,#7bbf7c,#86bf77,#8ebf74,#92bf72,#9abf6f,#a2be6c,#acbe68,#c1bc5f,#d6ba57,#e8b94e,#f9bb44,#fcbd3f,#fec03b,#ffc436,#fec833,#fdcb30,#fdcc2f,#fccc2f,#fccd2e,#fcce2e,#fccd2e,#fec832,#ffc337,#fdbe3d,#f5ba47,#dcba54,#bebc61,#95bf71,#67be85,#41ba99,#21b4ac,#0eaeba,#06a8c5,#06a0cd,#0899d1,#0f8fd2,#1486d3)"></i><i style="height:2.003px;background:linear-gradient(90deg,#2f46bf,#2b4bc8,#2351d1,#1857d9,#0860df,#0266e1,#046ce0,#0972de,#0f77db,#137dd8,#1483d5,#128cd2,#0b95d1,#079ecf,#06a5c9,#07aac1,#0faeb9,#1ab2b1,#27b5a8,#36b89f,#44bb97,#4fbc91,#5bbd8a,#69be84,#76bf7e,#80bf7a,#88bf77,#8ebf74,#97bf70,#a1be6c,#acbe68,#c2bc5f,#d7ba57,#e9b94e,#f9bb43,#fdbd3e,#fec13a,#ffc536,#fec832,#fdcc2f,#fccc2f,#fccd2e,#fcce2e,#fcce2d,#fcce2e,#fec932,#ffc437,#febf3c,#f6ba46,#ddba54,#bfbc60,#96bf71,#69be84,#41ba98,#21b4ac,#0eaeba,#06a8c5,#06a0cd,#0899d1,#0f8fd2,#1486d3)"></i><i style="height:2.003px;background:linear-gradient(90deg,#2f46bf,#2b4bc8,#2351d1,#1857d9,#0860df,#0266e1,#046ce0,#0972de,#0f77db,#137dd8,#1483d5,#128cd2,#0b95d1,#079ecf,#06a5c9,#07aac1,#0faeb9,#1ab2b1,#27b5a8,#36b89f,#44bb97,#4fbc91,#5bbd8b,#67be85,#73bf7f,#7cbf7b,#85bf78,#8bbf75,#96bf71,#a1be6c,#acbe68,#c2bc5f,#d7ba56,#e9b94e,#f9bb43,#fdbe3e,#fec139,#fec535,#fec932,#fccc2f,#fccd2e,#fcce2e,#fcce2d,#fbcf2d,#fccf2d,#fdca31,#ffc436,#fec03c,#f7ba45,#deba54,#c0bc60,#97bf70,#6abe83,#42bb98,#22b4ac,#0eaeba,#06a8c5,#06a0cd,#0899d1,#0f8fd2,#1486d3)"></i><i style="height:2.003px;background:linear-gradient(90deg,#2f46bf,#2b4bc8,#2351d1,#1857d9,#0860df,#0266e1,#046ce0,#0972de,#0f77db,#137dd8,#1483d5,#128cd2,#0b95d1,#079ecf,#06a5c9,#07aac1,#0faeb9,#1ab2b1,#27b5a8,#36b89f,#44bb97,#4fbc91,#5bbd8b,#68be84,#74bf7f,#7ebf7b,#86bf77,#8cbf75,#97bf70,#a2be6c,#adbe68,#c3bc5f,#d8ba56,#eab94e,#fabb42,#fdbe3d,#fec239,#fec635,#fdca31,#fccd2e,#fcce2e,#fcce2d,#fbcf2d,#fbd02c,#fbcf2d,#fdca31,#fec535,#fec03b,#f8ba45,#dfba53,#c1bc5f,#99bf70,#6bbf83,#43bb97,#22b4ac,#0eaeba,#06a8c5,#06a0cd,#0899d1,#0f8fd2,#1486d3)"></i><i style="height:2.003px;background:linear-gradient(90deg,#2f46bf,#2b4bc8,#2351d1,#1857d9,#0860df,#0266e1,#046ce0,#0972de,#0f77db,#137dd8,#1483d5,#128cd2,#0b95d1,#079ecf,#06a5c9,#07aac1,#0faeb9,#1ab2b1,#27b5a8,#36b99f,#44bb97,#4fbc91,#5cbe8a,#6bbe83,#79bf7d,#84bf78,#8cbf75,#91bf73,#9abf6f,#a3be6c,#aebe67,#c4bc5f,#d8ba56,#eab94d,#fabc42,#fdbe3d,#fec238,#fec634,#fdca31,#fcce2e,#fcce2d,#fbcf2d,#fbd02c,#fbd02c,#fbd02c,#fdcb30,#fec635,#fec13a,#f9bb44,#e0ba53,#c3bc5f,#9abf6f,#6dbf82,#43bb97,#22b4ac,#0eaeba,#06a8c5,#06a0cd,#0899d1,#0f8fd2,#1486d3)"></i><i style="height:2.003px;background:linear-gradient(90deg,#2f46bf,#2b4bc8,#2351d1,#1857d9,#0860df,#0266e1,#046ce0,#0972de,#0f77db,#137dd8,#1483d5,#128cd2,#0b95d1,#079ecf,#06a5c9,#07aac1,#0faeb9,#1ab2b1,#27b5a8,#36b99f,#44bb97,#50bc90,#5ebe89,#6ebf82,#7ebf7b,#8abf76,#91bf73,#95bf71,#9dbf6e,#a5be6b,#afbe67,#c4bc5e,#d9ba56,#ebb94d,#fabc42,#febf3d,#ffc338,#fec734,#fdcb30,#fcce2d,#fbcf2d,#fbd02c,#fbd02c,#fad12b,#fbd12b,#fdcc30,#fec634,#fec139,#f9bb43,#e1ba52,#c4bc5f,#9bbf6f,#6dbf82,#44bb97,#22b4ac,#0eaeba,#06a7c5,#06a0cd,#0999d1,#0f8fd2,#1486d4)"></i><i style="height:2.003px;background:linear-gradient(90deg,#2f46bf,#2b4bc8,#2351d1,#1857d9,#0860df,#0266e1,#046ce0,#0972de,#0f77db,#137dd8,#1483d5,#128cd2,#0b95d1,#079ecf,#06a5c9,#07aac1,#0faeb9,#1ab2b1,#27b5a8,#36b99f,#44bb97,#50bc90,#5ebe89,#6fbf81,#7fbf7a,#8bbf75,#93bf72,#96bf71,#9dbe6e,#a5be6b,#afbe67,#c4bc5e,#d9ba56,#ebb94d,#fabc42,#febf3c,#ffc338,#fec734,#fdcb30,#fccf2d,#fbcf2c,#fbd02c,#fad12b,#fad22a,#fad22b,#fccc2f,#fec733,#fec238,#fabc42,#e2b952,#c4bc5e,#9bbf6f,#6cbf83,#42bb98,#21b4ac,#0eaeba,#06a7c5,#06a0cd,#0998d1,#108fd2,#1486d4)"></i><i style="height:2.003px;background:linear-gradient(90deg,#2f46bf,#2b4bc8,#2351d1,#1857d9,#0860df,#0266e1,#046ce0,#0972de,#0f77db,#137dd8,#1483d5,#128cd2,#0b95d1,#079ecf,#06a5c9,#07aac1,#0faeb9,#1ab2b1,#27b5a8,#36b99f,#44bb97,#4fbc90,#5dbe8a,#6dbf82,#7cbf7c,#87bf77,#8fbf74,#93bf72,#9cbf6f,#a4be6b,#aebe67,#c4bc5e,#d9ba56,#ebb94d,#fabc42,#febf3c,#ffc338,#fec734,#fdcb30,#fbcf2d,#fbd02c,#fbd12b,#fad22b,#fad32a,#fad32a,#fccd2e,#fec832,#ffc338,#fabc41,#e3b951,#c5bc5e,#9abf6f,#6abe83,#41ba98,#1fb4ad,#0dadbb,#06a7c6,#069fce,#0997d1,#108ed2,#1485d4)"></i><i style="height:2.003px;background:linear-gradient(90deg,#2f46bf,#2b4bc8,#2351d1,#1857d9,#0860df,#0266e1,#046ce0,#0972de,#0f77db,#137dd8,#1483d5,#128cd2,#0b95d1,#079ecf,#06a5c9,#07aac1,#0faeb9,#1ab2b1,#27b5a8,#36b99f,#44bb97,#4fbc91,#5cbe8a,#69be84,#77bf7e,#81bf79,#89bf76,#8fbf74,#99bf70,#a3be6c,#aebe67,#c4bc5e,#d9ba56,#ebb94d,#fabc42,#febf3c,#ffc337,#fec733,#fdcb30,#fbcf2d,#fbd02c,#fad12b,#fad32a,#f9d429,#f9d329,#fcce2d,#fec932,#ffc437,#fbbc40,#e4b951,#c6bc5e,#9abf6f,#69be84,#3fba99,#1eb3ae,#0cadbb,#06a6c6,#069fce,#0a97d1,#118dd2,#1484d4)"></i><i style="height:2.003px;background:linear-gradient(90deg,#2f46bf,#2b4bc8,#2351d1,#1857d9,#0860df,#0266e1,#046ce0,#0972de,#0f77db,#137dd8,#1483d5,#128cd2,#0b95d1,#079ecf,#06a5c9,#07aac1,#0faeb9,#1ab2b1,#27b5a8,#36b89f,#44bb97,#4fbc91,#5bbd8b,#67be85,#73bf7f,#7dbf7b,#85bf78,#8bbf75,#97bf70,#a2be6c,#aebe67,#c4bc5e,#d9ba56,#ebb94d,#fabc42,#febf3c,#ffc337,#fec733,#fdcc2f,#fbd02c,#fbd12b,#fad22a,#f9d329,#f9d528,#f9d428,#fbcf2d,#fdca31,#ffc436,#fcbd40,#e5b950,#c7bc5d,#99bf6f,#67be85,#3eba9a,#1db3af,#0cadbc,#06a6c7,#069ece,#0a96d1,#118dd2,#1484d4)"></i><i style="height:2.003px;background:linear-gradient(90deg,#2f46bf,#2b4bc8,#2351d1,#1857d9,#0860df,#0266e1,#046ce0,#0972de,#0f77db,#137dd8,#1483d5,#128cd2,#0b95d1,#079ecf,#06a5c9,#07aac1,#0faeb9,#1ab2b1,#27b5a8,#36b89f,#44bb97,#4fbc91,#5bbd8b,#68be84,#74bf7f,#7dbf7b,#85bf78,#8cbf75,#97bf70,#a2be6c,#aebe67,#c4bc5e,#d9ba56,#ebb94d,#fabc42,#febf3c,#ffc337,#fec833,#fdcc2f,#fbd02c,#fad12b,#fad32a,#f9d429,#f8d528,#f8d528,#fbd02c,#fdcb30,#fec535,#fcbd3f,#e6b950,#c7bc5d,#99bf70,#66be85,#3dba9b,#1cb3af,#0bacbd,#06a6c7,#079ecf,#0b96d1,#118cd2,#1483d4)"></i><i style="height:2.003px;background:linear-gradient(90deg,#2f46bf,#2b4bc8,#2351d1,#1857d9,#0860df,#0266e1,#046ce0,#0972de,#0f77db,#137dd8,#1483d5,#128cd2,#0b95d1,#079ecf,#06a5c9,#07aac1,#0faeb9,#1ab2b1,#27b5a8,#36b99f,#44bb97,#4fbc91,#5cbe8a,#6abe83,#78bf7d,#82bf79,#8abf76,#90bf73,#99bf70,#a3be6c,#aebe67,#c4bc5e,#d9ba56,#ebb94d,#fabc42,#febf3c,#ffc337,#fec833,#fccc2f,#fbd02c,#fad22b,#f9d329,#f9d528,#f8d627,#f8d627,#fbd12b,#fdcb30,#fec635,#fdbe3e,#e7b94f,#c8bc5d,#99bf70,#64be86,#3cba9c,#1cb2b0,#0aacbd,#06a5c8,#079dcf,#0b95d2,#128bd2,#1483d5)"></i><i style="height:2.003px;background:linear-gradient(90deg,#2f46bf,#2b4bc8,#2351d1,#1857d9,#0860df,#0266e1,#046ce0,#0972de,#0f77db,#137dd8,#1483d5,#128cd2,#0b95d1,#079ecf,#06a5c9,#07aac1,#0faeb9,#1ab2b1,#27b5a8,#36b99f,#44bb97,#50bc90,#5dbe89,#6dbf82,#7dbf7b,#89bf76,#90bf73,#94bf72,#9cbf6e,#a4be6b,#afbe67,#c4bc5e,#d9ba56,#ebb94d,#fabc42,#febf3c,#ffc437,#fec833,#fccd2f,#fbd12b,#fad22a,#f9d429,#f8d628,#f8d726,#f8d726,#fad22b,#fccc2f,#fec734,#fdbe3d,#e8b94f,#c9bc5c,#98bf70,#63be87,#3ab99c,#1bb2b1,#0aacbe,#06a5c8,#079dcf,#0c94d2,#128bd3,#1482d5)"></i><i style="height:2.003px;background:linear-gradient(90deg,#2f46bf,#2b4bc8,#2351d1,#1857d9,#0860df,#0266e1,#046ce0,#0972de,#0f77db,#137dd8,#1483d5,#128cd2,#0b95d1,#079ecf,#06a5c9,#07aac1,#0faeb9,#1ab2b1,#27b5a8,#36b99f,#44bb97,#50bc90,#5ebe89,#6fbf81,#7fbf7a,#8bbf75,#93bf72,#96bf71,#9dbe6e,#a5be6b,#afbe67,#c4bc5e,#d9ba56,#ebb94d,#fabc42,#febf3c,#ffc437,#fec832,#fccd2e,#fad12b,#fad32a,#f9d528,#f8d627,#f7d826,#f7d825,#fad32a,#fccd2e,#fec733,#febf3c,#e9b94e,#cabb5c,#98bf70,#61be87,#39b99d,#1ab2b1,#09acbe,#06a4c9,#079ccf,#0c94d2,#128ad3,#1482d5)"></i><i style="height:2.003px;background:linear-gradient(90deg,#2f46bf,#2b4bc8,#2351d1,#1857d9,#0860df,#0266e1,#046ce0,#0972de,#0f77db,#137dd8,#1483d5,#128cd2,#0b95d1,#079ecf,#06a5c9,#07aac1,#0faeb9,#1ab2b1,#27b5a8,#36b99f,#44bb97,#50bc90,#5dbe89,#6dbf82,#7dbf7b,#89bf76,#90bf73,#94bf71,#9cbf6e,#a5be6b,#afbe67,#c4bc5e,#d9ba56,#ebb94d,#fabc42,#febf3c,#ffc437,#fec832,#fccd2e,#fad12b,#f9d329,#f9d528,#f8d726,#f7d925,#f7da25,#f9d429,#fcce2e,#fec833,#fec03b,#eab94e,#cabb5c,#98bf70,#60be88,#38b99e,#19b2b2,#09abbf,#06a4c9,#079cd0,#0d93d2,#138ad3,#1481d5)"></i><i style="height:2.003px;background:linear-gradient(90deg,#2f46bf,#2b4bc7,#2450d0,#1956d8,#0a5fdf,#0266e1,#036be0,#0971de,#0e77db,#127cd8,#1483d5,#128bd2,#0b95d2,#079ecf,#06a4c9,#07aac1,#0faeb9,#19b2b1,#26b5a9,#35b8a0,#43bb97,#4ebc91,#5bbd8b,#69be84,#77bf7e,#82bf79,#8abf76,#8fbf74,#99bf70,#a3be6c,#aebe67,#c4bc5f,#d9ba56,#eab94d,#fabc42,#febf3c,#ffc437,#fec832,#fccd2e,#fad12b,#f9d329,#f9d528,#f8d726,#f7d925,#f7da25,#f9d429,#fcce2e,#fec833,#febf3c,#e8b94f,#c7bc5d,#92bf72,#58bd8c,#32b8a2,#14b0b5,#07aac1,#06a3cb,#089ad0,#0e91d2,#1388d3,#1480d6)"></i><i style="height:2.003px;background:linear-gradient(90deg,#3045bd,#2d49c5,#274ecc,#2053d4,#0f5cdd,#0363e1,#0268e1,#066fdf,#0c75dd,#117ad9,#1480d6,#1389d3,#0d92d2,#079cd0,#06a3cb,#07a9c3,#0dadbb,#16b1b3,#23b4ab,#31b8a2,#3fba9a,#4abc94,#56bd8d,#63be86,#70bf81,#7abf7c,#82bf79,#89bf76,#95bf71,#a0be6d,#acbe68,#c2bc5f,#d7ba57,#e9b94e,#f9bb43,#fdbe3d,#ffc238,#fec734,#fdcc30,#fbd02c,#fad12b,#f9d329,#f9d528,#f8d727,#f8d727,#fbd12b,#fdcb30,#fec536,#fbbc41,#dcba54,#b5bd65,#79bf7d,#3cba9b,#1db3af,#09abbf,#06a4c9,#079cd0,#0d93d2,#128bd3,#1483d5,#137dd8)"></i><i style="height:2.003px;background:linear-gradient(90deg,#3145bc,#2e48c2,#2b4bc8,#254fcf,#1757d9,#0a5fdf,#0265e1,#046ce0,#0a72de,#0f78db,#137ed7,#1486d4,#0f90d2,#089ad1,#06a1cc,#06a7c5,#0bacbd,#14b0b5,#20b4ad,#2db7a4,#3bb99c,#46bb96,#52bd8f,#5fbe88,#6cbf83,#76bf7e,#7fbf7a,#87bf77,#93bf72,#9ebe6e,#aabe69,#c0bc60,#d5ba57,#e7b94f,#f8ba44,#fcbd3f,#fec13a,#fec635,#fdca31,#fcce2d,#fbd02c,#fad12b,#fad32a,#f9d429,#f9d429,#fcce2d,#fec832,#fec239,#f6ba46,#cfbb5a,#a1be6c,#5dbe8a,#25b5aa,#0eaeba,#06a5c8,#079ecf,#0b94d2,#128bd2,#1485d4,#137fd7,#1079da)"></i><i style="height:2.003px;background:linear-gradient(90deg,#3144bb,#2f46bf,#2d49c4,#294cc9,#1f53d4,#115bdd,#0462e1,#026ae1,#0770df,#0d76dc,#127cd8,#1484d4,#118dd2,#0997d1,#06a0cd,#06a6c7,#09abbf,#11afb7,#1cb3af,#2ab6a6,#37b99e,#42bb98,#4fbc91,#5ebe89,#6cbf83,#78bf7d,#81bf79,#88bf77,#92bf72,#9dbe6e,#a8be6a,#bfbc61,#d4bb58,#e6b950,#f6ba46,#fbbc40,#fec03b,#ffc436,#fec932,#fccd2f,#fcce2e,#fbcf2c,#fbd12b,#fad22a,#fad22b,#fdcc30,#fec535,#febf3c,#f0b94a,#c3bc5f,#8dbf75,#42bb98,#12afb7,#06a8c4,#079ecf,#0b95d2,#128cd2,#1484d4,#1380d6,#117bd9,#0e76dc)"></i><i style="height:2.003px;background:linear-gradient(90deg,#3243ba,#3045bd,#2f47c0,#2d49c4,#254fce,#1a56d7,#0b5ede,#0267e1,#056ee0,#0b73dd,#117ada,#1482d5,#128bd3,#0b95d2,#069ece,#06a5c8,#08aac0,#0faeb9,#1ab2b1,#26b5a9,#33b8a0,#3fba9a,#4dbc92,#5dbe89,#6ebf82,#7cbf7c,#85bf78,#8bbf75,#93bf72,#9cbf6e,#a7be6a,#bdbd61,#d2bb59,#e4b950,#f5ba47,#fabc42,#febf3c,#ffc337,#fec733,#fdcb30,#fccc2f,#fccd2e,#fcce2d,#fbd02c,#fbcf2d,#fec932,#ffc238,#fcbd40,#eab94d,#b6bd64,#75bf7e,#2bb6a6,#07a9c2,#06a1cd,#0c94d2,#128bd2,#1484d4,#137fd7,#117bd9,#0e77db,#0a73de)"></i><i style="height:2.003px;background:linear-gradient(90deg,#3243b8,#3244ba,#3145bc,#2f46bf,#2a4bc8,#2251d2,#1459db,#0364e1,#036be0,#0971de,#0f77db,#137fd6,#1388d3,#0d93d2,#079ccf,#06a4ca,#07a9c2,#0dadbb,#17b1b3,#23b5ab,#30b7a3,#3bba9c,#4abc93,#5cbe8a,#6ebf81,#7dbf7b,#87bf77,#8cbf75,#93bf72,#9bbf6f,#a5be6b,#bbbd62,#d1bb59,#e3b951,#f3ba48,#f9bb43,#fdbe3e,#fec239,#fec635,#fdca31,#fdca30,#fdcb30,#fccc2f,#fccd2e,#fccd2f,#fec634,#fec03b,#f9bb44,#e4b950,#a8be6a,#5dbe8a,#18b1b3,#06a2cb,#0a97d1,#1389d3,#1482d5,#137dd8,#1079da,#0d76dc,#0a72de,#076fdf)"></i><i style="height:2.003px;background:linear-gradient(90deg,#3342b7,#3242b7,#3243b8,#3243ba,#2e48c2,#284dcb,#1e54d5,#0860df,#0268e1,#066fdf,#0d75dc,#137dd8,#1486d4,#0f90d2,#089ad0,#06a3cb,#06a8c4,#0bacbd,#14b0b5,#20b4ad,#2cb7a5,#38b99e,#46bb96,#57bd8c,#6abe84,#79bf7d,#83bf79,#89bf76,#91bf73,#99bf70,#a3be6b,#babd63,#cfbb5a,#e1b952,#f2b949,#f8ba44,#fcbd3f,#fec03b,#ffc436,#fec833,#fec932,#fec931,#fdca31,#fdcb30,#fdca31,#ffc337,#fcbd3f,#f5ba47,#deba53,#9abf6f,#44bb97,#0aacbe,#0998d1,#128bd2,#1480d6,#117bd9,#0e77db,#0b73dd,#0871df,#056ee0,#036be0)"></i><i style="height:2.003px;background:linear-gradient(90deg,#3243b9,#3342b7,#3341b4,#3341b4,#3145bc,#2d49c3,#264fcd,#115adc,#0364e1,#036be0,#0972de,#117ad9,#1483d5,#118dd2,#0998d1,#06a1cc,#06a7c5,#09abbf,#11afb7,#1db3af,#29b6a7,#33b8a0,#40ba99,#50bc90,#60be88,#6ebf82,#79bf7d,#80bf7a,#89bf76,#93bf72,#9ebe6e,#b5bd64,#cbbb5c,#ddba54,#eeb94b,#f4ba48,#f9bb43,#fdbd3e,#fec13a,#ffc436,#fec536,#fec635,#fec634,#fec734,#fec634,#febf3d,#f6ba46,#ebb94d,#d0bb59,#7dbf7b,#23b4ab,#06a4ca,#118cd2,#1482d5,#117ad9,#0d76dc,#0a72de,#066fdf,#046de0,#036ae1,#0268e1)"></i><i style="height:2.003px;background:linear-gradient(90deg,#3144bc,#3342b6,#343fb1,#353eaf,#3341b5,#3145bc,#2c49c5,#1e54d5,#0b5edf,#0266e1,#056de0,#0e76dc,#137fd7,#1389d3,#0b95d2,#069fce,#06a6c7,#08aac0,#0faeb9,#1ab2b1,#25b5aa,#2fb7a3,#3bb99c,#48bb94,#56bd8d,#62be87,#6dbf82,#76bf7e,#81bf79,#8cbf75,#97bf70,#afbe67,#c5bc5e,#d8ba56,#e9b94e,#eeb94b,#f4ba48,#f9bb44,#fcbd3f,#fec03b,#fec13a,#fec13a,#fec239,#ffc338,#fec139,#f8bb44,#ecb94c,#dfba53,#bfbc60,#56bd8d,#09abbf,#0998d1,#1482d5,#127bd9,#0c75dc,#0971de,#066edf,#036be0,#0269e1,#0267e1,#0265e1)"></i><i style="height:2.003px;background:linear-gradient(90deg,#3046be,#3342b6,#353eae,#353ba9,#353eaf,#3341b4,#3145bc,#284dcb,#1857d8,#0860e0,#0269e1,#0a73de,#127cd9,#1485d4,#0e91d2,#079dcf,#06a5c9,#07a9c2,#0dadbb,#16b1b3,#21b4ac,#2bb6a6,#36b99f,#42bb98,#4ebc91,#59bd8c,#64be86,#6ebf82,#7abf7c,#85bf78,#91bf73,#a9be69,#c0bc60,#d3bb58,#e4b951,#e9b94e,#eeb94b,#f3ba48,#f8ba44,#fbbc40,#fcbd40,#fcbd3f,#fdbe3e,#fdbe3d,#fcbd3f,#f0b94a,#e1b952,#d2bb59,#aebe67,#33b8a1,#069fce,#1388d3,#1078da,#0c74dd,#076fdf,#046de0,#036ae1,#0268e1,#0266e1,#0363e1,#0661e0)"></i><i style="height:2.003px;background:linear-gradient(90deg,#3045bd,#3341b4,#353cac,#3639a6,#353caa,#343eaf,#3342b6,#2d48c3,#2350d0,#1459db,#0363e1,#066ee0,#0f77db,#1480d6,#128bd2,#0998d1,#06a1cd,#06a6c7,#08aac1,#0eaeba,#18b1b3,#20b4ad,#2ab6a6,#35b89f,#40ba99,#4bbc93,#56bd8d,#61be87,#6ebf81,#7bbf7c,#87bf77,#a0be6d,#b7bd64,#cabb5c,#dcba54,#e1b952,#e7b94f,#ecb94c,#f2b949,#f6ba46,#f7ba45,#f8ba44,#f9bb43,#fabb42,#f8ba44,#e9b94e,#d9ba56,#c8bc5d,#a0be6d,#20b4ad,#0b95d2,#1480d6,#0b73dd,#076fdf,#036be0,#0269e1,#0266e1,#0364e1,#0462e1,#0860e0,#0c5ede)"></i><i style="height:2.003px;background:linear-gradient(90deg,#3144bb,#343fb2,#353ba9,#3638a3,#363aa7,#353cab,#343fb0,#3145bc,#2b4bc7,#2152d2,#0e5cde,#0269e1,#0a72de,#117bd9,#1484d4,#0f90d2,#089ad0,#06a1cd,#06a6c7,#08aac1,#0eaeba,#15b1b4,#1eb3ae,#28b6a7,#32b8a1,#3dba9b,#47bb95,#53bd8f,#61be88,#6fbf81,#7dbf7b,#96bf71,#acbe68,#c0bc60,#d2bb59,#d8ba56,#dfba53,#e5b950,#ebb94d,#f1b94a,#f2b949,#f3b948,#f3ba48,#f4ba47,#f2b949,#e2b952,#d1bb59,#bfbc60,#94bf72,#14b0b5,#118cd2,#127bd9,#076fdf,#046ce0,#0268e1,#0265e1,#0363e1,#0761e0,#0a5fdf,#0d5dde,#115bdc)"></i><i style="height:2.003px;background:linear-gradient(90deg,#3243b8,#343eaf,#363aa7,#3637a0,#3638a3,#363aa7,#353cab,#3341b4,#3046bd,#2b4ac7,#1f53d4,#0363e1,#046de0,#0d75dc,#137fd7,#1388d3,#0d93d2,#089bd0,#06a1cc,#06a6c7,#07aac1,#0cadbb,#14b0b5,#1db3af,#26b5a9,#30b7a3,#3ab99c,#46bb96,#54bd8e,#63be87,#72bf80,#8bbf75,#a2be6c,#b6bd64,#c8bc5d,#d0bb5a,#d7ba57,#deba54,#e4b950,#eab94d,#ebb94d,#ecb94c,#edb94c,#eeb94b,#ecb94c,#daba55,#c8bc5d,#b5bd64,#87bf77,#0aacbd,#1484d4,#0e76dc,#036be0,#0268e1,#0363e1,#0761e0,#0a5fdf,#0d5dde,#105bdd,#1459db,#1857d9)"></i></div>
<div class="hm" style="left:359.80px;top:180.30px;width:12.30px;height:130.20px;background:linear-gradient(180deg,#f9fb0e,#f6f313,#f5eb18,#f5e41d,#f5de21,#f7d826,#fad32a,#fcce2e,#fec832,#ffc337,#fdbe3d,#f8bb44,#f1b94a,#e9b94e,#e1b952,#d9ba56,#d1bb59,#c8bc5d,#c0bc60,#b7bd64,#aebe67,#a5be6b,#9cbf6f,#92bf73,#87bf77,#7cbf7b,#71bf80,#65be86,#59bd8c,#4dbc92,#42bb98,#38b99e,#2eb7a4,#25b5a9,#1db3af,#15b1b4,#0faeb9,#0aacbe,#07a9c2,#06a7c6,#06a4ca,#06a0cd,#079ccf,#0998d1,#0c93d2,#108ed2,#1389d3,#1485d4,#1481d6,#127dd8,#1079da,#0d75dc,#0871de,#046de0,#0268e1,#0363e1,#0f5cdd,#2053d4,#2c4ac7,#3243ba,#353dad,#3637a0,#363093,#352a87)"></div>
<div class="hm" style="left:430.00px;top:180.30px;width:121.80px;height:130.20px"><i style="height:2.003px;background:linear-gradient(90deg,#3243ba,#3342b6,#3440b3,#343eb0,#353dac,#353baa,#353eaf,#3340b3,#3243b8,#2f47c0,#135adb,#0268e1,#0a72de,#117bd9,#1481d6,#1388d3,#0f8fd2,#0998d1,#06a0cd,#06a6c7,#09abbf,#11afb8,#1ab2b1,#24b5aa,#2cb7a5,#2eb7a3,#31b8a2,#34b8a0,#37b99f,#37b99e,#33b8a1,#30b7a3,#2db7a5,#2ab6a7,#26b5a9,#23b5ab,#21b4ac,#1db3af,#15b1b4,#0eaeba,#09abbf,#06a8c4,#06a5c8,#06a1cc,#079dcf,#0998d1,#0d93d2,#118dd2,#1487d3,#1483d5,#137ed7,#117ad9,#0e76dc,#0972de,#046de0,#0268e1,#0661e0,#1459da,#1e54d5,#2450cf,#2a4cc9)"></i><i style="height:2.003px;background:linear-gradient(90deg,#2f47bf,#3145bc,#3243b9,#3341b5,#3440b2,#343eb0,#3342b6,#3145bc,#2e48c3,#274ecc,#0661e0,#046de0,#0e76db,#137fd7,#1485d4,#118dd2,#0b95d2,#079dcf,#06a3ca,#06a9c3,#0dadbb,#17b1b3,#21b4ac,#2cb6a5,#34b8a0,#38b99e,#3bb99c,#3eba9a,#42bb98,#42bb98,#3fba99,#3cba9b,#39b99d,#36b99f,#33b8a1,#30b7a2,#2eb7a4,#2ab6a6,#21b4ac,#18b1b2,#10afb8,#0aacbe,#07a9c3,#06a6c7,#06a2cb,#079ecf,#0899d1,#0d93d2,#118dd2,#1487d3,#1483d5,#137fd7,#117ada,#0d75dc,#0770df,#036ae1,#0364e1,#0d5dde,#1857d8,#2152d3,#274dcc)"></i><i style="height:2.003px;background:linear-gradient(90deg,#2c4ac5,#2e48c2,#3046bf,#3144bb,#3243b8,#3341b5,#3045bd,#2c4ac5,#264ecd,#1b55d7,#0267e1,#0971de,#117ad9,#1483d5,#128ad3,#0d93d2,#089ad0,#06a1cd,#06a6c6,#09abbf,#12afb7,#1db3af,#28b6a7,#34b8a0,#3eba9a,#41bb98,#46bb96,#4abc94,#4ebc91,#4fbc91,#4cbc92,#49bc94,#47bb95,#44bb97,#41ba98,#3fba9a,#3cba9b,#39b99d,#2eb7a4,#23b5ab,#1ab2b1,#12afb7,#0badbc,#07aac2,#06a6c7,#06a2cb,#079ece,#0899d1,#0d92d2,#118dd2,#1388d3,#1483d5,#137ed7,#0f78db,#0a72de,#056de0,#0267e1,#0860df,#115bdc,#1c55d6,#254fce)"></i><i style="height:2.003px;background:linear-gradient(90deg,#2b4bc7,#2c49c5,#2e48c2,#2f47c0,#3046be,#3145bc,#2c4ac6,#2450cf,#1956d8,#0b5edf,#036ce0,#0d75dc,#137ed7,#1388d3,#0f90d2,#0999d1,#06a0cd,#06a5c8,#07aac1,#0faeb9,#1bb2b0,#28b6a8,#33b8a0,#40ba99,#4bbc93,#50bc90,#54bd8e,#59bd8b,#5ebe89,#60be88,#5ebe89,#5cbe8a,#5abd8b,#58bd8c,#56bd8d,#54bd8e,#52bd8f,#4fbc91,#43bb97,#37b99e,#2db7a4,#23b5ab,#1bb2b0,#13b0b6,#0cadbb,#07aac1,#06a6c7,#06a2cb,#079dcf,#0997d1,#0e91d2,#128ad3,#1483d5,#127dd8,#0e76db,#0871df,#036ae1,#0363e1,#0c5dde,#1758d9,#2251d2)"></i><i style="height:2.003px;background:linear-gradient(90deg,#2b4bc7,#2c4ac6,#2c4ac5,#2d49c5,#2d49c4,#2d49c4,#2450cf,#1757d9,#0a5fdf,#0265e1,#0870df,#1079da,#1482d5,#118dd2,#0a96d1,#069ece,#06a4c9,#07a9c2,#0eaeba,#19b2b2,#26b5a9,#35b8a0,#42bb98,#50bc90,#5cbe8a,#61be88,#66be85,#6bbe83,#70bf81,#73bf80,#72bf80,#71bf80,#70bf81,#6fbf81,#6dbf82,#6cbf82,#6bbf83,#6abe83,#5fbe89,#53bd8e,#49bb94,#3eba9a,#35b8a0,#2cb7a5,#24b5aa,#19b2b1,#0faeb9,#08abc0,#06a7c6,#06a2cc,#079bd0,#0c94d2,#128bd3,#1482d5,#117bd9,#0c74dd,#056de0,#0265e1,#0860e0,#115bdc,#1e54d5)"></i><i style="height:2.003px;background:linear-gradient(90deg,#2b4bc7,#2b4bc8,#2a4cc8,#294cc9,#294cca,#284dcb,#1a56d7,#0a5edf,#0265e1,#036be0,#0c74dd,#137dd8,#1487d3,#0d92d2,#079bd0,#06a3cb,#06a8c3,#0dadbb,#17b1b3,#24b5aa,#33b8a1,#43bb97,#51bd8f,#61be88,#6cbf82,#72bf80,#77bf7e,#7cbf7b,#81bf79,#84bf78,#84bf78,#84bf78,#84bf78,#84bf78,#84bf78,#84bf78,#84bf78,#84bf78,#7bbf7c,#72bf80,#68be84,#5fbe89,#55bd8d,#4cbc92,#43bb97,#35b89f,#26b5a9,#19b2b2,#0eaeba,#07a9c2,#06a4ca,#079dcf,#0d93d2,#1388d3,#137fd6,#0f78db,#0870df,#0268e1,#0363e1,#0d5dde,#1956d8)"></i><i style="height:2.003px;background:linear-gradient(90deg,#2b4bc7,#294cc9,#274dcb,#254fcd,#2450d0,#2152d3,#0e5cde,#0364e1,#036ae1,#0770df,#1079da,#1481d5,#128cd2,#0a97d1,#06a0cd,#06a7c6,#0aacbd,#16b1b4,#23b4ab,#31b8a2,#42bb98,#53bd8f,#62be87,#71bf80,#7dbf7b,#82bf79,#87bf77,#8dbf75,#92bf73,#95bf71,#96bf71,#96bf71,#97bf70,#98bf70,#99bf70,#9abf6f,#9abf6f,#9bbf6f,#94bf71,#8ebf74,#87bf77,#80bf7a,#79bf7d,#72bf80,#6abe83,#59bd8b,#45bb96,#32b8a1,#22b4ab,#12b0b7,#07aac1,#06a3ca,#089bd0,#0f8fd2,#1484d4,#127bd9,#0b73dd,#036ae1,#0265e1,#0960df,#1459da)"></i><i style="height:2.003px;background:linear-gradient(90deg,#2b4bc7,#284dcb,#254fce,#2251d2,#1e54d5,#1957d8,#0661e0,#0268e1,#056ee0,#0b74dd,#127cd8,#1485d4,#0f90d2,#079bd0,#06a3ca,#07aac1,#12afb7,#21b4ac,#2fb7a3,#3fba99,#52bd8f,#64be86,#73bf7f,#82bf79,#8dbf75,#92bf72,#97bf70,#9cbf6e,#a1be6c,#a4be6b,#a6be6b,#a7be6a,#a8be69,#aabe69,#abbe68,#acbe68,#aebe67,#afbe67,#aabe69,#a6be6b,#a1be6c,#9cbf6e,#97bf70,#92bf72,#8dbf74,#7dbf7b,#67be85,#50bc90,#3bb99c,#24b5aa,#11afb8,#06a9c3,#06a1cd,#0b96d1,#1389d3,#137fd7,#0d76dc,#046ce0,#0267e1,#0562e0,#105bdd)"></i><i style="height:2.003px;background:linear-gradient(90deg,#2b4bc7,#274dcb,#2450cf,#2052d3,#1b55d6,#1559da,#0363e1,#026ae1,#0770df,#0d76dc,#137ed7,#1387d3,#0d93d2,#079dcf,#06a5c8,#09abbe,#17b1b3,#28b6a7,#39b99d,#4cbc92,#61be88,#75bf7f,#85bf78,#94bf72,#9fbe6d,#a3be6c,#a8be6a,#acbe68,#b0bd66,#b3bd65,#b4bd65,#b6bd64,#b7bd64,#b8bd63,#b9bd63,#bbbd62,#bcbd62,#bdbd61,#b9bd63,#b5bd64,#b2bd66,#aebe67,#aabe69,#a5be6b,#a1be6c,#92bf72,#7dbf7b,#65be86,#4cbc92,#31b8a2,#19b2b2,#09abbf,#06a3ca,#0899d1,#128bd2,#1480d6,#0e77db,#046de0,#0268e1,#0363e1,#0e5cde)"></i><i style="height:2.003px;background:linear-gradient(90deg,#2b4bc7,#274ecc,#2351d1,#1e54d5,#1857d8,#115bdc,#0364e1,#036be0,#0971de,#0f77db,#1480d6,#138ad3,#0b95d2,#069fce,#06a7c6,#0cadbb,#1cb3af,#30b7a3,#43bb97,#59bd8b,#70bf81,#84bf78,#95bf71,#a5be6b,#b0bd67,#b3bd65,#b7bd64,#bbbd62,#bebc61,#c1bc60,#c2bc5f,#c3bc5f,#c5bc5e,#c6bc5e,#c7bc5d,#c9bc5d,#cabb5c,#cbbb5c,#c8bc5d,#c4bc5e,#c1bc60,#bebc61,#bbbd62,#b7bd63,#b4bd65,#a6be6b,#91bf73,#79bf7d,#60be88,#3fba99,#23b4ab,#0dadbb,#06a6c7,#079cd0,#118ed2,#1482d5,#0f78db,#056ee0,#0269e1,#0364e1,#0d5dde)"></i><i style="height:2.003px;background:linear-gradient(90deg,#2b4bc7,#264ecc,#2251d2,#1c55d6,#1559da,#0d5dde,#0266e1,#046de0,#0b73dd,#1079da,#1482d5,#128cd2,#0997d1,#06a1cd,#06a8c4,#10afb8,#22b4ab,#38b99e,#4ebc91,#67be85,#7fbf7a,#93bf72,#a5be6b,#b5bd65,#c0bc60,#c3bc5f,#c6bc5e,#c9bc5c,#ccbb5b,#cebb5a,#d0bb5a,#d1bb59,#d2bb59,#d3bb58,#d5ba58,#d6ba57,#d7ba56,#d8ba56,#d6ba57,#d3bb58,#d0bb59,#cebb5a,#cbbb5c,#c8bc5d,#c6bc5e,#b8bd63,#a3be6c,#8cbf75,#73bf7f,#4fbc90,#2db7a4,#13b0b6,#06a8c4,#069ece,#0f90d2,#1483d4,#1079da,#066fdf,#026ae1,#0364e1,#0c5ede)"></i><i style="height:2.003px;background:linear-gradient(90deg,#2b4bc7,#264ecd,#2152d3,#1956d7,#125adc,#0b5edf,#0268e1,#066edf,#0c75dc,#117bd9,#1484d4,#108ed2,#0899d1,#06a2cb,#07aac1,#14b0b5,#28b6a7,#41ba99,#5abd8b,#74bf7f,#8cbf75,#a1be6c,#b3bd65,#c4bc5f,#cfbb5a,#d2bb59,#d4bb58,#d7ba57,#daba55,#dcba54,#ddba54,#deba53,#dfba53,#e0ba52,#e2b952,#e3b951,#e4b951,#e5b950,#e3b951,#e1b952,#dfba53,#ddba54,#dbba55,#d9ba56,#d7ba57,#c9bc5c,#b4bd65,#9ebe6e,#85bf78,#60be88,#39b99d,#1ab2b1,#08aac1,#06a1cd,#0d93d2,#1485d4,#117bd9,#0770df,#036be1,#0265e1,#0a5fdf)"></i><i style="height:2.003px;background:linear-gradient(90deg,#2b4bc7,#254fce,#1f53d4,#1757d9,#0f5cde,#0860e0,#0269e1,#0770df,#0e76dc,#127dd8,#1486d4,#0e91d2,#079bd0,#06a4ca,#09abbf,#19b2b2,#2fb7a3,#4abc93,#66be85,#81bf7a,#99bf70,#afbe67,#c1bc60,#d2bb59,#deba53,#e0ba52,#e2b951,#e5b950,#e7b94f,#e9b94e,#eab94e,#ebb94d,#ecb94c,#edb94c,#eeb94b,#f0b94a,#f1b94a,#f2b949,#f0b94a,#efb94b,#edb94c,#ecb94d,#eab94d,#e9b94e,#e7b94f,#d9ba56,#c4bc5e,#aebe67,#96bf71,#71bf80,#45bb96,#21b4ac,#0aacbd,#06a3cb,#0b95d2,#1487d3,#127cd8,#0971de,#036be0,#0266e1,#095fdf)"></i><i style="height:2.003px;background:linear-gradient(90deg,#2b4bc7,#254fce,#1f53d4,#1658d9,#0e5cde,#0761e0,#0269e1,#0870df,#0e77db,#137dd8,#1486d3,#0e91d2,#079cd0,#06a4c9,#0aacbe,#1ab2b1,#31b8a2,#4dbc92,#69be84,#85bf78,#9dbe6e,#b3bd65,#c5bc5e,#d7ba57,#e3b951,#e5b950,#e8b94f,#eab94d,#edb94c,#efb94b,#f0b94a,#f1b94a,#f2b949,#f3b948,#f4ba47,#f5ba47,#f6ba46,#f7ba45,#f6ba46,#f4ba47,#f3ba48,#f2b949,#f1b94a,#f0b94a,#efb94b,#e0ba52,#cbbb5b,#b5bd64,#9dbe6e,#78bf7d,#4bbc93,#25b5aa,#0cadbc,#06a4ca,#0a96d1,#1388d3,#127cd8,#0972de,#046ce0,#0267e1,#0860e0)"></i><i style="height:2.003px;background:linear-gradient(90deg,#2b4bc7,#254fce,#1f53d4,#1658d9,#0e5cde,#0761e0,#0269e1,#0870df,#0e77db,#137dd8,#1486d3,#0e91d2,#079cd0,#06a4c9,#0aacbe,#1ab2b1,#31b8a2,#4dbc92,#69be84,#85bf78,#9dbe6e,#b3bd65,#c5bc5e,#d7ba57,#e3b951,#e6b94f,#e9b94e,#ecb94c,#efb94b,#f1b949,#f2b949,#f3ba48,#f4ba47,#f5ba47,#f6ba46,#f6ba45,#f7ba45,#f8ba44,#f7ba45,#f6ba46,#f5ba46,#f4ba47,#f3ba48,#f2b949,#f1b949,#e3b951,#cebb5b,#b7bd64,#9fbe6d,#7abf7c,#4cbc92,#25b5a9,#0cadbb,#06a4ca,#0a96d1,#1388d3,#127dd8,#0972de,#046ce0,#0267e1,#0661e0)"></i><i style="height:2.003px;background:linear-gradient(90deg,#2b4bc7,#254fce,#1f53d4,#1658d9,#0e5cde,#0761e0,#0269e1,#0870df,#0e77db,#137dd8,#1486d3,#0e91d2,#079cd0,#06a4c9,#0aacbe,#1ab2b1,#31b8a2,#4dbc92,#69be84,#85bf78,#9dbe6e,#b3bd65,#c5bc5e,#d7ba57,#e3b951,#e7b94f,#ebb94d,#eeb94b,#f2b949,#f4ba47,#f5ba47,#f5ba46,#f6ba46,#f7ba45,#f7ba45,#f8ba44,#f9bb44,#f9bb43,#f8bb44,#f8ba44,#f7ba45,#f6ba46,#f5ba46,#f5ba47,#f4ba47,#e6b950,#d0bb5a,#b9bd63,#a1be6d,#7cbf7c,#4ebc91,#26b5a9,#0dadbb,#06a4ca,#0a96d1,#1388d3,#127dd8,#0a72de,#046de0,#0268e1,#0561e0)"></i><i style="height:2.003px;background:linear-gradient(90deg,#2b4bc7,#254fce,#1f53d4,#1658d9,#0e5cde,#0761e0,#0269e1,#0870df,#0e77db,#137dd8,#1486d3,#0e91d2,#079cd0,#06a4c9,#0aacbe,#1ab2b1,#31b8a2,#4dbc92,#69be84,#85bf78,#9dbe6e,#b3bd65,#c5bc5e,#d7ba57,#e4b951,#e8b94f,#ecb94c,#f0b94a,#f4ba47,#f7ba45,#f7ba45,#f8ba45,#f8ba44,#f9bb44,#f9bb43,#f9bb43,#fabb42,#fabc42,#fabb42,#f9bb43,#f9bb43,#f8ba44,#f8ba44,#f7ba45,#f7ba45,#e8b94e,#d2bb59,#bbbd62,#a3be6c,#7ebf7b,#4fbc91,#27b5a8,#0dadbb,#06a4c9,#0a96d1,#1388d3,#137dd8,#0a73de,#056de0,#0268e1,#0462e1)"></i><i style="height:2.003px;background:linear-gradient(90deg,#2b4bc7,#254fce,#1f53d4,#1658d9,#0e5cde,#0761e0,#0269e1,#0870df,#0e77db,#137dd8,#1486d3,#0e91d2,#079cd0,#06a4c9,#0aacbe,#1ab2b1,#31b8a2,#4dbc92,#69be84,#85bf78,#9dbe6e,#b3bd65,#c5bc5e,#d7ba56,#e4b950,#e9b94e,#eeb94b,#f2b949,#f6ba45,#f9bb43,#f9bb43,#f9bb43,#fabb42,#fabc42,#fabc42,#fabc41,#fbbc41,#fbbc41,#fbbc41,#fabc41,#fabc42,#fabb42,#f9bb43,#f9bb43,#f9bb43,#ebb94d,#d5bb58,#bdbd61,#a4be6b,#7fbf7a,#51bc90,#28b6a8,#0daebb,#06a4c9,#0a96d1,#1388d3,#137dd8,#0b73dd,#056ee0,#0269e1,#0363e1)"></i><i style="height:2.003px;background:linear-gradient(90deg,#2b4bc7,#254fce,#1f53d4,#1658d9,#0e5cde,#0761e0,#0269e1,#0870df,#0e77db,#137dd8,#1486d3,#0e91d2,#079cd0,#06a4c9,#0aacbe,#1ab2b1,#31b8a2,#4dbc92,#69be84,#85bf78,#9dbe6e,#b3bd65,#c6bc5e,#d8ba56,#e6b94f,#ecb94c,#f1b94a,#f5ba47,#f9bb43,#fbbc41,#fbbc41,#fbbc41,#fbbc40,#fbbd40,#fbbd40,#fcbd40,#fcbd40,#fcbd3f,#fcbd40,#fbbd40,#fbbd40,#fbbc40,#fbbc40,#fbbc41,#fbbc41,#eeb94c,#d7ba57,#bfbc60,#a6be6a,#81bf79,#52bd8f,#29b6a7,#0eaeba,#06a4c9,#0a96d1,#1388d3,#137dd8,#0b73dd,#056ee0,#0269e1,#0363e1)"></i><i style="height:2.003px;background:linear-gradient(90deg,#2b4bc7,#254fce,#1f53d4,#1658d9,#0e5cde,#0761e0,#0269e1,#0870df,#0e77db,#137dd8,#1486d3,#0e91d2,#079cd0,#06a4c9,#0aacbe,#1ab2b1,#31b8a2,#4dbc92,#69be84,#85bf78,#9dbe6e,#b3bd65,#c7bc5d,#dcba54,#edb94c,#f5ba47,#f8ba44,#f9bb43,#fbbc40,#fdbe3e,#fcbd3e,#fdbd3e,#fdbd3e,#fdbe3e,#fdbe3e,#fdbe3e,#fdbe3e,#fdbe3e,#fdbe3e,#fdbe3e,#fdbe3e,#fdbd3e,#fdbd3e,#fcbd3f,#fcbd3f,#f0b94a,#d9ba56,#c1bc5f,#a8be6a,#83bf79,#54bd8e,#2ab6a7,#0eaeba,#06a4c9,#0a96d1,#1388d3,#137ed7,#0b74dd,#066edf,#0269e1,#0364e1)"></i><i style="height:2.003px;background:linear-gradient(90deg,#2b4bc7,#254fce,#1f53d4,#1658d9,#0e5cde,#0761e0,#0269e1,#0870df,#0e77db,#137dd8,#1486d3,#0e91d2,#079cd0,#06a4c9,#0aacbe,#1ab2b1,#31b8a2,#4dbc92,#69be84,#85bf78,#9dbe6e,#b4bd65,#c9bc5c,#e1b952,#f7ba45,#fdbe3d,#fdbe3d,#fcbd3f,#fcbd3e,#fdbe3d,#fdbe3d,#fdbe3d,#fdbe3d,#fdbe3d,#fdbe3d,#fdbe3d,#fdbe3d,#fdbe3d,#fdbe3d,#fdbe3d,#fdbe3d,#fdbe3d,#fdbe3d,#fdbe3d,#fdbe3e,#f1b949,#daba55,#c2bc5f,#a9be69,#83bf78,#54bd8e,#2ab6a6,#0eaeba,#06a4c9,#0a96d1,#1388d3,#137ed7,#0b74dd,#066edf,#026ae1,#0364e1)"></i><i style="height:2.003px;background:linear-gradient(90deg,#2b4bc7,#254fce,#1f53d4,#1658d9,#0e5cde,#0761e0,#0269e1,#0870df,#0e77db,#137dd8,#1486d3,#0e91d2,#079cd0,#06a4c9,#0aacbe,#1ab2b1,#31b8a2,#4dbc92,#69be84,#85bf78,#9dbe6e,#b4bd65,#c9bc5c,#e2b952,#f8ba44,#febf3c,#febf3c,#fdbe3e,#fdbe3e,#febf3d,#fdbe3d,#fdbe3d,#febe3d,#febf3d,#febf3d,#febf3d,#febf3d,#febf3c,#febf3d,#febf3d,#febf3d,#febe3d,#fdbe3d,#fdbe3d,#fdbe3d,#f2b949,#daba55,#c2bc5f,#a9be69,#83bf78,#54bd8e,#2ab6a6,#0eaeba,#06a4c9,#0a96d1,#1388d3,#137ed7,#0b74dd,#066edf,#026ae1,#0364e1)"></i><i style="height:2.003px;background:linear-gradient(90deg,#2b4bc7,#254fce,#1f53d4,#1658d9,#0e5cde,#0761e0,#0269e1,#0870df,#0e77db,#137dd8,#1486d3,#0e91d2,#079cd0,#06a4c9,#0aacbe,#1ab2b1,#31b8a2,#4dbc92,#69be84,#85bf78,#9dbe6e,#b3bd65,#c7bc5d,#ddba54,#f0b94a,#f8ba44,#fabc42,#fbbc41,#fcbd3f,#febf3c,#febf3d,#febf3c,#febf3c,#febf3c,#febf3c,#febf3c,#febf3c,#febf3c,#febf3c,#febf3c,#febf3c,#febf3c,#febf3c,#febf3d,#febf3d,#f2b949,#dbba55,#c2bc5f,#a9be69,#83bf78,#54bd8e,#2ab6a6,#0eaeba,#06a4c9,#0a96d1,#1388d3,#137ed7,#0b74dd,#066edf,#026ae1,#0364e1)"></i><i style="height:2.003px;background:linear-gradient(90deg,#2b4bc7,#254fce,#1f53d4,#1658d9,#0e5cde,#0761e0,#0269e1,#0870df,#0e77db,#137dd8,#1486d3,#0e91d2,#079cd0,#06a4c9,#0aacbe,#1ab2b1,#31b8a2,#4dbc92,#69be84,#85bf78,#9dbe6e,#b3bd65,#c6bc5e,#d9ba56,#e8b94f,#efb94b,#f4ba47,#f9bb44,#fcbd3f,#febf3c,#febf3c,#febf3c,#febf3c,#febf3c,#fec03b,#fec03b,#fec03b,#fec03b,#fec03b,#fec03b,#fec03c,#febf3c,#febf3c,#febf3c,#febf3c,#f2b948,#dbba55,#c3bc5f,#a9be69,#83bf78,#54bd8e,#2ab6a6,#0eaeba,#06a4c9,#0a96d1,#1388d3,#137ed7,#0b74dd,#066edf,#026ae1,#0364e1)"></i><i style="height:2.003px;background:linear-gradient(90deg,#2b4bc7,#254fce,#1f53d4,#1658d9,#0e5cde,#0761e0,#0269e1,#0870df,#0e77db,#137dd8,#1486d3,#0e91d2,#079cd0,#06a4c9,#0aacbe,#1ab2b1,#31b8a2,#4dbc92,#69be84,#85bf78,#9dbe6e,#b3bd65,#c5bc5e,#d7ba56,#e5b950,#ecb94d,#f2b949,#f8ba44,#fcbd3f,#febf3c,#febf3c,#fec03b,#fec03b,#fec03b,#fec03b,#fec03b,#fec13a,#fec13a,#fec03a,#fec03b,#fec03b,#fec03b,#fec03b,#febf3c,#febf3c,#f3b948,#dbba55,#c3bc5f,#a9be69,#83bf78,#54bd8e,#2ab6a6,#0eaeba,#06a4c9,#0a96d1,#1388d3,#137ed7,#0b74dd,#066edf,#026ae1,#0364e1)"></i><i style="height:2.003px;background:linear-gradient(90deg,#2b4bc7,#254fce,#1f53d4,#1658d9,#0e5cde,#0761e0,#0269e1,#0870df,#0e77db,#137dd8,#1486d3,#0e91d2,#079cd0,#06a4c9,#0aacbe,#1ab2b1,#31b8a2,#4dbc92,#69be84,#85bf78,#9dbe6e,#b3bd65,#c5bc5e,#d7ba56,#e5b950,#ecb94c,#f3ba48,#f9bb43,#fdbe3e,#fec03b,#fec03b,#fec03b,#fec03b,#fec03a,#fec13a,#fec13a,#fec13a,#fec139,#fec13a,#fec13a,#fec13a,#fec03b,#fec03b,#fec03b,#fec03b,#f3ba48,#dcba54,#c3bc5f,#a9be69,#83bf78,#54bd8e,#2ab6a6,#0eaeba,#06a4c9,#0a96d1,#1388d3,#137ed7,#0b74dd,#066edf,#026ae1,#0364e1)"></i><i style="height:2.003px;background:linear-gradient(90deg,#2b4bc7,#254fce,#1f53d4,#1658d9,#0e5cde,#0761e0,#0269e1,#0870df,#0e77db,#137dd8,#1486d3,#0e91d2,#079cd0,#06a4c9,#0aacbe,#1ab2b1,#31b8a2,#4dbc92,#69be84,#85bf78,#9dbe6e,#b3bd65,#c5bc5e,#d8ba56,#e7b94f,#f0b94a,#f8ba44,#fcbd3f,#fec03b,#fec13a,#fec03b,#fec03a,#fec13a,#fec13a,#fec13a,#fec139,#fec239,#fec239,#fec239,#fec139,#fec13a,#fec13a,#fec03a,#fec03b,#fec03b,#f4ba48,#dcba54,#c3bc5f,#a9be69,#83bf78,#54bd8e,#2ab6a6,#0eaeba,#06a4c9,#0a96d1,#1388d3,#137ed7,#0b74dd,#066edf,#026ae1,#0364e1)"></i><i style="height:2.003px;background:linear-gradient(90deg,#2b4bc7,#254fce,#1f53d4,#1658d9,#0e5cde,#0761e0,#0269e1,#0870df,#0e77db,#137dd8,#1486d3,#0e91d2,#079cd0,#06a4c9,#0aacbe,#1ab2b1,#31b8a2,#4dbc92,#69be84,#85bf78,#9dbe6e,#b3bd65,#c6bc5e,#d8ba56,#eab94e,#f7ba45,#fec03b,#ffc437,#ffc437,#ffc338,#fec13a,#fec13a,#fec13a,#fec139,#fec239,#fec239,#ffc238,#ffc338,#ffc238,#fec239,#fec239,#fec139,#fec13a,#fec13a,#fec03b,#f4ba47,#dcba54,#c3bc5f,#a9be69,#83bf78,#54bd8e,#2ab6a6,#0eaeba,#06a4c9,#0a96d1,#1388d3,#137ed7,#0b74dd,#066edf,#026ae1,#0364e1)"></i><i style="height:2.003px;background:linear-gradient(90deg,#2b4bc7,#254fce,#1f53d4,#1658d9,#0e5cde,#0761e0,#0269e1,#0870df,#0e77db,#137dd8,#1486d3,#0e91d2,#079cd0,#06a4c9,#0aacbe,#1ab2b1,#31b8a2,#4dbc92,#69be84,#85bf78,#9dbe6e,#b3bd65,#c6bc5e,#d9ba56,#ecb94d,#fabc41,#ffc536,#fec832,#fec734,#ffc437,#fec239,#fec139,#fec239,#fec239,#ffc238,#ffc338,#ffc337,#ffc337,#ffc338,#ffc238,#fec238,#fec239,#fec139,#fec13a,#fec13a,#f4ba47,#ddba54,#c4bc5f,#a9be69,#83bf78,#54bd8e,#2ab6a6,#0eaeba,#06a4c9,#0a96d1,#1388d3,#137ed7,#0b74dd,#066edf,#026ae1,#0364e1)"></i><i style="height:2.003px;background:linear-gradient(90deg,#2b4bc7,#254fce,#1f53d4,#1658d9,#0e5cde,#0761e0,#0269e1,#0870df,#0e77db,#137dd8,#1486d3,#0e91d2,#079cd0,#06a4c9,#0aacbe,#1ab2b1,#31b8a2,#4dbc92,#69be84,#85bf78,#9dbe6e,#b3bd65,#c6bc5e,#d8ba56,#eab94e,#f7ba45,#fec03a,#ffc436,#ffc536,#ffc337,#fec239,#fec239,#fec239,#ffc238,#ffc338,#ffc337,#ffc437,#ffc436,#ffc337,#ffc337,#ffc338,#fec238,#fec239,#fec139,#fec13a,#f5ba47,#ddba54,#c4bc5f,#a9be69,#83bf78,#54bd8e,#2ab6a6,#0eaeba,#06a4c9,#0a96d1,#1388d3,#137ed7,#0b74dd,#066edf,#026ae1,#0364e1)"></i><i style="height:2.003px;background:linear-gradient(90deg,#2b4bc7,#254fce,#1f53d4,#1658d9,#0e5cde,#0761e0,#0269e1,#0870df,#0e77db,#137dd8,#1486d3,#0e91d2,#079cd0,#06a4c9,#0aacbe,#1ab2b1,#31b8a2,#4dbc92,#69be84,#85bf78,#9dbe6e,#b3bd65,#c5bc5e,#d8ba56,#e7b94f,#f0b94a,#f9bb43,#fdbe3e,#fec13a,#fec239,#fec239,#fec239,#fec238,#ffc338,#ffc337,#ffc337,#ffc437,#ffc436,#ffc437,#ffc337,#ffc338,#ffc238,#fec239,#fec139,#fec13a,#f5ba47,#ddba54,#c4bc5f,#a9be69,#83bf78,#54bd8e,#2ab6a6,#0eaeba,#06a4c9,#0a96d1,#1388d3,#137ed7,#0b74dd,#066edf,#026ae1,#0364e1)"></i><i style="height:2.003px;background:linear-gradient(90deg,#2b4bc7,#254fce,#1f53d4,#1658d9,#0e5cde,#0761e0,#0269e1,#0870df,#0e77db,#137dd8,#1486d3,#0e91d2,#079cd0,#06a4c9,#0aacbe,#1ab2b1,#31b8a2,#4dbc92,#69be84,#85bf78,#9dbe6e,#b3bd65,#c5bc5e,#d7ba56,#e5b950,#edb94c,#f4ba47,#fabc42,#febf3c,#fec13a,#fec139,#fec239,#fec238,#ffc338,#ffc337,#ffc337,#ffc437,#ffc436,#ffc437,#ffc337,#ffc338,#ffc238,#fec239,#fec139,#fec13a,#f5ba47,#ddba54,#c4bc5f,#a9be69,#83bf78,#54bd8e,#2ab6a6,#0eaeba,#06a4c9,#0a96d1,#1388d3,#137ed7,#0b74dd,#066edf,#026ae1,#0364e1)"></i><i style="height:2.003px;background:linear-gradient(90deg,#2b4bc7,#254fce,#1f53d4,#1658d9,#0e5cde,#0761e0,#0269e1,#0870df,#0e77db,#137dd8,#1486d3,#0e91d2,#079cd0,#06a4c9,#0aacbe,#1ab2b1,#31b8a2,#4dbc92,#69be84,#85bf78,#9dbe6e,#b3bd65,#c5bc5e,#d7ba57,#e5b950,#ecb94c,#f3ba48,#f9bb43,#fdbe3d,#fec13a,#fec139,#fec239,#fec238,#ffc338,#ffc337,#ffc337,#ffc437,#ffc436,#ffc437,#ffc337,#ffc338,#ffc238,#fec239,#fec139,#fec13a,#f5ba47,#ddba54,#c4bc5f,#a9be69,#83bf78,#54bd8e,#2ab6a6,#0eaeba,#06a4c9,#0a96d1,#1388d3,#137ed7,#0b74dd,#066edf,#026ae1,#0364e1)"></i><i style="height:2.003px;background:linear-gradient(90deg,#2b4bc7,#254fce,#1f53d4,#1658d9,#0e5cde,#0761e0,#0269e1,#0870df,#0e77db,#137dd8,#1486d3,#0e91d2,#079cd0,#06a4c9,#0aacbe,#1ab2b1,#31b8a2,#4dbc92,#69be84,#85bf78,#9dbe6e,#b3bd65,#c5bc5e,#d7ba57,#e5b950,#ecb94d,#f3b948,#f9bb43,#fdbe3d,#fec13a,#fec139,#fec239,#fec238,#ffc338,#ffc337,#ffc337,#ffc437,#ffc436,#ffc437,#ffc337,#ffc338,#ffc238,#fec239,#fec139,#fec13a,#f5ba47,#ddba54,#c4bc5f,#a9be69,#83bf78,#54bd8e,#2ab6a6,#0eaeba,#06a4c9,#0a96d1,#1388d3,#137ed7,#0b74dd,#066edf,#026ae1,#0364e1)"></i><i style="height:2.003px;background:linear-gradient(90deg,#2b4bc7,#254fce,#1f53d4,#1658d9,#0e5cde,#0761e0,#0269e1,#0870df,#0e77db,#137dd8,#1486d3,#0e91d2,#079cd0,#06a4c9,#0aacbe,#1ab2b1,#31b8a2,#4dbc92,#69be84,#85bf78,#9dbe6e,#b3bd65,#c5bc5e,#d7ba57,#e5b950,#ecb94d,#f3b948,#f9bb43,#fdbe3d,#fec13a,#fec139,#fec239,#fec238,#ffc338,#ffc337,#ffc337,#ffc437,#ffc436,#ffc437,#ffc337,#ffc338,#ffc238,#fec239,#fec139,#fec13a,#f5ba47,#ddba54,#c4bc5f,#a9be69,#83bf78,#54bd8e,#2ab6a6,#0eaeba,#06a4c9,#0a96d1,#1388d3,#137ed7,#0b74dd,#066edf,#026ae1,#0364e1)"></i><i style="height:2.003px;background:linear-gradient(90deg,#2b4bc7,#254fce,#1f53d4,#1658d9,#0e5cde,#0761e0,#0269e1,#0870df,#0e77db,#137dd8,#1486d3,#0e91d2,#079cd0,#06a4c9,#0aacbe,#1ab2b1,#31b8a2,#4dbc92,#69be84,#85bf78,#9dbe6e,#b3bd65,#c5bc5e,#d7ba57,#e5b950,#ecb94d,#f3b948,#f9bb43,#fdbe3d,#fec13a,#fec139,#fec239,#fec238,#ffc338,#ffc337,#ffc337,#ffc437,#ffc436,#ffc437,#ffc337,#ffc338,#ffc238,#fec239,#fec139,#fec13a,#f5ba47,#ddba54,#c4bc5f,#a9be69,#83bf78,#54bd8e,#2ab6a6,#0eaeba,#06a4c9,#0a96d1,#1388d3,#137ed7,#0b74dd,#066edf,#026ae1,#0364e1)"></i><i style="height:2.003px;background:linear-gradient(90deg,#2b4bc7,#254fce,#1f53d4,#1658d9,#0e5cde,#0761e0,#0269e1,#0870df,#0e77db,#137dd8,#1486d3,#0e91d2,#079cd0,#06a4c9,#0aacbe,#1ab2b1,#31b8a2,#4dbc92,#69be84,#85bf78,#9dbe6e,#b3bd65,#c5bc5e,#d7ba57,#e5b950,#ecb94d,#f3b948,#f9bb43,#fdbe3d,#fec13a,#fec139,#fec239,#fec238,#ffc338,#ffc337,#ffc337,#ffc437,#ffc436,#ffc437,#ffc337,#ffc338,#ffc238,#fec239,#fec139,#fec13a,#f5ba47,#ddba54,#c4bc5f,#a9be69,#83bf78,#54bd8e,#2ab6a6,#0eaeba,#06a4c9,#0a96d1,#1388d3,#137ed7,#0b74dd,#066edf,#026ae1,#0364e1)"></i><i style="height:2.003px;background:linear-gradient(90deg,#2b4bc7,#254fce,#1f53d4,#1658d9,#0e5cde,#0761e0,#0269e1,#0870df,#0e77db,#137dd8,#1486d3,#0e91d2,#079cd0,#06a4c9,#0aacbe,#1ab2b1,#31b8a2,#4dbc92,#69be84,#85bf78,#9dbe6e,#b3bd65,#c5bc5e,#d7ba57,#e5b950,#ecb94d,#f3b948,#f9bb43,#fdbe3d,#fec13a,#fec139,#fec239,#fec238,#ffc338,#ffc337,#ffc337,#ffc437,#ffc436,#ffc437,#ffc337,#ffc338,#ffc238,#fec239,#fec139,#fec13a,#f5ba47,#ddba54,#c4bc5f,#a9be69,#83bf78,#54bd8e,#2ab6a6,#0eaeba,#06a4c9,#0a96d1,#1388d3,#137ed7,#0b74dd,#066edf,#026ae1,#0364e1)"></i><i style="height:2.003px;background:linear-gradient(90deg,#2b4bc7,#254fce,#1f53d4,#1658d9,#0e5cde,#0761e0,#0269e1,#0870df,#0e77db,#137dd8,#1486d3,#0e91d2,#079cd0,#06a4c9,#0aacbe,#1ab2b1,#31b8a2,#4dbc92,#69be84,#85bf78,#9dbe6e,#b3bd65,#c5bc5e,#d7ba57,#e5b950,#ecb94d,#f3b948,#f9bb43,#fdbe3d,#fec13a,#fec139,#fec239,#fec238,#ffc338,#ffc337,#ffc337,#ffc437,#ffc436,#ffc437,#ffc337,#ffc338,#ffc238,#fec239,#fec139,#fec13a,#f5ba47,#ddba54,#c4bc5f,#a9be69,#83bf78,#54bd8e,#2ab6a6,#0eaeba,#06a4c9,#0a96d1,#1388d3,#137ed7,#0b74dd,#066edf,#026ae1,#0364e1)"></i><i style="height:2.003px;background:linear-gradient(90deg,#2b4bc7,#254fce,#1f53d4,#1658d9,#0e5cde,#0761e0,#0269e1,#0870df,#0e77db,#137dd8,#1486d3,#0e91d2,#079cd0,#06a4c9,#0aacbe,#1ab2b1,#31b8a2,#4dbc92,#69be84,#85bf78,#9dbe6e,#b3bd65,#c5bc5e,#d7ba57,#e5b950,#ecb94d,#f3b948,#f9bb43,#fdbe3d,#fec13a,#fec139,#fec239,#fec238,#ffc338,#ffc337,#ffc337,#ffc437,#ffc436,#ffc437,#ffc337,#ffc338,#ffc238,#fec239,#fec139,#fec13a,#f5ba47,#ddba54,#c4bc5f,#a9be69,#83bf78,#54bd8e,#2ab6a6,#0eaeba,#06a4c9,#0a96d1,#1388d3,#137ed7,#0b74dd,#066edf,#026ae1,#0364e1)"></i><i style="height:2.003px;background:linear-gradient(90deg,#2b4bc7,#254fce,#1f53d4,#1658d9,#0e5cde,#0761e0,#0269e1,#0870df,#0e77db,#137dd8,#1486d3,#0e91d2,#079cd0,#06a4c9,#0aacbe,#1ab2b1,#31b8a2,#4dbc92,#69be84,#85bf78,#9dbe6e,#b3bd65,#c5bc5e,#d7ba57,#e5b950,#ecb94c,#f3ba48,#f9bb43,#febe3d,#fec139,#fec239,#fec239,#ffc238,#ffc338,#ffc337,#ffc337,#ffc437,#ffc436,#ffc437,#ffc337,#ffc338,#ffc238,#fec239,#fec139,#fec13a,#f5ba47,#ddba54,#c4bc5f,#a9be69,#83bf78,#54bd8e,#2ab6a6,#0eaeba,#06a4c9,#0a96d1,#1388d3,#137ed7,#0b74dd,#066edf,#026ae1,#0364e1)"></i><i style="height:2.003px;background:linear-gradient(90deg,#2b4bc7,#254fce,#1f53d4,#1658d9,#0e5cde,#0761e0,#0269e1,#0870df,#0e77db,#137dd8,#1486d3,#0e91d2,#079cd0,#06a4c9,#0aacbe,#1ab2b1,#31b8a2,#4dbc92,#69be84,#85bf78,#9dbe6e,#b3bd65,#c5bc5e,#d7ba57,#e5b950,#ecb94c,#f3ba48,#f9bb43,#febf3c,#fec239,#fec239,#fec238,#ffc338,#ffc338,#ffc337,#ffc337,#ffc437,#ffc436,#ffc437,#ffc337,#ffc338,#ffc238,#fec239,#fec139,#fec13a,#f5ba47,#ddba54,#c4bc5f,#a9be69,#83bf78,#54bd8e,#2ab6a6,#0eaeba,#06a4c9,#0a96d1,#1388d3,#137ed7,#0b74dd,#066edf,#026ae1,#0364e1)"></i><i style="height:2.003px;background:linear-gradient(90deg,#2b4bc7,#254fce,#1f53d4,#1658d9,#0e5cde,#0761e0,#0269e1,#0870df,#0e77db,#137dd8,#1486d3,#0e91d2,#079cd0,#06a4c9,#0aacbe,#1ab2b1,#31b8a2,#4dbc92,#69be84,#85bf78,#9dbe6e,#b3bd65,#c5bc5e,#d7ba57,#e5b950,#ecb94c,#f3ba48,#fabb42,#febf3c,#fec239,#fec238,#ffc238,#ffc338,#ffc337,#ffc337,#ffc437,#ffc437,#ffc436,#ffc437,#ffc337,#ffc338,#ffc238,#fec239,#fec139,#fec13a,#f5ba47,#ddba54,#c4bc5f,#a9be69,#83bf78,#54bd8e,#2ab6a6,#0eaeba,#06a4c9,#0a96d1,#1388d3,#137ed7,#0b74dd,#066edf,#026ae1,#0364e1)"></i><i style="height:2.003px;background:linear-gradient(90deg,#2b4bc7,#254fce,#1f53d4,#1658d9,#0e5cde,#0761e0,#0269e1,#0870df,#0e77db,#137dd8,#1486d3,#0e91d2,#079cd0,#06a4c9,#0aacbe,#1ab2b1,#31b8a2,#4dbc92,#69be84,#85bf78,#9dbe6e,#b3bd65,#c5bc5e,#d7ba57,#e5b950,#ecb94c,#f4ba48,#fabc42,#febf3c,#fec238,#ffc238,#ffc338,#ffc338,#ffc337,#ffc337,#ffc437,#ffc437,#ffc436,#ffc437,#ffc337,#ffc338,#ffc238,#fec239,#fec139,#fec13a,#f5ba47,#ddba54,#c4bc5f,#a9be69,#83bf78,#54bd8e,#2ab6a6,#0eaeba,#06a4c9,#0a96d1,#1388d3,#137ed7,#0b74dd,#066edf,#026ae1,#0364e1)"></i><i style="height:2.003px;background:linear-gradient(90deg,#2b4bc7,#254fce,#1f53d4,#1658d9,#0e5cde,#0761e0,#0269e1,#0870df,#0e77db,#137dd8,#1486d3,#0e91d2,#079cd0,#06a4c9,#0aacbe,#1ab2b1,#31b8a2,#4dbc92,#69be84,#85bf78,#9dbe6e,#b3bd65,#c5bc5e,#d7ba57,#e5b950,#ecb94c,#f4ba47,#fabc42,#fec03b,#ffc238,#ffc338,#ffc338,#ffc337,#ffc337,#ffc337,#ffc437,#ffc436,#ffc436,#ffc437,#ffc337,#ffc338,#ffc238,#fec239,#fec139,#fec13a,#f5ba47,#ddba54,#c4bc5f,#a9be69,#83bf78,#54bd8e,#2ab6a6,#0eaeba,#06a4c9,#0a96d1,#1388d3,#137ed7,#0b74dd,#066edf,#026ae1,#0364e1)"></i><i style="height:2.003px;background:linear-gradient(90deg,#2b4bc7,#254fce,#1f53d4,#1658d9,#0e5cde,#0761e0,#0269e1,#0870df,#0e77db,#137dd8,#1486d3,#0e91d2,#079cd0,#06a4c9,#0aacbe,#1ab2b1,#31b8a2,#4dbc92,#69be84,#85bf78,#9dbe6e,#b3bd65,#c5bc5e,#d7ba57,#e5b950,#edb94c,#f4ba47,#fabc41,#fec03b,#ffc338,#ffc337,#ffc337,#ffc337,#ffc337,#ffc437,#ffc437,#ffc436,#ffc436,#ffc437,#ffc337,#ffc338,#ffc238,#fec239,#fec139,#fec13a,#f5ba47,#ddba54,#c4bc5f,#a9be69,#83bf78,#54bd8e,#2ab6a6,#0eaeba,#06a4c9,#0a96d1,#1388d3,#137ed7,#0b74dd,#066edf,#026ae1,#0364e1)"></i><i style="height:2.003px;background:linear-gradient(90deg,#2b4bc7,#254fce,#1f53d4,#1658d9,#0e5cde,#0761e0,#0269e1,#0870df,#0e77db,#137dd8,#1486d3,#0e91d2,#079cd0,#06a4c9,#0aacbe,#1ab2b1,#31b8a2,#4dbc92,#69be84,#85bf78,#9dbe6e,#b3bd65,#c5bc5e,#d7ba56,#e5b950,#edb94c,#f4ba47,#fbbc41,#fec03b,#ffc337,#ffc337,#ffc337,#ffc337,#ffc437,#ffc437,#ffc437,#ffc436,#ffc436,#ffc437,#ffc337,#ffc338,#ffc238,#fec239,#fec139,#fec13a,#f5ba47,#ddba54,#c4bc5f,#a9be69,#83bf78,#54bd8e,#2ab6a6,#0eaeba,#06a4c9,#0a96d1,#1388d3,#137ed7,#0b74dd,#066edf,#026ae1,#0364e1)"></i><i style="height:2.003px;background:linear-gradient(90deg,#2b4bc7,#254fce,#1f53d4,#1658d9,#0e5cde,#0761e0,#0269e1,#0870df,#0e77db,#137dd8,#1486d3,#0e91d2,#079cd0,#06a4c9,#0aacbe,#1ab2b1,#31b8a2,#4dbc92,#69be84,#85bf78,#9dbe6e,#b3bd65,#c6bc5e,#d8ba56,#e7b94f,#efb94b,#f6ba46,#fcbd40,#fec13a,#ffc437,#ffc437,#ffc437,#ffc437,#ffc437,#ffc437,#ffc436,#ffc436,#ffc436,#ffc437,#ffc337,#ffc338,#ffc238,#fec239,#fec139,#fec13a,#f5ba47,#ddba54,#c4bc5f,#a9be69,#83bf78,#54bd8e,#2ab6a6,#0eaeba,#06a4c9,#0a96d1,#1388d3,#137ed7,#0b74dd,#066edf,#026ae1,#0364e1)"></i><i style="height:2.003px;background:linear-gradient(90deg,#2b4bc7,#254fce,#1f53d4,#1658d9,#0e5cde,#0761e0,#0269e1,#0870df,#0e77db,#137dd8,#1486d3,#0e91d2,#079cd0,#06a4c9,#0aacbe,#1ab2b1,#31b8a2,#4dbc92,#69be84,#85bf78,#9dbe6e,#b3bd65,#c7bc5d,#dcba54,#eeb94c,#f6ba46,#fbbc40,#fec03b,#ffc436,#fec634,#fec536,#ffc436,#ffc436,#ffc436,#ffc436,#ffc436,#ffc436,#ffc436,#ffc437,#ffc337,#ffc338,#ffc238,#fec239,#fec139,#fec13a,#f5ba47,#ddba54,#c4bc5f,#a9be69,#83bf78,#54bd8e,#2ab6a6,#0eaeba,#06a4c9,#0a96d1,#1388d3,#137ed7,#0b74dd,#066edf,#026ae1,#0364e1)"></i><i style="height:2.003px;background:linear-gradient(90deg,#2b4bc7,#254fce,#1f53d4,#1658d9,#0e5cde,#0761e0,#0269e1,#0870df,#0e77db,#137dd8,#1486d3,#0e91d2,#079cd0,#06a4c9,#0aacbe,#1ab2b1,#31b8a2,#4dbc92,#69be84,#85bf78,#9dbe6e,#b4bd65,#cabb5c,#e3b951,#f8ba44,#fec03b,#ffc437,#fec833,#fdcc2f,#fdcb30,#fec733,#fec535,#ffc436,#ffc436,#ffc436,#ffc436,#ffc436,#ffc436,#ffc437,#ffc337,#ffc338,#ffc238,#fec239,#fec139,#fec13a,#f5ba47,#ddba54,#c4bc5f,#a9be69,#83bf78,#54bd8e,#2ab6a6,#0eaeba,#06a4c9,#0a96d1,#1388d3,#137ed7,#0b74dd,#066edf,#026ae1,#0364e1)"></i><i style="height:2.003px;background:linear-gradient(90deg,#2b4bc7,#254fce,#1f53d4,#1658d9,#0e5cde,#0761e0,#0269e1,#0870df,#0e77db,#137dd8,#1486d3,#0e91d2,#079cd0,#06a4c9,#0aacbe,#1ab2b1,#31b8a2,#4dbc92,#69be84,#85bf78,#9ebe6e,#b4bd65,#cbbb5c,#e5b950,#fbbc41,#ffc337,#fec832,#fcce2e,#fad22b,#fbd02c,#fec932,#fec535,#ffc436,#ffc437,#ffc437,#ffc437,#ffc437,#ffc437,#ffc337,#ffc338,#ffc238,#fec239,#fec239,#fec13a,#fec13a,#f4ba47,#dcba54,#c3bc5f,#a8be6a,#82bf79,#53bd8f,#29b6a7,#0daeba,#06a4c9,#0b95d1,#1388d3,#137dd8,#0b73dd,#056ee0,#0269e1,#0364e1)"></i><i style="height:2.003px;background:linear-gradient(90deg,#2b4bc7,#254fce,#1f53d4,#1658d9,#0e5cde,#0761e0,#0269e1,#0870df,#0e77db,#137dd8,#1486d3,#0e91d2,#079cd0,#06a4c9,#0aacbe,#1ab2b1,#31b8a2,#4dbc92,#69be84,#85bf78,#9dbe6e,#b4bd65,#c9bc5d,#e0ba53,#f4ba48,#fcbd3f,#ffc338,#fec931,#fcce2d,#fccd2e,#fec833,#ffc436,#ffc337,#ffc337,#ffc337,#ffc337,#ffc337,#ffc337,#ffc338,#ffc238,#fec239,#fec239,#fec13a,#fec13a,#fec03b,#f4ba48,#dbba55,#c2bc5f,#a6be6a,#80bf7a,#51bc90,#27b6a8,#0dadbb,#06a3ca,#0b95d2,#1487d3,#127dd8,#0a73de,#056de0,#0269e1,#0363e1)"></i><i style="height:2.003px;background:linear-gradient(90deg,#2b4bc7,#254fce,#1f53d4,#1658d9,#0e5cde,#0761e0,#0269e1,#0870df,#0e77db,#137dd8,#1486d3,#0e91d2,#079cd0,#06a4c9,#0aacbe,#1ab2b1,#31b8a2,#4dbc92,#69be84,#85bf78,#9dbe6e,#b3bd65,#c6bc5d,#daba55,#eab94e,#f3b948,#fabc42,#fec03a,#fec535,#fec634,#ffc436,#ffc338,#ffc238,#ffc238,#ffc238,#ffc338,#ffc338,#ffc338,#ffc238,#fec239,#fec239,#fec13a,#fec13a,#fec03b,#fec03b,#f3ba48,#daba55,#c0bc60,#a5be6b,#7ebf7b,#4fbc91,#26b5a9,#0cadbc,#06a3cb,#0c94d2,#1486d4,#127cd8,#0972de,#046de0,#0268e1,#0363e1)"></i><i style="height:2.003px;background:linear-gradient(90deg,#2b4bc7,#254fce,#1f53d4,#1658d9,#0e5cde,#0761e0,#0269e1,#0870df,#0e77db,#137dd8,#1486d3,#0e91d2,#079cd0,#06a4c9,#0aacbe,#1ab2b1,#31b8a2,#4dbc92,#69be84,#85bf78,#9dbe6e,#b3bd65,#c5bc5e,#d8ba56,#e6b950,#edb94c,#f4ba47,#fabc41,#fec03b,#fec238,#fec239,#fec239,#fec239,#fec239,#fec239,#fec238,#ffc238,#ffc238,#fec239,#fec239,#fec13a,#fec13a,#fec03b,#fec03b,#febf3c,#f2b949,#d9ba56,#bfbc60,#a3be6c,#7cbf7b,#4dbc92,#24b5aa,#0bacbd,#06a2cb,#0d93d2,#1485d4,#127bd9,#0971de,#046ce0,#0267e1,#0462e0)"></i><i style="height:2.003px;background:linear-gradient(90deg,#2b4bc7,#254fce,#1f53d4,#1658d9,#0e5cde,#0761e0,#0269e1,#0870df,#0e77db,#137dd8,#1486d3,#0e91d2,#079cd0,#06a4c9,#0aacbe,#1ab2b1,#31b8a2,#4dbc92,#69be84,#85bf78,#9dbe6e,#b3bd65,#c5bc5e,#d7ba56,#e5b950,#ecb94d,#f2b949,#f9bb44,#fdbe3e,#fec03a,#fec13a,#fec13a,#fec139,#fec139,#fec139,#fec239,#fec239,#fec239,#fec239,#fec13a,#fec13a,#fec03b,#fec03b,#febf3c,#febf3c,#f1b949,#d8ba56,#bebc61,#a2be6c,#7bbf7c,#4bbc93,#23b4ab,#0aacbd,#06a2cc,#0d92d2,#1485d4,#117bd9,#0871df,#036be0,#0267e1,#0561e0)"></i><i style="height:2.003px;background:linear-gradient(90deg,#2b4bc7,#254fce,#1f53d4,#1658d9,#0e5cde,#0761e0,#0269e1,#0870df,#0e77db,#137dd8,#1486d3,#0e91d2,#079cd0,#06a4c9,#0aacbe,#1ab2b1,#31b8a2,#4dbc92,#69be84,#85bf78,#9dbe6e,#b3bd65,#c5bc5e,#d7ba57,#e4b950,#ebb94d,#f2b949,#f8ba44,#fdbd3e,#fec13a,#fec239,#ffc337,#ffc338,#fec239,#fec13a,#fec13a,#fec139,#fec239,#fec13a,#fec13a,#fec03b,#fec03b,#febf3c,#febf3c,#febf3d,#f1b94a,#d7ba56,#bdbd61,#a0be6d,#79bf7d,#49bc94,#22b4ac,#09acbe,#06a1cc,#0e91d2,#1484d4,#117ad9,#0770df,#036be0,#0266e1,#0761e0)"></i><i style="height:2.003px;background:linear-gradient(90deg,#2b4bc7,#254fce,#1f53d4,#1658d9,#0e5cde,#0761e0,#0269e1,#0870df,#0e77db,#137dd8,#1486d3,#0e91d2,#079cd0,#06a4c9,#0aacbe,#1ab2b1,#31b8a2,#4dbc92,#69be84,#85bf78,#9dbe6e,#b3bd65,#c5bc5e,#d7ba57,#e4b950,#ebb94d,#f1b94a,#f7ba45,#fdbd3e,#fec238,#fec634,#fec932,#fec733,#ffc437,#fec139,#fec13a,#fec13a,#fec13a,#fec13a,#fec03b,#fec03b,#febf3c,#febf3c,#febf3d,#fdbe3d,#f0b94a,#d6ba57,#bcbd62,#9fbe6d,#77bf7e,#47bb95,#20b4ad,#09abbf,#06a1cd,#0f90d2,#1483d5,#1079da,#076fdf,#036ae1,#0266e1,#0860e0)"></i><i style="height:2.003px;background:linear-gradient(90deg,#2c4ac6,#274ecc,#2152d2,#1a56d7,#125adc,#0b5edf,#0268e1,#066fdf,#0d75dc,#117bd9,#1484d4,#108ed2,#0899d1,#06a2cc,#07aac1,#15b0b5,#2bb6a6,#45bb96,#61be87,#7ebf7b,#97bf70,#adbe67,#c0bc60,#d2bb59,#dfba53,#e6b950,#ecb94d,#f2b949,#fabb42,#fec13a,#fec833,#fdcc30,#fec932,#ffc338,#febf3c,#fdbe3e,#fdbe3e,#fdbe3d,#fdbe3e,#fcbd3f,#fcbd3f,#fcbd40,#fbbc40,#fbbc41,#fabc42,#ebb94d,#d1bb59,#b7bd64,#9abf6f,#71bf80,#42bb98,#1db3af,#08aac1,#069fce,#108ed2,#1482d5,#0f78db,#066ee0,#0269e1,#0265e1,#095fdf)"></i><i style="height:2.003px;background:linear-gradient(90deg,#2e48c1,#2c4ac5,#2a4cc9,#264ecd,#2350d0,#1e53d5,#0b5edf,#0266e1,#046ce0,#0972de,#1079da,#1481d6,#1389d3,#0c94d2,#06a0cd,#07a9c3,#12b0b6,#27b5a8,#40ba99,#5dbe89,#7cbf7c,#95bf71,#aabe69,#bdbd61,#cbbb5c,#d1bb59,#d8ba56,#deba53,#e6b94f,#f0b94a,#f8bb44,#fcbd3f,#fabc42,#f3ba48,#efb94b,#edb94c,#edb94c,#eeb94b,#edb94c,#ecb94c,#ebb94d,#eab94d,#eab94e,#e9b94e,#e8b94f,#d8ba56,#bfbc60,#a5be6b,#88bf76,#5fbe89,#34b8a0,#13b0b6,#06a7c6,#089ad0,#1389d3,#137ed7,#0d75dc,#046ce0,#0267e1,#0462e1,#0e5dde)"></i><i style="height:2.003px;background:linear-gradient(90deg,#3045bd,#3046be,#2f47bf,#2e47c1,#2e48c2,#2d49c4,#2251d1,#135adb,#0661e0,#0267e1,#076fdf,#0e76dc,#127dd8,#1484d4,#0d92d2,#069fce,#06a8c4,#10afb8,#24b5aa,#3eba9a,#5dbe8a,#7bbf7c,#91bf73,#a6be6a,#b5bd64,#bcbd62,#c2bc5f,#c9bc5c,#d1bb59,#d7ba56,#dcba54,#dfba53,#deba53,#dbba55,#daba55,#daba55,#daba55,#dbba55,#daba55,#d9ba56,#d8ba56,#d7ba57,#d6ba57,#d4bb58,#d3bb58,#c4bc5e,#acbe68,#93bf72,#76bf7e,#4dbc92,#27b5a8,#0cadbc,#06a3ca,#0b95d2,#1484d4,#117bd9,#0a72de,#0269e1,#0364e1,#095fdf,#135adb)"></i><i style="height:2.003px;background:linear-gradient(90deg,#3243b8,#3342b7,#3342b6,#3341b5,#3340b4,#3340b3,#3045bd,#2c4ac6,#2450cf,#1857d8,#0363e1,#036ae1,#0871de,#0f78db,#1483d5,#0f90d2,#079ecf,#06a7c5,#0faeb9,#24b5aa,#3fba9a,#5dbe8a,#76bf7e,#8dbf74,#9ebe6e,#a5be6b,#acbe68,#b3bd65,#babd62,#bfbc60,#c1bc5f,#c3bc5f,#c4bc5e,#c4bc5e,#c5bc5e,#c6bc5e,#c7bc5d,#c8bc5d,#c7bc5d,#c5bc5e,#c4bc5f,#c2bc5f,#c1bc60,#c0bc60,#bebc61,#afbe67,#98bf70,#7ebf7b,#62be87,#3cba9b,#1bb2b0,#07aac1,#069fce,#108fd2,#1480d6,#0f77db,#076fdf,#0266e1,#0661e0,#0e5cde,#1956d8)"></i><i style="height:2.003px;background:linear-gradient(90deg,#3340b4,#3440b2,#343fb0,#353eaf,#353dad,#353dac,#3440b3,#3243ba,#2f47c0,#2a4cc8,#1956d8,#0760e0,#0268e1,#066fdf,#1079da,#1482d5,#108ed2,#089bd0,#06a5c8,#0dadbb,#22b4ac,#3bb99c,#54bd8e,#6ebf82,#81bf79,#89bf76,#91bf73,#98bf70,#9fbe6d,#a3be6c,#a4be6b,#a5be6b,#a6be6a,#a7be6a,#a8be6a,#a8be69,#a9be69,#aabe69,#a8be69,#a7be6a,#a5be6b,#a4be6b,#a2be6c,#a0be6d,#9fbe6d,#90bf73,#7abf7c,#61be88,#48bb94,#29b6a7,#0faeb9,#06a5c8,#0998d1,#1388d3,#117bd9,#0a73dd,#036be0,#0661e0,#0f5cdd,#1956d8,#2251d2)"></i><i style="height:2.003px;background:linear-gradient(90deg,#343eb0,#353eae,#353dac,#353cab,#353ba9,#353aa8,#353dac,#343fb1,#3342b6,#3145bc,#294cc9,#1d54d6,#0c5dde,#0265e1,#066fdf,#0e77db,#137fd7,#1388d3,#0998d1,#06a4c9,#0cadbc,#1fb3ae,#33b8a1,#4cbc92,#60be88,#68be84,#70bf81,#77bf7e,#7fbf7a,#83bf79,#83bf79,#83bf78,#84bf78,#84bf78,#84bf78,#84bf78,#84bf78,#84bf78,#83bf79,#81bf7a,#7fbf7a,#7dbf7b,#7bbf7c,#79bf7d,#77bf7e,#69be84,#55bd8e,#42bb98,#31b8a2,#18b1b2,#07a9c2,#069ece,#0f90d2,#1482d5,#0d76dc,#056ee0,#0266e1,#135adb,#1e54d5,#2450cf,#294cc9)"></i><i style="height:2.003px;background:linear-gradient(90deg,#343fb1,#353eaf,#353cac,#353ba9,#363aa6,#3639a4,#353ba8,#353dac,#343fb0,#3341b5,#2f47c0,#284dca,#1f53d4,#0e5cde,#0267e1,#066fdf,#0d76dc,#137dd7,#138ad3,#0899d1,#06a4c9,#0aacbd,#1bb2b0,#32b8a1,#47bb95,#4fbc91,#58bd8c,#60be88,#69be84,#6ebf82,#6ebf82,#6ebf82,#6ebf82,#6ebf82,#6ebf82,#6ebf82,#6ebf82,#6ebf82,#6bbf83,#69be84,#67be85,#64be86,#62be87,#5fbe88,#5dbe8a,#50bc90,#3eba9a,#2eb7a4,#20b4ad,#0dadbb,#06a5c8,#0998d1,#1389d3,#137dd8,#0972de,#036ae1,#0661e0,#1e54d5,#264fcd,#2b4bc8,#2e48c2)"></i><i style="height:2.003px;background:linear-gradient(90deg,#3341b5,#343fb1,#353dac,#353ba8,#3639a4,#3637a1,#3639a5,#353ba9,#353dad,#343fb1,#3243b9,#2e47c1,#2a4bc8,#2152d2,#0c5ede,#0267e1,#056de0,#0c74dd,#137fd7,#128ad3,#0998d1,#06a3ca,#0aacbe,#1eb3ae,#33b8a1,#3bb99c,#44bb97,#4dbc91,#57bd8c,#5dbe8a,#5dbe8a,#5dbe8a,#5dbe8a,#5dbe8a,#5dbe8a,#5dbe8a,#5dbe8a,#5dbe8a,#5abd8b,#57bd8c,#54bd8e,#52bd8f,#4fbc91,#4cbc92,#4abc94,#3dba9b,#2db7a4,#20b4ad,#14b0b5,#07aac2,#06a0cd,#0d93d2,#1485d4,#117ada,#066edf,#0266e1,#0e5cde,#254fce,#2c4ac6,#2f47c0,#3244ba)"></i></div>
<div class="hm" style="left:557.80px;top:180.30px;width:12.30px;height:130.20px;background:linear-gradient(180deg,#f9fb0e,#f6f313,#f5eb18,#f5e41d,#f5de21,#f7d826,#fad32a,#fcce2e,#fec832,#ffc337,#fdbe3d,#f8bb44,#f1b94a,#e9b94e,#e1b952,#d9ba56,#d1bb59,#c8bc5d,#c0bc60,#b7bd64,#aebe67,#a5be6b,#9cbf6f,#92bf73,#87bf77,#7cbf7b,#71bf80,#65be86,#59bd8c,#4dbc92,#42bb98,#38b99e,#2eb7a4,#25b5a9,#1db3af,#15b1b4,#0faeb9,#0aacbe,#07a9c2,#06a7c6,#06a4ca,#06a0cd,#079ccf,#0998d1,#0c93d2,#108ed2,#1389d3,#1485d4,#1481d6,#127dd8,#1079da,#0d75dc,#0871de,#046de0,#0268e1,#0363e1,#0f5cdd,#2053d4,#2c4ac7,#3243ba,#353dad,#3637a0,#363093,#352a87)"></div>
<svg width="600" height="333" viewBox="0 0 600 333"><text x="32.30" y="147.50" font-size="9.40" text-anchor="end" textLength="15.00" lengthAdjust="spacingAndGlyphs">600</text>
<path d="M36.30 144.50h1.6M157.80 144.50h-1.6" class="tk"/>
<text x="32.30" y="118.46" font-size="9.40" text-anchor="end" textLength="15.00" lengthAdjust="spacingAndGlyphs">700</text>
<path d="M36.30 115.46h1.6M157.80 115.46h-1.6" class="tk"/>
<text x="32.30" y="89.41" font-size="9.40" text-anchor="end" textLength="15.00" lengthAdjust="spacingAndGlyphs">800</text>
<path d="M36.30 86.41h1.6M157.80 86.41h-1.6" class="tk"/>
<text x="32.30" y="60.37" font-size="9.40" text-anchor="end" textLength="15.00" lengthAdjust="spacingAndGlyphs">900</text>
<path d="M36.30 57.37h1.6M157.80 57.37h-1.6" class="tk"/>
<text x="32.30" y="31.32" font-size="9.40" text-anchor="end" textLength="20.00" lengthAdjust="spacingAndGlyphs">1000</text>
<path d="M36.30 28.32h1.6M157.80 28.32h-1.6" class="tk"/>
<text x="58.60" y="157.30" font-size="9.40" text-anchor="middle" textLength="12.20" lengthAdjust="spacingAndGlyphs">0.2</text>
<path d="M60.60 144.50v-1.6M60.60 13.80v1.6" class="tk"/>
<text x="107.20" y="157.30" font-size="9.40" text-anchor="middle" textLength="12.20" lengthAdjust="spacingAndGlyphs">0.4</text>
<path d="M109.20 144.50v-1.6M109.20 13.80v1.6" class="tk"/>
<text x="155.80" y="157.30" font-size="9.40" text-anchor="middle" textLength="12.20" lengthAdjust="spacingAndGlyphs">0.6</text>
<path d="M157.80 144.50v-1.6M157.80 13.80v1.6" class="tk"/>
<text x="99.55" y="167.20" font-size="11.00" text-anchor="middle" textLength="37.50" lengthAdjust="spacingAndGlyphs">Tested <tspan font-size="12">ε</tspan></text>
<rect x="36.30" y="13.80" width="121.50" height="130.70" class="bx"/>
<rect x="164.10" y="13.80" width="12.30" height="130.70" class="bx"/>
<text x="228.00" y="147.50" font-size="9.40" text-anchor="end" textLength="15.00" lengthAdjust="spacingAndGlyphs">600</text>
<path d="M232.00 144.50h1.6M353.50 144.50h-1.6" class="tk"/>
<text x="228.00" y="118.46" font-size="9.40" text-anchor="end" textLength="15.00" lengthAdjust="spacingAndGlyphs">700</text>
<path d="M232.00 115.46h1.6M353.50 115.46h-1.6" class="tk"/>
<text x="228.00" y="89.41" font-size="9.40" text-anchor="end" textLength="15.00" lengthAdjust="spacingAndGlyphs">800</text>
<path d="M232.00 86.41h1.6M353.50 86.41h-1.6" class="tk"/>
<text x="228.00" y="60.37" font-size="9.40" text-anchor="end" textLength="15.00" lengthAdjust="spacingAndGlyphs">900</text>
<path d="M232.00 57.37h1.6M353.50 57.37h-1.6" class="tk"/>
<text x="228.00" y="31.32" font-size="9.40" text-anchor="end" textLength="20.00" lengthAdjust="spacingAndGlyphs">1000</text>
<path d="M232.00 28.32h1.6M353.50 28.32h-1.6" class="tk"/>
<text x="254.30" y="157.30" font-size="9.40" text-anchor="middle" textLength="12.20" lengthAdjust="spacingAndGlyphs">0.2</text>
<path d="M256.30 144.50v-1.6M256.30 13.80v1.6" class="tk"/>
<text x="302.90" y="157.30" font-size="9.40" text-anchor="middle" textLength="12.20" lengthAdjust="spacingAndGlyphs">0.4</text>
<path d="M304.90 144.50v-1.6M304.90 13.80v1.6" class="tk"/>
<text x="351.50" y="157.30" font-size="9.40" text-anchor="middle" textLength="12.20" lengthAdjust="spacingAndGlyphs">0.6</text>
<path d="M353.50 144.50v-1.6M353.50 13.80v1.6" class="tk"/>
<text x="295.25" y="167.20" font-size="11.00" text-anchor="middle" textLength="37.50" lengthAdjust="spacingAndGlyphs">Tested <tspan font-size="12">ε</tspan></text>
<rect x="232.00" y="13.80" width="121.50" height="130.70" class="bx"/>
<rect x="359.80" y="13.80" width="12.30" height="130.70" class="bx"/>
<text x="426.00" y="147.50" font-size="9.40" text-anchor="end" textLength="15.00" lengthAdjust="spacingAndGlyphs">600</text>
<path d="M430.00 144.50h1.6M551.80 144.50h-1.6" class="tk"/>
<text x="426.00" y="118.46" font-size="9.40" text-anchor="end" textLength="15.00" lengthAdjust="spacingAndGlyphs">700</text>
<path d="M430.00 115.46h1.6M551.80 115.46h-1.6" class="tk"/>
<text x="426.00" y="89.41" font-size="9.40" text-anchor="end" textLength="15.00" lengthAdjust="spacingAndGlyphs">800</text>
<path d="M430.00 86.41h1.6M551.80 86.41h-1.6" class="tk"/>
<text x="426.00" y="60.37" font-size="9.40" text-anchor="end" textLength="15.00" lengthAdjust="spacingAndGlyphs">900</text>
<path d="M430.00 57.37h1.6M551.80 57.37h-1.6" class="tk"/>
<text x="426.00" y="31.32" font-size="9.40" text-anchor="end" textLength="20.00" lengthAdjust="spacingAndGlyphs">1000</text>
<path d="M430.00 28.32h1.6M551.80 28.32h-1.6" class="tk"/>
<text x="452.36" y="157.30" font-size="9.40" text-anchor="middle" textLength="12.20" lengthAdjust="spacingAndGlyphs">0.2</text>
<path d="M454.36 144.50v-1.6M454.36 13.80v1.6" class="tk"/>
<text x="501.08" y="157.30" font-size="9.40" text-anchor="middle" textLength="12.20" lengthAdjust="spacingAndGlyphs">0.4</text>
<path d="M503.08 144.50v-1.6M503.08 13.80v1.6" class="tk"/>
<text x="549.80" y="157.30" font-size="9.40" text-anchor="middle" textLength="12.20" lengthAdjust="spacingAndGlyphs">0.6</text>
<path d="M551.80 144.50v-1.6M551.80 13.80v1.6" class="tk"/>
<text x="493.40" y="167.20" font-size="11.00" text-anchor="middle" textLength="37.50" lengthAdjust="spacingAndGlyphs">Tested <tspan font-size="12">ε</tspan></text>
<rect x="430.00" y="13.80" width="121.80" height="130.70" class="bx"/>
<rect x="557.80" y="13.80" width="12.30" height="130.70" class="bx"/>
<text x="32.30" y="313.50" font-size="9.40" text-anchor="end" textLength="15.00" lengthAdjust="spacingAndGlyphs">600</text>
<path d="M36.30 310.50h1.6M157.80 310.50h-1.6" class="tk"/>
<text x="32.30" y="284.57" font-size="9.40" text-anchor="end" textLength="15.00" lengthAdjust="spacingAndGlyphs">700</text>
<path d="M36.30 281.57h1.6M157.80 281.57h-1.6" class="tk"/>
<text x="32.30" y="255.63" font-size="9.40" text-anchor="end" textLength="15.00" lengthAdjust="spacingAndGlyphs">800</text>
<path d="M36.30 252.63h1.6M157.80 252.63h-1.6" class="tk"/>
<text x="32.30" y="226.70" font-size="9.40" text-anchor="end" textLength="15.00" lengthAdjust="spacingAndGlyphs">900</text>
<path d="M36.30 223.70h1.6M157.80 223.70h-1.6" class="tk"/>
<text x="32.30" y="197.77" font-size="9.40" text-anchor="end" textLength="20.00" lengthAdjust="spacingAndGlyphs">1000</text>
<path d="M36.30 194.77h1.6M157.80 194.77h-1.6" class="tk"/>
<text x="58.60" y="323.30" font-size="9.40" text-anchor="middle" textLength="12.20" lengthAdjust="spacingAndGlyphs">0.2</text>
<path d="M60.60 310.50v-1.6M60.60 180.30v1.6" class="tk"/>
<text x="107.20" y="323.30" font-size="9.40" text-anchor="middle" textLength="12.20" lengthAdjust="spacingAndGlyphs">0.4</text>
<path d="M109.20 310.50v-1.6M109.20 180.30v1.6" class="tk"/>
<text x="155.80" y="323.30" font-size="9.40" text-anchor="middle" textLength="12.20" lengthAdjust="spacingAndGlyphs">0.6</text>
<path d="M157.80 310.50v-1.6M157.80 180.30v1.6" class="tk"/>
<text x="99.55" y="333.20" font-size="11.00" text-anchor="middle" textLength="37.50" lengthAdjust="spacingAndGlyphs">Tested <tspan font-size="12">ε</tspan></text>
<rect x="36.30" y="180.30" width="121.50" height="130.20" class="bx"/>
<rect x="164.10" y="180.30" width="12.30" height="130.20" class="bx"/>
<text x="228.00" y="313.50" font-size="9.40" text-anchor="end" textLength="15.00" lengthAdjust="spacingAndGlyphs">600</text>
<path d="M232.00 310.50h1.6M353.50 310.50h-1.6" class="tk"/>
<text x="228.00" y="284.57" font-size="9.40" text-anchor="end" textLength="15.00" lengthAdjust="spacingAndGlyphs">700</text>
<path d="M232.00 281.57h1.6M353.50 281.57h-1.6" class="tk"/>
<text x="228.00" y="255.63" font-size="9.40" text-anchor="end" textLength="15.00" lengthAdjust="spacingAndGlyphs">800</text>
<path d="M232.00 252.63h1.6M353.50 252.63h-1.6" class="tk"/>
<text x="228.00" y="226.70" font-size="9.40" text-anchor="end" textLength="15.00" lengthAdjust="spacingAndGlyphs">900</text>
<path d="M232.00 223.70h1.6M353.50 223.70h-1.6" class="tk"/>
<text x="228.00" y="197.77" font-size="9.40" text-anchor="end" textLength="20.00" lengthAdjust="spacingAndGlyphs">1000</text>
<path d="M232.00 194.77h1.6M353.50 194.77h-1.6" class="tk"/>
<text x="254.30" y="323.30" font-size="9.40" text-anchor="middle" textLength="12.20" lengthAdjust="spacingAndGlyphs">0.2</text>
<path d="M256.30 310.50v-1.6M256.30 180.30v1.6" class="tk"/>
<text x="302.90" y="323.30" font-size="9.40" text-anchor="middle" textLength="12.20" lengthAdjust="spacingAndGlyphs">0.4</text>
<path d="M304.90 310.50v-1.6M304.90 180.30v1.6" class="tk"/>
<text x="351.50" y="323.30" font-size="9.40" text-anchor="middle" textLength="12.20" lengthAdjust="spacingAndGlyphs">0.6</text>
<path d="M353.50 310.50v-1.6M353.50 180.30v1.6" class="tk"/>
<text x="295.25" y="333.20" font-size="11.00" text-anchor="middle" textLength="37.50" lengthAdjust="spacingAndGlyphs">Tested <tspan font-size="12">ε</tspan></text>
<rect x="232.00" y="180.30" width="121.50" height="130.20" class="bx"/>
<rect x="359.80" y="180.30" width="12.30" height="130.20" class="bx"/>
<text x="426.00" y="313.50" font-size="9.40" text-anchor="end" textLength="15.00" lengthAdjust="spacingAndGlyphs">600</text>
<path d="M430.00 310.50h1.6M551.80 310.50h-1.6" class="tk"/>
<text x="426.00" y="284.57" font-size="9.40" text-anchor="end" textLength="15.00" lengthAdjust="spacingAndGlyphs">700</text>
<path d="M430.00 281.57h1.6M551.80 281.57h-1.6" class="tk"/>
<text x="426.00" y="255.63" font-size="9.40" text-anchor="end" textLength="15.00" lengthAdjust="spacingAndGlyphs">800</text>
<path d="M430.00 252.63h1.6M551.80 252.63h-1.6" class="tk"/>
<text x="426.00" y="226.70" font-size="9.40" text-anchor="end" textLength="15.00" lengthAdjust="spacingAndGlyphs">900</text>
<path d="M430.00 223.70h1.6M551.80 223.70h-1.6" class="tk"/>
<text x="426.00" y="197.77" font-size="9.40" text-anchor="end" textLength="20.00" lengthAdjust="spacingAndGlyphs">1000</text>
<path d="M430.00 194.77h1.6M551.80 194.77h-1.6" class="tk"/>
<text x="452.36" y="323.30" font-size="9.40" text-anchor="middle" textLength="12.20" lengthAdjust="spacingAndGlyphs">0.2</text>
<path d="M454.36 310.50v-1.6M454.36 180.30v1.6" class="tk"/>
<text x="501.08" y="323.30" font-size="9.40" text-anchor="middle" textLength="12.20" lengthAdjust="spacingAndGlyphs">0.4</text>
<path d="M503.08 310.50v-1.6M503.08 180.30v1.6" class="tk"/>
<text x="549.80" y="323.30" font-size="9.40" text-anchor="middle" textLength="12.20" lengthAdjust="spacingAndGlyphs">0.6</text>
<path d="M551.80 310.50v-1.6M551.80 180.30v1.6" class="tk"/>
<text x="493.40" y="333.20" font-size="11.00" text-anchor="middle" textLength="37.50" lengthAdjust="spacingAndGlyphs">Tested <tspan font-size="12">ε</tspan></text>
<rect x="430.00" y="180.30" width="121.80" height="130.20" class="bx"/>
<rect x="557.80" y="180.30" width="12.30" height="130.20" class="bx"/>
<text x="10.30" y="83.65" font-size="10.30" text-anchor="middle" textLength="56.50" lengthAdjust="spacingAndGlyphs" transform="rotate(-90 10.30 83.65)">Tested H (m)</text>
<text x="10.30" y="249.90" font-size="10.30" text-anchor="middle" textLength="56.50" lengthAdjust="spacingAndGlyphs" transform="rotate(-90 10.30 249.90)">Tested H (m)</text>
<text x="179.70" y="17.20" font-size="9.40" text-anchor="start" textLength="5.00" lengthAdjust="spacingAndGlyphs">1</text>
<path d="M164.10 13.80h1.5M176.40 13.80h-1.5" class="tk"/>
<text x="179.70" y="82.90" font-size="9.40" text-anchor="start" textLength="5.00" lengthAdjust="spacingAndGlyphs">0</text>
<path d="M164.10 79.50h1.5M176.40 79.50h-1.5" class="tk"/>
<text x="179.70" y="147.40" font-size="9.40" text-anchor="start" textLength="8.00" lengthAdjust="spacingAndGlyphs">-1</text>
<path d="M164.10 144.00h1.5M176.40 144.00h-1.5" class="tk"/>
<text x="179.70" y="313.90" font-size="9.40" text-anchor="start" textLength="5.00" lengthAdjust="spacingAndGlyphs">0</text>
<path d="M164.10 310.50h1.5M176.40 310.50h-1.5" class="tk"/>
<text x="179.70" y="281.35" font-size="9.40" text-anchor="start" textLength="10.00" lengthAdjust="spacingAndGlyphs">10</text>
<path d="M164.10 277.95h1.5M176.40 277.95h-1.5" class="tk"/>
<text x="179.70" y="248.80" font-size="9.40" text-anchor="start" textLength="10.00" lengthAdjust="spacingAndGlyphs">20</text>
<path d="M164.10 245.40h1.5M176.40 245.40h-1.5" class="tk"/>
<text x="179.70" y="216.25" font-size="9.40" text-anchor="start" textLength="10.00" lengthAdjust="spacingAndGlyphs">30</text>
<path d="M164.10 212.85h1.5M176.40 212.85h-1.5" class="tk"/>
<text x="179.70" y="183.70" font-size="9.40" text-anchor="start" textLength="10.00" lengthAdjust="spacingAndGlyphs">40</text>
<path d="M164.10 180.30h1.5M176.40 180.30h-1.5" class="tk"/>
<text x="375.40" y="29.20" font-size="9.40" text-anchor="start" textLength="5.00" lengthAdjust="spacingAndGlyphs">4</text>
<path d="M359.80 25.80h1.5M372.10 25.80h-1.5" class="tk"/>
<text x="375.40" y="60.70" font-size="9.40" text-anchor="start" textLength="5.00" lengthAdjust="spacingAndGlyphs">2</text>
<path d="M359.80 57.30h1.5M372.10 57.30h-1.5" class="tk"/>
<text x="375.40" y="90.80" font-size="9.40" text-anchor="start" textLength="5.00" lengthAdjust="spacingAndGlyphs">0</text>
<path d="M359.80 87.40h1.5M372.10 87.40h-1.5" class="tk"/>
<text x="375.40" y="122.30" font-size="9.40" text-anchor="start" textLength="8.00" lengthAdjust="spacingAndGlyphs">-2</text>
<path d="M359.80 118.90h1.5M372.10 118.90h-1.5" class="tk"/>
<text x="375.40" y="313.90" font-size="9.40" text-anchor="start" textLength="5.00" lengthAdjust="spacingAndGlyphs">0</text>
<path d="M359.80 310.50h1.5M372.10 310.50h-1.5" class="tk"/>
<text x="375.40" y="281.35" font-size="9.40" text-anchor="start" textLength="10.00" lengthAdjust="spacingAndGlyphs">10</text>
<path d="M359.80 277.95h1.5M372.10 277.95h-1.5" class="tk"/>
<text x="375.40" y="248.80" font-size="9.40" text-anchor="start" textLength="10.00" lengthAdjust="spacingAndGlyphs">20</text>
<path d="M359.80 245.40h1.5M372.10 245.40h-1.5" class="tk"/>
<text x="375.40" y="216.25" font-size="9.40" text-anchor="start" textLength="10.00" lengthAdjust="spacingAndGlyphs">30</text>
<path d="M359.80 212.85h1.5M372.10 212.85h-1.5" class="tk"/>
<text x="375.40" y="183.70" font-size="9.40" text-anchor="start" textLength="10.00" lengthAdjust="spacingAndGlyphs">40</text>
<path d="M359.80 180.30h1.5M372.10 180.30h-1.5" class="tk"/>
<text x="573.40" y="26.00" font-size="9.40" text-anchor="start" textLength="10.00" lengthAdjust="spacingAndGlyphs">15</text>
<path d="M557.80 22.60h1.5M570.10 22.60h-1.5" class="tk"/>
<text x="573.40" y="54.80" font-size="9.40" text-anchor="start" textLength="10.00" lengthAdjust="spacingAndGlyphs">10</text>
<path d="M557.80 51.40h1.5M570.10 51.40h-1.5" class="tk"/>
<text x="573.40" y="83.60" font-size="9.40" text-anchor="start" textLength="5.00" lengthAdjust="spacingAndGlyphs">5</text>
<path d="M557.80 80.20h1.5M570.10 80.20h-1.5" class="tk"/>
<text x="573.40" y="111.80" font-size="9.40" text-anchor="start" textLength="5.00" lengthAdjust="spacingAndGlyphs">0</text>
<path d="M557.80 108.40h1.5M570.10 108.40h-1.5" class="tk"/>
<text x="573.40" y="140.50" font-size="9.40" text-anchor="start" textLength="8.00" lengthAdjust="spacingAndGlyphs">-5</text>
<path d="M557.80 137.10h1.5M570.10 137.10h-1.5" class="tk"/>
<text x="573.40" y="313.90" font-size="9.40" text-anchor="start" textLength="5.00" lengthAdjust="spacingAndGlyphs">0</text>
<path d="M557.80 310.50h1.5M570.10 310.50h-1.5" class="tk"/>
<text x="573.40" y="281.35" font-size="9.40" text-anchor="start" textLength="10.00" lengthAdjust="spacingAndGlyphs">10</text>
<path d="M557.80 277.95h1.5M570.10 277.95h-1.5" class="tk"/>
<text x="573.40" y="248.80" font-size="9.40" text-anchor="start" textLength="10.00" lengthAdjust="spacingAndGlyphs">20</text>
<path d="M557.80 245.40h1.5M570.10 245.40h-1.5" class="tk"/>
<text x="573.40" y="216.25" font-size="9.40" text-anchor="start" textLength="10.00" lengthAdjust="spacingAndGlyphs">30</text>
<path d="M557.80 212.85h1.5M570.10 212.85h-1.5" class="tk"/>
<text x="573.40" y="183.70" font-size="9.40" text-anchor="start" textLength="10.00" lengthAdjust="spacingAndGlyphs">40</text>
<path d="M557.80 180.30h1.5M570.10 180.30h-1.5" class="tk"/>
<text x="197.80" y="80.20" font-size="10" text-anchor="middle" textLength="110" lengthAdjust="spacingAndGlyphs" transform="rotate(-90 197.80 80.20)">Error in V<tspan font-size="7" dy="2">0</tspan><tspan dy="-2"> estimation (%)</tspan></text>
<text x="393.50" y="80.20" font-size="10" text-anchor="middle" textLength="110" lengthAdjust="spacingAndGlyphs" transform="rotate(-90 393.50 80.20)">Error in V<tspan font-size="7" dy="2">0</tspan><tspan dy="-2"> estimation (%)</tspan></text>
<text x="595.00" y="80.20" font-size="10" text-anchor="middle" textLength="110" lengthAdjust="spacingAndGlyphs" transform="rotate(-90 595.00 80.20)">Error in V<tspan font-size="7" dy="2">0</tspan><tspan dy="-2"> estimation (%)</tspan></text>
<text x="201.20" y="248.00" font-size="10" text-anchor="middle" textLength="120" lengthAdjust="spacingAndGlyphs" transform="rotate(-90 201.20 248.00)">Volume uncertainty δV<tspan font-size="7" dy="2">0</tspan><tspan dy="-2"> (%)</tspan></text>
<text x="397.00" y="248.00" font-size="10" text-anchor="middle" textLength="120" lengthAdjust="spacingAndGlyphs" transform="rotate(-90 397.00 248.00)">Volume uncertainty δV<tspan font-size="7" dy="2">0</tspan><tspan dy="-2"> (%)</tspan></text>
<text x="596.80" y="248.00" font-size="10" text-anchor="middle" textLength="120" lengthAdjust="spacingAndGlyphs" transform="rotate(-90 596.80 248.00)">Volume uncertainty δV<tspan font-size="7" dy="2">0</tspan><tspan dy="-2"> (%)</tspan></text>
<text x="96.50" y="8.70" font-size="10.50" text-anchor="middle" font-weight="bold" textLength="50.30" lengthAdjust="spacingAndGlyphs">Noise free</text>
<text x="293.90" y="8.50" font-size="10.50" text-anchor="middle" font-weight="bold" textLength="33.10" lengthAdjust="spacingAndGlyphs">SNR=5</text>
<text x="491.00" y="8.50" font-size="10.50" text-anchor="middle" font-weight="bold" textLength="42.00" lengthAdjust="spacingAndGlyphs">SNR=0.5</text>
<text x="1.50" y="6.80" font-size="10.00" text-anchor="start" font-weight="bold">a</text>
<text x="1.20" y="185.80" font-size="10.50" text-anchor="start" font-weight="bold">b</text></svg>
</body></html>
